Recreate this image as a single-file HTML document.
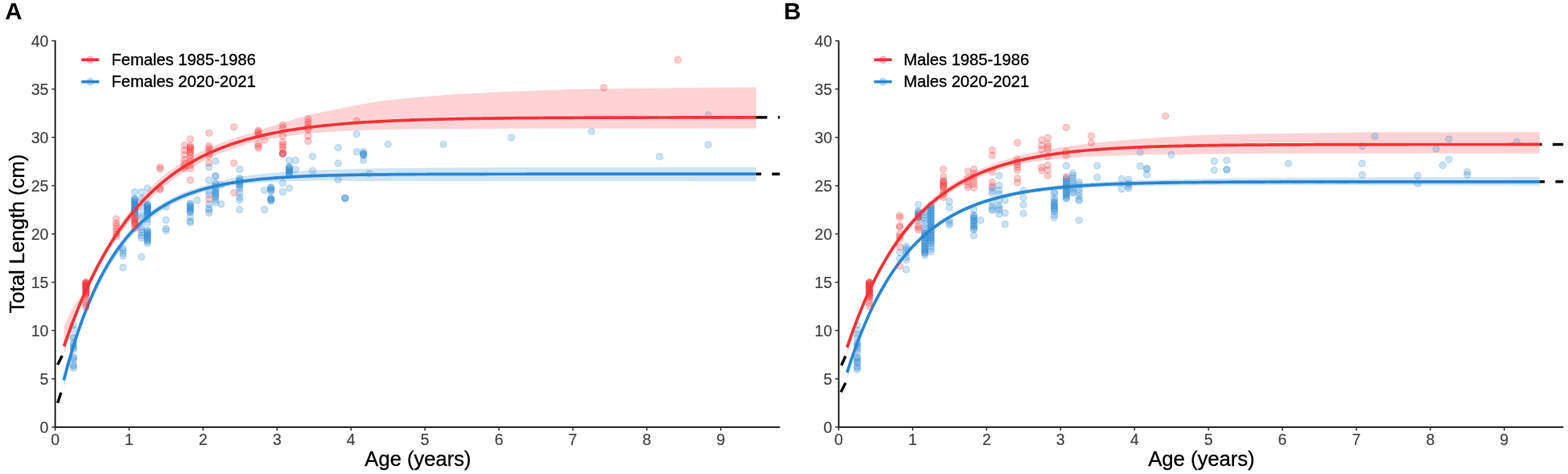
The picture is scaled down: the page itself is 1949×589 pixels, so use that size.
<!DOCTYPE html><html><head><meta charset="utf-8"><style>html,body{margin:0;padding:0;background:#fff;}svg{display:block;}</style></head><body>
<svg font-family='&quot;Liberation Sans&quot;, Arial, sans-serif' width="1949" height="589" viewBox="0 0 1949 589">
<rect width="1949" height="589" fill="#fff"/>
<defs><clipPath id="clipA"><rect x="68.6" y="40" width="900.8" height="490.7"/></clipPath></defs>
<g clip-path="url(#clipA)">
<path d="M79.63,404.98 L83.95,395.61 L88.28,386.77 L92.60,379.38 L96.92,373.11 L101.25,367.31 L105.57,358.46 L109.89,349.34 L114.22,340.64 L118.54,332.33 L122.87,324.40 L127.19,316.26 L131.51,308.32 L135.84,300.71 L140.16,293.42 L144.48,286.43 L148.81,279.73 L153.13,273.31 L157.45,267.15 L161.78,261.32 L166.10,255.94 L170.42,250.79 L174.75,245.85 L179.07,241.14 L183.39,236.62 L187.72,232.29 L192.04,228.16 L196.36,224.19 L200.69,220.49 L205.01,216.98 L209.33,213.62 L213.66,210.41 L217.98,207.35 L222.31,204.41 L226.63,201.61 L230.95,198.93 L235.28,196.37 L239.60,193.93 L243.92,191.59 L248.25,189.35 L252.57,187.22 L256.89,185.19 L261.22,183.25 L265.54,181.39 L269.86,179.63 L274.19,177.93 L278.51,176.32 L282.83,174.78 L287.16,173.31 L291.48,171.90 L295.80,170.56 L300.13,169.20 L304.45,167.79 L308.77,166.43 L313.10,165.13 L317.42,163.87 L321.74,162.31 L326.07,160.77 L330.39,159.28 L334.72,157.83 L339.04,156.42 L343.36,155.05 L347.69,153.71 L352.01,152.41 L356.33,151.15 L360.66,149.83 L364.98,148.40 L369.30,147.00 L373.63,145.63 L377.95,144.29 L382.27,143.20 L386.60,142.24 L390.92,141.30 L395.24,140.38 L399.57,139.49 L403.89,138.62 L408.21,137.77 L412.54,136.94 L416.86,136.03 L421.18,135.12 L425.51,134.22 L429.83,133.34 L434.16,132.48 L438.48,131.63 L442.80,130.80 L447.13,129.98 L451.45,129.17 L455.77,128.38 L460.10,127.59 L464.42,126.82 L468.74,126.13 L473.07,125.62 L477.39,125.13 L481.71,124.65 L486.04,124.17 L490.36,123.70 L494.68,123.25 L499.01,122.80 L503.33,122.35 L507.65,121.92 L511.98,121.49 L516.30,121.07 L520.62,120.65 L524.95,120.29 L529.27,119.95 L533.60,119.61 L537.92,119.28 L542.24,118.95 L546.57,118.63 L550.89,118.32 L555.21,118.01 L559.54,117.70 L563.86,117.39 L568.18,117.09 L572.51,116.80 L576.83,116.51 L581.15,116.24 L585.48,116.04 L589.80,115.83 L594.12,115.63 L598.45,115.43 L602.77,115.23 L607.09,115.04 L611.42,114.85 L615.74,114.66 L620.06,114.47 L624.39,114.29 L628.71,114.10 L633.03,113.92 L637.36,113.74 L641.68,113.57 L646.01,113.39 L650.33,113.22 L654.65,113.05 L658.98,112.88 L663.30,112.71 L667.62,112.54 L671.95,112.37 L676.27,112.21 L680.59,112.04 L684.92,111.88 L689.24,111.72 L693.56,111.56 L697.89,111.40 L702.21,111.24 L706.53,111.08 L710.86,110.93 L715.18,110.84 L719.50,110.78 L723.83,110.72 L728.15,110.67 L732.47,110.61 L736.80,110.55 L741.12,110.50 L745.45,110.44 L749.77,110.39 L754.09,110.34 L758.42,110.28 L762.74,110.23 L767.06,110.18 L771.39,110.13 L775.71,110.08 L780.03,110.03 L784.36,109.98 L788.68,109.93 L793.00,109.88 L797.33,109.83 L801.65,109.78 L805.97,109.73 L810.30,109.68 L814.62,109.64 L818.94,109.59 L823.27,109.54 L827.59,109.49 L831.91,109.45 L836.24,109.40 L840.56,109.36 L844.89,109.31 L849.21,109.26 L853.53,109.22 L857.86,109.17 L862.18,109.13 L866.50,109.08 L870.83,109.04 L875.15,108.99 L879.47,108.95 L883.80,108.90 L888.12,108.86 L892.44,108.82 L896.77,108.77 L901.09,108.73 L905.41,108.69 L909.74,108.64 L914.06,108.60 L918.38,108.56 L922.71,108.51 L927.03,108.47 L931.35,108.43 L935.68,108.38 L940.00,108.34 L940.00,159.58 L935.68,159.57 L931.35,159.57 L927.03,159.56 L922.71,159.55 L918.38,159.55 L914.06,159.54 L909.74,159.53 L905.41,159.53 L901.09,159.52 L896.77,159.51 L892.44,159.51 L888.12,159.50 L883.80,159.49 L879.47,159.49 L875.15,159.48 L870.83,159.48 L866.50,159.47 L862.18,159.47 L857.86,159.46 L853.53,159.46 L849.21,159.45 L844.89,159.45 L840.56,159.44 L836.24,159.44 L831.91,159.44 L827.59,159.43 L823.27,159.43 L818.94,159.43 L814.62,159.42 L810.30,159.42 L805.97,159.42 L801.65,159.42 L797.33,159.42 L793.00,159.41 L788.68,159.41 L784.36,159.41 L780.03,159.41 L775.71,159.41 L771.39,159.42 L767.06,159.42 L762.74,159.42 L758.42,159.42 L754.09,159.42 L749.77,159.43 L745.45,159.43 L741.12,159.44 L736.80,159.44 L732.47,159.45 L728.15,159.45 L723.83,159.46 L719.50,159.47 L715.18,159.48 L710.86,159.48 L706.53,159.49 L702.21,159.49 L697.89,159.50 L693.56,159.51 L689.24,159.51 L684.92,159.52 L680.59,159.53 L676.27,159.54 L671.95,159.55 L667.62,159.57 L663.30,159.58 L658.98,159.60 L654.65,159.62 L650.33,159.64 L646.01,159.66 L641.68,159.68 L637.36,159.70 L633.03,159.73 L628.71,159.76 L624.39,159.79 L620.06,159.82 L615.74,159.85 L611.42,159.89 L607.09,159.93 L602.77,159.97 L598.45,160.01 L594.12,160.06 L589.80,160.11 L585.48,160.16 L581.15,160.22 L576.83,160.22 L572.51,160.20 L568.18,160.18 L563.86,160.17 L559.54,160.16 L555.21,160.15 L550.89,160.15 L546.57,160.15 L542.24,160.16 L537.92,160.17 L533.60,160.19 L529.27,160.21 L524.95,160.24 L520.62,160.27 L516.30,160.32 L511.98,160.37 L507.65,160.42 L503.33,160.48 L499.01,160.55 L494.68,160.63 L490.36,160.71 L486.04,160.81 L481.71,160.91 L477.39,161.02 L473.07,161.14 L468.74,161.27 L464.42,161.39 L460.10,161.51 L455.77,161.65 L451.45,161.79 L447.13,161.95 L442.80,162.12 L438.48,162.30 L434.16,162.50 L429.83,162.71 L425.51,162.94 L421.18,163.18 L416.86,163.44 L412.54,163.72 L408.21,164.00 L403.89,164.31 L399.57,164.63 L395.24,164.97 L390.92,165.34 L386.60,165.72 L382.27,166.14 L377.95,166.59 L373.63,167.12 L369.30,167.67 L364.98,168.25 L360.66,168.86 L356.33,169.46 L352.01,170.09 L347.69,170.75 L343.36,171.44 L339.04,172.17 L334.72,172.95 L330.39,173.76 L326.07,174.61 L321.74,175.51 L317.42,176.46 L313.10,177.58 L308.77,178.75 L304.45,179.98 L300.13,181.26 L295.80,182.63 L291.48,184.08 L287.16,185.60 L282.83,187.19 L278.51,188.84 L274.19,190.57 L269.86,192.37 L265.54,194.25 L261.22,196.22 L256.89,198.27 L252.57,200.41 L248.25,202.64 L243.92,204.97 L239.60,207.40 L235.28,209.95 L230.95,212.60 L226.63,215.37 L222.31,218.27 L217.98,221.30 L213.66,224.46 L209.33,227.76 L205.01,231.21 L200.69,234.82 L196.36,238.56 L192.04,242.38 L187.72,246.38 L183.39,250.56 L179.07,254.94 L174.75,259.52 L170.42,264.31 L166.10,269.32 L161.78,274.56 L157.45,279.90 L153.13,285.42 L148.81,291.21 L144.48,297.28 L140.16,303.63 L135.84,310.29 L131.51,317.26 L127.19,324.56 L122.87,332.27 L118.54,340.56 L114.22,349.23 L109.89,358.29 L105.57,367.76 L101.25,377.78 L96.92,388.79 L92.60,400.26 L88.28,412.58 L83.95,425.91 L79.63,439.78 Z" fill="#FFD3D5"/>
<path d="M79.17,468.92 L83.50,452.96 L87.82,438.04 L92.15,424.07 L96.47,410.99 L100.80,398.75 L105.13,387.29 L109.45,376.37 L113.78,366.13 L118.10,356.54 L122.43,347.55 L126.75,338.98 L131.08,330.88 L135.41,323.27 L139.73,316.13 L144.06,309.42 L148.38,303.13 L152.71,297.21 L157.03,291.66 L161.36,286.48 L165.69,281.79 L170.01,277.39 L174.34,273.27 L178.66,269.41 L182.99,265.80 L187.32,262.41 L191.64,259.23 L195.97,256.26 L200.29,253.47 L204.62,250.86 L208.94,248.41 L213.27,246.12 L217.60,243.97 L221.92,241.95 L226.25,240.07 L230.57,238.30 L234.90,236.64 L239.22,235.09 L243.55,233.63 L247.88,232.27 L252.20,230.99 L256.53,229.64 L260.85,228.36 L265.18,227.14 L269.51,225.99 L273.83,224.91 L278.16,223.88 L282.48,222.91 L286.81,221.98 L291.13,221.11 L295.46,220.28 L299.79,219.49 L304.11,218.84 L308.44,218.24 L312.76,217.68 L317.09,217.14 L321.41,216.64 L325.74,216.17 L330.07,215.72 L334.39,215.30 L338.72,214.90 L343.04,214.52 L347.37,214.16 L351.70,213.82 L356.02,213.50 L360.35,213.20 L364.67,212.91 L369.00,212.64 L373.32,212.38 L377.65,212.13 L381.98,211.91 L386.30,211.71 L390.63,211.51 L394.95,211.33 L399.28,211.16 L403.60,211.00 L407.93,210.84 L412.26,210.69 L416.58,210.55 L420.91,210.42 L425.23,210.29 L429.56,210.17 L433.88,210.06 L438.21,209.94 L442.54,209.84 L446.86,209.74 L451.19,209.64 L455.51,209.55 L459.84,209.46 L464.17,209.39 L468.49,209.32 L472.82,209.26 L477.14,209.20 L481.47,209.15 L485.79,209.09 L490.12,209.04 L494.45,208.99 L498.77,208.94 L503.10,208.90 L507.42,208.85 L511.75,208.81 L516.07,208.77 L520.40,208.73 L524.73,208.69 L529.05,208.66 L533.38,208.62 L537.70,208.59 L542.03,208.56 L546.36,208.52 L550.68,208.49 L555.01,208.46 L559.33,208.44 L563.66,208.41 L567.98,208.38 L572.31,208.35 L576.64,208.33 L580.96,208.30 L585.29,208.28 L589.61,208.25 L593.94,208.23 L598.26,208.21 L602.59,208.18 L606.92,208.16 L611.24,208.14 L615.57,208.12 L619.89,208.10 L624.22,208.09 L628.55,208.08 L632.87,208.07 L637.20,208.07 L641.52,208.06 L645.85,208.05 L650.17,208.05 L654.50,208.04 L658.83,208.03 L663.15,208.03 L667.48,208.02 L671.80,208.02 L676.13,208.01 L680.45,208.01 L684.78,208.00 L689.11,207.99 L693.43,207.99 L697.76,207.99 L702.08,207.98 L706.41,207.98 L710.74,207.97 L715.06,207.97 L719.39,207.96 L723.71,207.96 L728.04,207.95 L732.36,207.95 L736.69,207.95 L741.02,207.94 L745.34,207.94 L749.67,207.93 L753.99,207.93 L758.32,207.93 L762.64,207.92 L766.97,207.92 L771.30,207.91 L775.62,207.91 L779.95,207.91 L784.27,207.90 L788.60,207.90 L792.92,207.90 L797.25,207.89 L801.58,207.89 L805.90,207.89 L810.23,207.88 L814.55,207.88 L818.88,207.87 L823.21,207.87 L827.53,207.87 L831.86,207.86 L836.18,207.86 L840.51,207.86 L844.83,207.85 L849.16,207.85 L853.49,207.85 L857.81,207.84 L862.14,207.84 L866.46,207.84 L870.79,207.83 L875.11,207.83 L879.44,207.83 L883.77,207.82 L888.09,207.82 L892.42,207.82 L896.74,207.81 L901.07,207.81 L905.40,207.81 L909.72,207.80 L914.05,207.80 L918.37,207.80 L922.70,207.79 L927.02,207.79 L931.35,207.79 L935.68,207.78 L940.00,207.78 L940.00,225.18 L935.68,225.18 L931.35,225.17 L927.02,225.17 L922.70,225.17 L918.37,225.16 L914.05,225.16 L909.72,225.16 L905.40,225.16 L901.07,225.15 L896.74,225.15 L892.42,225.15 L888.09,225.14 L883.77,225.14 L879.44,225.14 L875.11,225.13 L870.79,225.13 L866.46,225.13 L862.14,225.12 L857.81,225.12 L853.49,225.12 L849.16,225.11 L844.83,225.11 L840.51,225.11 L836.18,225.11 L831.86,225.10 L827.53,225.10 L823.21,225.10 L818.88,225.09 L814.55,225.09 L810.23,225.09 L805.90,225.08 L801.58,225.08 L797.25,225.08 L792.92,225.08 L788.60,225.07 L784.27,225.07 L779.95,225.07 L775.62,225.06 L771.30,225.06 L766.97,225.06 L762.64,225.06 L758.32,225.05 L753.99,225.05 L749.67,225.05 L745.34,225.05 L741.02,225.04 L736.69,225.04 L732.36,225.04 L728.04,225.04 L723.71,225.03 L719.39,225.03 L715.06,225.03 L710.74,225.03 L706.41,225.03 L702.08,225.02 L697.76,225.02 L693.43,225.02 L689.11,225.02 L684.78,225.02 L680.45,225.02 L676.13,225.01 L671.80,225.01 L667.48,225.01 L663.15,225.01 L658.83,225.01 L654.50,225.01 L650.17,225.01 L645.85,225.01 L641.52,225.01 L637.20,225.01 L632.87,225.01 L628.55,225.01 L624.22,225.01 L619.89,225.01 L615.57,225.00 L611.24,224.99 L606.92,224.98 L602.59,224.97 L598.26,224.96 L593.94,224.95 L589.61,224.94 L585.29,224.94 L580.96,224.93 L576.64,224.92 L572.31,224.92 L567.98,224.91 L563.66,224.90 L559.33,224.90 L555.01,224.90 L550.68,224.89 L546.36,224.89 L542.03,224.89 L537.70,224.89 L533.38,224.89 L529.05,224.89 L524.73,224.90 L520.40,224.90 L516.07,224.91 L511.75,224.92 L507.42,224.93 L503.10,224.94 L498.77,224.95 L494.45,224.97 L490.12,224.98 L485.79,225.00 L481.47,225.03 L477.14,225.05 L472.82,225.08 L468.49,225.11 L464.17,225.14 L459.84,225.17 L455.51,225.09 L451.19,225.02 L446.86,224.96 L442.54,224.90 L438.21,224.84 L433.88,224.79 L429.56,224.74 L425.23,224.70 L420.91,224.67 L416.58,224.64 L412.26,224.62 L407.93,224.60 L403.60,224.59 L399.28,224.60 L394.95,224.61 L390.63,224.62 L386.30,224.65 L381.98,224.69 L377.65,224.75 L373.32,224.83 L369.00,224.92 L364.67,225.02 L360.35,225.14 L356.02,225.28 L351.70,225.43 L347.37,225.60 L343.04,225.79 L338.72,226.00 L334.39,226.23 L330.07,226.48 L325.74,226.76 L321.41,227.07 L317.09,227.40 L312.76,227.77 L308.44,228.16 L304.11,228.60 L299.79,229.08 L295.46,229.70 L291.13,230.37 L286.81,231.08 L282.48,231.84 L278.16,232.65 L273.83,233.51 L269.51,234.44 L265.18,235.42 L260.85,236.47 L256.53,237.59 L252.20,238.80 L247.88,240.16 L243.55,241.61 L239.22,243.15 L234.90,244.78 L230.57,246.52 L226.25,248.38 L221.92,250.35 L217.60,252.45 L213.27,254.68 L208.94,257.06 L204.62,259.59 L200.29,262.29 L195.97,265.16 L191.64,268.22 L187.32,271.48 L182.99,274.96 L178.66,278.66 L174.34,282.60 L170.01,286.81 L165.69,291.29 L161.36,296.06 L157.03,301.20 L152.71,306.68 L148.38,312.53 L144.06,318.75 L139.73,325.39 L135.41,332.46 L131.08,340.00 L126.75,348.03 L122.43,356.51 L118.10,365.36 L113.78,374.81 L109.45,384.91 L105.13,395.73 L100.80,408.00 L96.47,421.05 L92.15,434.93 L87.82,449.71 L83.50,465.44 L79.17,482.12 Z" fill="#CFE4F7"/>
<path d="M969.42,145.89 L967.19,145.89 L964.96,145.89 L962.73,145.89 L960.50,145.89 L958.27,145.89 L956.04,145.89 L953.81,145.90 L951.58,145.90 L949.35,145.90 L947.12,145.90 L944.89,145.90 L942.66,145.90 L940.43,145.90 L938.20,145.90 L935.97,145.90 L933.74,145.90 L931.51,145.90 L929.28,145.91 L927.05,145.91 L924.82,145.91 L922.59,145.91 L920.36,145.91 L918.13,145.91 L915.90,145.91 L913.67,145.91 L911.43,145.91 L909.20,145.92 L906.97,145.92 L904.74,145.92 L902.51,145.92 L900.28,145.92 L898.05,145.92 L895.82,145.92 L893.59,145.93 L891.36,145.93 L889.13,145.93 L886.90,145.93 L884.67,145.93 L882.44,145.93 L880.21,145.94 L877.98,145.94 L875.75,145.94 L873.52,145.94 L871.29,145.94 L869.06,145.94 L866.83,145.95 L864.60,145.95 L862.37,145.95 L860.14,145.95 L857.91,145.95 L855.68,145.96 L853.45,145.96 L851.22,145.96 L848.99,145.96 L846.76,145.97 L844.53,145.97 L842.30,145.97 L840.07,145.97 L837.84,145.98 L835.61,145.98 L833.38,145.98 L831.15,145.98 L828.92,145.99 L826.69,145.99 L824.46,145.99 L822.23,146.00 L820.00,146.00 L817.77,146.00 L815.54,146.01 L813.31,146.01 L811.08,146.01 L808.85,146.02 L806.62,146.02 L804.39,146.02 L802.16,146.03 L799.93,146.03 L797.70,146.04 L795.47,146.04 L793.24,146.04 L791.01,146.05 L788.78,146.05 L786.55,146.06 L784.32,146.06 L782.09,146.07 L779.86,146.07 L777.63,146.08 L775.40,146.08 L773.17,146.09 L770.94,146.09 L768.71,146.10 L766.48,146.10 L764.25,146.11 L762.02,146.11 L759.79,146.12 L757.56,146.13 L755.33,146.13 L753.10,146.14 L750.87,146.14 L748.64,146.15 L746.41,146.16 L744.18,146.16 L741.95,146.17 L739.72,146.18 L737.49,146.19 L735.26,146.19 L733.03,146.20 L730.80,146.21 L728.57,146.22 L726.34,146.23 L724.11,146.23 L721.88,146.24 L719.65,146.25 L717.42,146.26 L715.19,146.27 L712.96,146.28 L710.73,146.29 L708.50,146.30 L706.27,146.31 L704.04,146.32 L701.81,146.33 L699.58,146.34 L697.35,146.35 L695.12,146.36 L692.89,146.38 L690.66,146.39 L688.43,146.40 L686.20,146.41 L683.97,146.43 L681.74,146.44 L679.51,146.45 L677.28,146.47 L675.05,146.48 L672.82,146.49 L670.59,146.51 L668.36,146.52 L666.13,146.54 L663.90,146.56 L661.67,146.57 L659.44,146.59 L657.21,146.61 L654.98,146.62 L652.75,146.64 L650.52,146.66 L648.29,146.68 L646.06,146.70 L643.83,146.72 L641.60,146.74 L639.37,146.76 L637.14,146.78 L634.91,146.80 L632.68,146.82 L630.45,146.84 L628.22,146.86 L625.99,146.89 L623.76,146.91 L621.53,146.94 L619.30,146.96 L617.07,146.99 L614.84,147.01 L612.61,147.04 L610.38,147.07 L608.15,147.09 L605.92,147.12 L603.69,147.15 L601.46,147.18 L599.23,147.21 L597.00,147.24 L594.77,147.28 L592.54,147.31 L590.31,147.34 L588.08,147.38 L585.85,147.41 L583.62,147.45 L581.39,147.49 L579.16,147.52 L576.93,147.56 L574.70,147.60 L572.47,147.64 L570.24,147.68 L568.01,147.73 L565.78,147.77 L563.55,147.81 L561.32,147.86 L559.09,147.91 L556.86,147.95 L554.63,148.00 L552.40,148.05 L550.17,148.10 L547.94,148.15 L545.71,148.21 L543.48,148.26 L541.25,148.32 L539.02,148.38 L536.79,148.43 L534.56,148.49 L532.33,148.55 L530.10,148.62 L527.87,148.68 L525.64,148.75 L523.41,148.81 L521.18,148.88 L518.95,148.95 L516.72,149.02 L514.49,149.10 L512.26,149.17 L510.03,149.25 L507.80,149.33 L505.57,149.41 L503.34,149.49 L501.11,149.58 L498.88,149.66 L496.65,149.75 L494.42,149.84 L492.19,149.93 L489.96,150.03 L487.73,150.12 L485.50,150.22 L483.27,150.32 L481.04,150.43 L478.81,150.53 L476.58,150.64 L474.35,150.75 L472.12,150.87 L469.89,150.98 L467.66,151.10 L465.43,151.22 L463.20,151.35 L460.97,151.48 L458.74,151.61 L456.51,151.74 L454.28,151.88 L452.05,152.02 L449.82,152.16 L447.59,152.30 L445.36,152.45 L443.13,152.61 L440.90,152.76 L438.67,152.92 L436.44,153.09 L434.21,153.26 L431.98,153.43 L429.75,153.60 L427.52,153.78 L425.29,153.97 L423.06,154.16 L420.83,154.35 L418.60,154.55 L416.37,154.75 L414.14,154.95 L411.91,155.16 L409.68,155.38 L407.45,155.60 L405.22,155.83 L402.99,156.06 L400.76,156.30 L398.53,156.54 L396.30,156.79 L394.07,157.04 L391.84,157.30 L389.61,157.56 L387.38,157.84 L385.15,158.11 L382.92,158.40 L380.69,158.69 L378.46,158.99 L376.23,159.29 L374.00,159.60 L371.77,159.92 L369.54,160.25 L367.31,160.58 L365.08,160.93 L362.85,161.28 L360.62,161.63 L358.39,162.00 L356.16,162.37 L353.93,162.76 L351.70,163.15 L349.47,163.55 L347.24,163.96 L345.01,164.38 L342.78,164.81 L340.54,165.25 L338.31,165.70 L336.08,166.16 L333.85,166.63 L331.62,167.12 L329.39,167.61 L327.16,168.12 L324.93,168.63 L322.70,169.16 L320.47,169.70 L318.24,170.26 L316.01,170.82 L313.78,171.40 L311.55,171.99 L309.32,172.60 L307.09,173.22 L304.86,173.86 L302.63,174.51 L300.40,175.17 L298.17,175.85 L295.94,176.55 L293.71,177.26 L291.48,177.99 L289.25,178.74 L287.02,179.50 L284.79,180.28 L282.56,181.08 L280.33,181.90 L278.10,182.73 L275.87,183.59 L273.64,184.47 L271.41,185.36 L269.18,186.28 L266.95,187.22 L264.72,188.18 L262.49,189.16 L260.26,190.17 L258.03,191.19 L255.80,192.25 L253.57,193.32 L251.34,194.43 L249.11,195.55 L246.88,196.71 L244.65,197.89 L242.42,199.09 L240.19,200.33 L237.96,201.60 L235.73,202.89 L233.50,204.21 L231.27,205.57 L229.04,206.95 L226.81,208.37 L224.58,209.82 L222.35,211.31 L220.12,212.83 L217.89,214.38 L215.66,215.97 L213.43,217.60 L211.20,219.27 L208.97,220.97 L206.74,222.72 L204.51,224.50 L202.28,226.33 L200.05,228.19 L197.82,230.10 L195.59,232.06 L193.36,234.06 L191.13,236.11 L188.90,238.20 L186.67,240.35 L184.44,242.54 L182.21,244.79 L179.98,247.08 L177.75,249.43 L175.52,251.84 L173.29,254.30 L171.06,256.82 L168.83,259.39 L166.60,262.03 L164.37,264.72 L162.14,267.48 L159.91,270.31 L157.68,273.20 L155.45,276.15 L153.22,279.18 L150.99,282.27 L148.76,285.44 L146.53,288.68 L144.30,292.00 L142.07,295.39 L139.84,298.86 L137.61,302.41 L135.38,306.05 L133.15,309.77 L130.92,313.57 L128.69,317.46 L126.46,321.45 L124.23,325.53 L122.00,329.70 L119.77,333.96 L117.54,338.33 L115.31,342.80 L113.08,347.37 L110.85,352.05 L108.62,356.84 L106.39,361.74 L104.16,366.75 L101.93,371.88 L99.70,377.12 L97.47,382.49 L95.24,387.98 L93.01,393.61 L90.78,399.36 L88.55,405.24 L86.32,411.26 L84.09,417.43 L81.86,423.73 L79.63,430.18" fill="none" stroke="#000" stroke-width="2.6" stroke-dasharray="13.6 13.6" stroke-dashoffset="11.2"/>
<path d="M969.42,145.89 L968.40,145.89 L967.39,145.89 L966.37,145.89 L965.36,145.89 L964.34,145.89 L963.33,145.89 L962.32,145.89 L961.30,145.89 L960.29,145.89 L959.27,145.89 L958.26,145.89 L957.24,145.89 L956.23,145.89 L955.22,145.89 L954.20,145.90 L953.19,145.90 L952.17,145.90 L951.16,145.90 L950.14,145.90 L949.13,145.90 L948.12,145.90 L947.10,145.90 L946.09,145.90 L945.07,145.90 L944.06,145.90 L943.04,145.90 L942.03,145.90 L941.02,145.90 L940.00,145.90" fill="none" stroke="#000" stroke-width="3.4" stroke-dasharray="13.6 13.6" stroke-dashoffset="11.2"/>
<path d="M77.2,442.0 L71.6,453.2" stroke="#000" stroke-width="3.4"/>
<path d="M969.42,216.18 L967.18,216.18 L964.95,216.18 L962.72,216.18 L960.49,216.18 L958.26,216.18 L956.03,216.18 L953.80,216.18 L951.57,216.18 L949.34,216.18 L947.10,216.18 L944.87,216.18 L942.64,216.18 L940.41,216.18 L938.18,216.18 L935.95,216.18 L933.72,216.18 L931.49,216.18 L929.25,216.18 L927.02,216.18 L924.79,216.18 L922.56,216.18 L920.33,216.18 L918.10,216.18 L915.87,216.18 L913.64,216.18 L911.41,216.18 L909.17,216.18 L906.94,216.18 L904.71,216.18 L902.48,216.18 L900.25,216.18 L898.02,216.18 L895.79,216.18 L893.56,216.18 L891.32,216.18 L889.09,216.18 L886.86,216.18 L884.63,216.18 L882.40,216.18 L880.17,216.18 L877.94,216.18 L875.71,216.18 L873.47,216.18 L871.24,216.18 L869.01,216.18 L866.78,216.18 L864.55,216.18 L862.32,216.18 L860.09,216.18 L857.86,216.18 L855.63,216.18 L853.39,216.18 L851.16,216.18 L848.93,216.18 L846.70,216.18 L844.47,216.18 L842.24,216.18 L840.01,216.18 L837.78,216.18 L835.54,216.18 L833.31,216.18 L831.08,216.18 L828.85,216.18 L826.62,216.18 L824.39,216.18 L822.16,216.18 L819.93,216.18 L817.70,216.18 L815.46,216.18 L813.23,216.18 L811.00,216.18 L808.77,216.18 L806.54,216.18 L804.31,216.18 L802.08,216.18 L799.85,216.19 L797.61,216.19 L795.38,216.19 L793.15,216.19 L790.92,216.19 L788.69,216.19 L786.46,216.19 L784.23,216.19 L782.00,216.19 L779.76,216.19 L777.53,216.19 L775.30,216.19 L773.07,216.19 L770.84,216.19 L768.61,216.19 L766.38,216.19 L764.15,216.19 L761.92,216.19 L759.68,216.19 L757.45,216.19 L755.22,216.19 L752.99,216.19 L750.76,216.19 L748.53,216.19 L746.30,216.19 L744.07,216.19 L741.83,216.19 L739.60,216.19 L737.37,216.19 L735.14,216.19 L732.91,216.19 L730.68,216.19 L728.45,216.19 L726.22,216.20 L723.98,216.20 L721.75,216.20 L719.52,216.20 L717.29,216.20 L715.06,216.20 L712.83,216.20 L710.60,216.20 L708.37,216.20 L706.14,216.20 L703.90,216.20 L701.67,216.20 L699.44,216.20 L697.21,216.20 L694.98,216.20 L692.75,216.21 L690.52,216.21 L688.29,216.21 L686.05,216.21 L683.82,216.21 L681.59,216.21 L679.36,216.21 L677.13,216.21 L674.90,216.21 L672.67,216.21 L670.44,216.22 L668.21,216.22 L665.97,216.22 L663.74,216.22 L661.51,216.22 L659.28,216.22 L657.05,216.22 L654.82,216.22 L652.59,216.23 L650.36,216.23 L648.12,216.23 L645.89,216.23 L643.66,216.23 L641.43,216.23 L639.20,216.24 L636.97,216.24 L634.74,216.24 L632.51,216.24 L630.27,216.24 L628.04,216.25 L625.81,216.25 L623.58,216.25 L621.35,216.25 L619.12,216.26 L616.89,216.26 L614.66,216.26 L612.43,216.26 L610.19,216.27 L607.96,216.27 L605.73,216.27 L603.50,216.28 L601.27,216.28 L599.04,216.28 L596.81,216.29 L594.58,216.29 L592.34,216.29 L590.11,216.30 L587.88,216.30 L585.65,216.31 L583.42,216.31 L581.19,216.32 L578.96,216.32 L576.73,216.32 L574.50,216.33 L572.26,216.33 L570.03,216.34 L567.80,216.35 L565.57,216.35 L563.34,216.36 L561.11,216.36 L558.88,216.37 L556.65,216.38 L554.41,216.38 L552.18,216.39 L549.95,216.40 L547.72,216.40 L545.49,216.41 L543.26,216.42 L541.03,216.43 L538.80,216.44 L536.56,216.44 L534.33,216.45 L532.10,216.46 L529.87,216.47 L527.64,216.48 L525.41,216.49 L523.18,216.50 L520.95,216.51 L518.72,216.53 L516.48,216.54 L514.25,216.55 L512.02,216.56 L509.79,216.58 L507.56,216.59 L505.33,216.60 L503.10,216.62 L500.87,216.63 L498.63,216.65 L496.40,216.66 L494.17,216.68 L491.94,216.70 L489.71,216.71 L487.48,216.73 L485.25,216.75 L483.02,216.77 L480.79,216.79 L478.55,216.81 L476.32,216.83 L474.09,216.86 L471.86,216.88 L469.63,216.90 L467.40,216.93 L465.17,216.95 L462.94,216.98 L460.70,217.01 L458.47,217.04 L456.24,217.06 L454.01,217.09 L451.78,217.13 L449.55,217.16 L447.32,217.19 L445.09,217.23 L442.85,217.26 L440.62,217.30 L438.39,217.34 L436.16,217.38 L433.93,217.42 L431.70,217.46 L429.47,217.50 L427.24,217.55 L425.01,217.59 L422.77,217.64 L420.54,217.69 L418.31,217.74 L416.08,217.80 L413.85,217.85 L411.62,217.91 L409.39,217.97 L407.16,218.03 L404.92,218.09 L402.69,218.16 L400.46,218.23 L398.23,218.30 L396.00,218.37 L393.77,218.44 L391.54,218.52 L389.31,218.60 L387.08,218.68 L384.84,218.77 L382.61,218.86 L380.38,218.95 L378.15,219.04 L375.92,219.14 L373.69,219.24 L371.46,219.34 L369.23,219.45 L366.99,219.56 L364.76,219.68 L362.53,219.80 L360.30,219.92 L358.07,220.05 L355.84,220.18 L353.61,220.32 L351.38,220.46 L349.14,220.61 L346.91,220.76 L344.68,220.91 L342.45,221.07 L340.22,221.24 L337.99,221.41 L335.76,221.59 L333.53,221.78 L331.30,221.97 L329.06,222.17 L326.83,222.37 L324.60,222.58 L322.37,222.80 L320.14,223.03 L317.91,223.26 L315.68,223.50 L313.45,223.75 L311.21,224.01 L308.98,224.28 L306.75,224.55 L304.52,224.84 L302.29,225.13 L300.06,225.44 L297.83,225.75 L295.60,226.08 L293.37,226.42 L291.13,226.77 L288.90,227.13 L286.67,227.50 L284.44,227.89 L282.21,228.29 L279.98,228.70 L277.75,229.13 L275.52,229.57 L273.28,230.03 L271.05,230.50 L268.82,230.99 L266.59,231.49 L264.36,232.02 L262.13,232.56 L259.90,233.11 L257.67,233.69 L255.43,234.29 L253.20,234.91 L250.97,235.55 L248.74,236.21 L246.51,236.89 L244.28,237.60 L242.05,238.33 L239.82,239.08 L237.59,239.86 L235.35,240.67 L233.12,241.51 L230.89,242.37 L228.66,243.26 L226.43,244.19 L224.20,245.14 L221.97,246.13 L219.74,247.15 L217.50,248.21 L215.27,249.30 L213.04,250.43 L210.81,251.60 L208.58,252.81 L206.35,254.06 L204.12,255.35 L201.89,256.69 L199.66,258.07 L197.42,259.50 L195.19,260.98 L192.96,262.51 L190.73,264.09 L188.50,265.72 L186.27,267.41 L184.04,269.16 L181.81,270.97 L179.57,272.83 L177.34,274.77 L175.11,276.77 L172.88,278.83 L170.65,280.97 L168.42,283.18 L166.19,285.47 L163.96,287.83 L161.72,290.27 L159.49,292.80 L157.26,295.41 L155.03,298.12 L152.80,300.91 L150.57,303.80 L148.34,306.79 L146.11,309.88 L143.88,313.08 L141.64,316.39 L139.41,319.81 L137.18,323.34 L134.95,327.00 L132.72,330.78 L130.49,334.69 L128.26,338.73 L126.03,342.91 L123.79,347.23 L121.56,351.70 L119.33,356.33 L117.10,361.11 L114.87,366.05 L112.64,371.17 L110.41,376.45 L108.18,381.92 L105.95,387.57 L103.71,393.42 L101.48,399.47 L99.25,405.72 L97.02,412.19 L94.79,418.87 L92.56,425.79 L90.33,432.94 L88.10,440.33 L85.86,447.98 L83.63,455.89 L81.40,464.07 L79.17,472.52" fill="none" stroke="#000" stroke-width="2.6" stroke-dasharray="13.6 13.6" stroke-dashoffset="3.9"/>
<path d="M969.42,216.18 L968.40,216.18 L967.39,216.18 L966.37,216.18 L965.36,216.18 L964.34,216.18 L963.33,216.18 L962.32,216.18 L961.30,216.18 L960.29,216.18 L959.27,216.18 L958.26,216.18 L957.24,216.18 L956.23,216.18 L955.22,216.18 L954.20,216.18 L953.19,216.18 L952.17,216.18 L951.16,216.18 L950.14,216.18 L949.13,216.18 L948.12,216.18 L947.10,216.18 L946.09,216.18 L945.07,216.18 L944.06,216.18 L943.04,216.18 L942.03,216.18 L941.02,216.18 L940.00,216.18" fill="none" stroke="#000" stroke-width="3.4" stroke-dasharray="13.6 13.6" stroke-dashoffset="3.9"/>
<path d="M75.9,487.7 L71.6,500.7" stroke="#000" stroke-width="3.4"/>
<circle cx="91.3" cy="403.9" r="4.05" fill="#2887D3" fill-opacity="0.24" stroke="#2887D3" stroke-opacity="0.25" stroke-width="1.2"/>
<circle cx="91.3" cy="409.3" r="4.05" fill="#2887D3" fill-opacity="0.24" stroke="#2887D3" stroke-opacity="0.25" stroke-width="1.2"/>
<circle cx="91.3" cy="418.8" r="4.05" fill="#2887D3" fill-opacity="0.24" stroke="#2887D3" stroke-opacity="0.25" stroke-width="1.2"/>
<circle cx="91.3" cy="425.9" r="4.05" fill="#2887D3" fill-opacity="0.24" stroke="#2887D3" stroke-opacity="0.25" stroke-width="1.2"/>
<circle cx="91.3" cy="430.7" r="4.05" fill="#2887D3" fill-opacity="0.24" stroke="#2887D3" stroke-opacity="0.25" stroke-width="1.2"/>
<circle cx="91.3" cy="434.2" r="4.05" fill="#2887D3" fill-opacity="0.24" stroke="#2887D3" stroke-opacity="0.25" stroke-width="1.2"/>
<circle cx="91.3" cy="443.7" r="4.05" fill="#2887D3" fill-opacity="0.24" stroke="#2887D3" stroke-opacity="0.25" stroke-width="1.2"/>
<circle cx="91.3" cy="447.3" r="4.05" fill="#2887D3" fill-opacity="0.24" stroke="#2887D3" stroke-opacity="0.25" stroke-width="1.2"/>
<circle cx="91.3" cy="453.3" r="4.05" fill="#2887D3" fill-opacity="0.24" stroke="#2887D3" stroke-opacity="0.25" stroke-width="1.2"/>
<circle cx="91.3" cy="457.4" r="4.05" fill="#2887D3" fill-opacity="0.24" stroke="#2887D3" stroke-opacity="0.25" stroke-width="1.2"/>
<circle cx="152.9" cy="308.7" r="4.05" fill="#2887D3" fill-opacity="0.24" stroke="#2887D3" stroke-opacity="0.25" stroke-width="1.2"/>
<circle cx="152.9" cy="311.2" r="4.05" fill="#2887D3" fill-opacity="0.24" stroke="#2887D3" stroke-opacity="0.25" stroke-width="1.2"/>
<circle cx="152.9" cy="314.6" r="4.05" fill="#2887D3" fill-opacity="0.24" stroke="#2887D3" stroke-opacity="0.25" stroke-width="1.2"/>
<circle cx="152.9" cy="318.0" r="4.05" fill="#2887D3" fill-opacity="0.24" stroke="#2887D3" stroke-opacity="0.25" stroke-width="1.2"/>
<circle cx="152.9" cy="332.4" r="4.05" fill="#2887D3" fill-opacity="0.24" stroke="#2887D3" stroke-opacity="0.25" stroke-width="1.2"/>
<circle cx="167.4" cy="238.6" r="4.05" fill="#2887D3" fill-opacity="0.24" stroke="#2887D3" stroke-opacity="0.25" stroke-width="1.2"/>
<circle cx="167.4" cy="247.4" r="4.05" fill="#2887D3" fill-opacity="0.24" stroke="#2887D3" stroke-opacity="0.25" stroke-width="1.2"/>
<circle cx="167.4" cy="250.8" r="4.05" fill="#2887D3" fill-opacity="0.24" stroke="#2887D3" stroke-opacity="0.25" stroke-width="1.2"/>
<circle cx="167.4" cy="254.2" r="4.05" fill="#2887D3" fill-opacity="0.24" stroke="#2887D3" stroke-opacity="0.25" stroke-width="1.2"/>
<circle cx="167.4" cy="257.6" r="4.05" fill="#2887D3" fill-opacity="0.24" stroke="#2887D3" stroke-opacity="0.25" stroke-width="1.2"/>
<circle cx="167.4" cy="261.0" r="4.05" fill="#2887D3" fill-opacity="0.24" stroke="#2887D3" stroke-opacity="0.25" stroke-width="1.2"/>
<circle cx="167.4" cy="264.4" r="4.05" fill="#2887D3" fill-opacity="0.24" stroke="#2887D3" stroke-opacity="0.25" stroke-width="1.2"/>
<circle cx="175.8" cy="238.6" r="4.05" fill="#2887D3" fill-opacity="0.24" stroke="#2887D3" stroke-opacity="0.25" stroke-width="1.2"/>
<circle cx="175.8" cy="246.7" r="4.05" fill="#2887D3" fill-opacity="0.24" stroke="#2887D3" stroke-opacity="0.25" stroke-width="1.2"/>
<circle cx="175.8" cy="257.6" r="4.05" fill="#2887D3" fill-opacity="0.24" stroke="#2887D3" stroke-opacity="0.25" stroke-width="1.2"/>
<circle cx="175.8" cy="267.1" r="4.05" fill="#2887D3" fill-opacity="0.24" stroke="#2887D3" stroke-opacity="0.25" stroke-width="1.2"/>
<circle cx="175.8" cy="270.5" r="4.05" fill="#2887D3" fill-opacity="0.24" stroke="#2887D3" stroke-opacity="0.25" stroke-width="1.2"/>
<circle cx="175.8" cy="282.1" r="4.05" fill="#2887D3" fill-opacity="0.24" stroke="#2887D3" stroke-opacity="0.25" stroke-width="1.2"/>
<circle cx="175.8" cy="285.5" r="4.05" fill="#2887D3" fill-opacity="0.24" stroke="#2887D3" stroke-opacity="0.25" stroke-width="1.2"/>
<circle cx="175.8" cy="288.9" r="4.05" fill="#2887D3" fill-opacity="0.24" stroke="#2887D3" stroke-opacity="0.25" stroke-width="1.2"/>
<circle cx="175.8" cy="292.9" r="4.05" fill="#2887D3" fill-opacity="0.24" stroke="#2887D3" stroke-opacity="0.25" stroke-width="1.2"/>
<circle cx="175.8" cy="295.7" r="4.05" fill="#2887D3" fill-opacity="0.24" stroke="#2887D3" stroke-opacity="0.25" stroke-width="1.2"/>
<circle cx="175.8" cy="319.2" r="4.05" fill="#2887D3" fill-opacity="0.24" stroke="#2887D3" stroke-opacity="0.25" stroke-width="1.2"/>
<circle cx="183.3" cy="233.8" r="4.05" fill="#2887D3" fill-opacity="0.24" stroke="#2887D3" stroke-opacity="0.25" stroke-width="1.2"/>
<circle cx="183.3" cy="253.5" r="4.05" fill="#2887D3" fill-opacity="0.24" stroke="#2887D3" stroke-opacity="0.25" stroke-width="1.2"/>
<circle cx="183.3" cy="255.6" r="4.05" fill="#2887D3" fill-opacity="0.24" stroke="#2887D3" stroke-opacity="0.25" stroke-width="1.2"/>
<circle cx="183.3" cy="257.6" r="4.05" fill="#2887D3" fill-opacity="0.24" stroke="#2887D3" stroke-opacity="0.25" stroke-width="1.2"/>
<circle cx="183.3" cy="259.6" r="4.05" fill="#2887D3" fill-opacity="0.24" stroke="#2887D3" stroke-opacity="0.25" stroke-width="1.2"/>
<circle cx="183.3" cy="261.7" r="4.05" fill="#2887D3" fill-opacity="0.24" stroke="#2887D3" stroke-opacity="0.25" stroke-width="1.2"/>
<circle cx="183.3" cy="263.7" r="4.05" fill="#2887D3" fill-opacity="0.24" stroke="#2887D3" stroke-opacity="0.25" stroke-width="1.2"/>
<circle cx="183.3" cy="265.8" r="4.05" fill="#2887D3" fill-opacity="0.24" stroke="#2887D3" stroke-opacity="0.25" stroke-width="1.2"/>
<circle cx="183.3" cy="268.5" r="4.05" fill="#2887D3" fill-opacity="0.24" stroke="#2887D3" stroke-opacity="0.25" stroke-width="1.2"/>
<circle cx="183.3" cy="272.6" r="4.05" fill="#2887D3" fill-opacity="0.24" stroke="#2887D3" stroke-opacity="0.25" stroke-width="1.2"/>
<circle cx="183.3" cy="276.6" r="4.05" fill="#2887D3" fill-opacity="0.24" stroke="#2887D3" stroke-opacity="0.25" stroke-width="1.2"/>
<circle cx="183.3" cy="286.1" r="4.05" fill="#2887D3" fill-opacity="0.24" stroke="#2887D3" stroke-opacity="0.25" stroke-width="1.2"/>
<circle cx="183.3" cy="288.9" r="4.05" fill="#2887D3" fill-opacity="0.24" stroke="#2887D3" stroke-opacity="0.25" stroke-width="1.2"/>
<circle cx="183.3" cy="291.6" r="4.05" fill="#2887D3" fill-opacity="0.24" stroke="#2887D3" stroke-opacity="0.25" stroke-width="1.2"/>
<circle cx="183.3" cy="294.3" r="4.05" fill="#2887D3" fill-opacity="0.24" stroke="#2887D3" stroke-opacity="0.25" stroke-width="1.2"/>
<circle cx="183.3" cy="297.0" r="4.05" fill="#2887D3" fill-opacity="0.24" stroke="#2887D3" stroke-opacity="0.25" stroke-width="1.2"/>
<circle cx="183.3" cy="299.7" r="4.05" fill="#2887D3" fill-opacity="0.24" stroke="#2887D3" stroke-opacity="0.25" stroke-width="1.2"/>
<circle cx="183.3" cy="302.4" r="4.05" fill="#2887D3" fill-opacity="0.24" stroke="#2887D3" stroke-opacity="0.25" stroke-width="1.2"/>
<circle cx="206.3" cy="257.0" r="4.05" fill="#2887D3" fill-opacity="0.24" stroke="#2887D3" stroke-opacity="0.25" stroke-width="1.2"/>
<circle cx="206.3" cy="273.4" r="4.05" fill="#2887D3" fill-opacity="0.24" stroke="#2887D3" stroke-opacity="0.25" stroke-width="1.2"/>
<circle cx="206.3" cy="284.1" r="4.05" fill="#2887D3" fill-opacity="0.24" stroke="#2887D3" stroke-opacity="0.25" stroke-width="1.2"/>
<circle cx="206.3" cy="286.7" r="4.05" fill="#2887D3" fill-opacity="0.24" stroke="#2887D3" stroke-opacity="0.25" stroke-width="1.2"/>
<circle cx="236.5" cy="252.7" r="4.05" fill="#2887D3" fill-opacity="0.24" stroke="#2887D3" stroke-opacity="0.25" stroke-width="1.2"/>
<circle cx="236.5" cy="256.1" r="4.05" fill="#2887D3" fill-opacity="0.24" stroke="#2887D3" stroke-opacity="0.25" stroke-width="1.2"/>
<circle cx="236.5" cy="258.7" r="4.05" fill="#2887D3" fill-opacity="0.24" stroke="#2887D3" stroke-opacity="0.25" stroke-width="1.2"/>
<circle cx="236.5" cy="261.2" r="4.05" fill="#2887D3" fill-opacity="0.24" stroke="#2887D3" stroke-opacity="0.25" stroke-width="1.2"/>
<circle cx="236.5" cy="263.8" r="4.05" fill="#2887D3" fill-opacity="0.24" stroke="#2887D3" stroke-opacity="0.25" stroke-width="1.2"/>
<circle cx="236.5" cy="269.7" r="4.05" fill="#2887D3" fill-opacity="0.24" stroke="#2887D3" stroke-opacity="0.25" stroke-width="1.2"/>
<circle cx="236.5" cy="274.8" r="4.05" fill="#2887D3" fill-opacity="0.24" stroke="#2887D3" stroke-opacity="0.25" stroke-width="1.2"/>
<circle cx="236.5" cy="276.5" r="4.05" fill="#2887D3" fill-opacity="0.24" stroke="#2887D3" stroke-opacity="0.25" stroke-width="1.2"/>
<circle cx="245.0" cy="248.9" r="4.05" fill="#2887D3" fill-opacity="0.24" stroke="#2887D3" stroke-opacity="0.25" stroke-width="1.2"/>
<circle cx="259.8" cy="207.7" r="4.05" fill="#2887D3" fill-opacity="0.24" stroke="#2887D3" stroke-opacity="0.25" stroke-width="1.2"/>
<circle cx="259.8" cy="223.9" r="4.05" fill="#2887D3" fill-opacity="0.24" stroke="#2887D3" stroke-opacity="0.25" stroke-width="1.2"/>
<circle cx="259.8" cy="238.3" r="4.05" fill="#2887D3" fill-opacity="0.24" stroke="#2887D3" stroke-opacity="0.25" stroke-width="1.2"/>
<circle cx="259.8" cy="242.0" r="4.05" fill="#2887D3" fill-opacity="0.24" stroke="#2887D3" stroke-opacity="0.25" stroke-width="1.2"/>
<circle cx="259.8" cy="253.6" r="4.05" fill="#2887D3" fill-opacity="0.24" stroke="#2887D3" stroke-opacity="0.25" stroke-width="1.2"/>
<circle cx="259.8" cy="258.7" r="4.05" fill="#2887D3" fill-opacity="0.24" stroke="#2887D3" stroke-opacity="0.25" stroke-width="1.2"/>
<circle cx="259.8" cy="261.2" r="4.05" fill="#2887D3" fill-opacity="0.24" stroke="#2887D3" stroke-opacity="0.25" stroke-width="1.2"/>
<circle cx="259.8" cy="264.6" r="4.05" fill="#2887D3" fill-opacity="0.24" stroke="#2887D3" stroke-opacity="0.25" stroke-width="1.2"/>
<circle cx="267.9" cy="200.1" r="4.05" fill="#2887D3" fill-opacity="0.24" stroke="#2887D3" stroke-opacity="0.25" stroke-width="1.2"/>
<circle cx="267.9" cy="218.8" r="4.05" fill="#2887D3" fill-opacity="0.24" stroke="#2887D3" stroke-opacity="0.25" stroke-width="1.2"/>
<circle cx="267.9" cy="227.2" r="4.05" fill="#2887D3" fill-opacity="0.24" stroke="#2887D3" stroke-opacity="0.25" stroke-width="1.2"/>
<circle cx="267.9" cy="234.9" r="4.05" fill="#2887D3" fill-opacity="0.24" stroke="#2887D3" stroke-opacity="0.25" stroke-width="1.2"/>
<circle cx="267.9" cy="238.3" r="4.05" fill="#2887D3" fill-opacity="0.24" stroke="#2887D3" stroke-opacity="0.25" stroke-width="1.2"/>
<circle cx="267.9" cy="241.7" r="4.05" fill="#2887D3" fill-opacity="0.24" stroke="#2887D3" stroke-opacity="0.25" stroke-width="1.2"/>
<circle cx="267.9" cy="245.1" r="4.05" fill="#2887D3" fill-opacity="0.24" stroke="#2887D3" stroke-opacity="0.25" stroke-width="1.2"/>
<circle cx="267.9" cy="248.5" r="4.05" fill="#2887D3" fill-opacity="0.24" stroke="#2887D3" stroke-opacity="0.25" stroke-width="1.2"/>
<circle cx="267.9" cy="251.9" r="4.05" fill="#2887D3" fill-opacity="0.24" stroke="#2887D3" stroke-opacity="0.25" stroke-width="1.2"/>
<circle cx="275.0" cy="229.8" r="4.05" fill="#2887D3" fill-opacity="0.24" stroke="#2887D3" stroke-opacity="0.25" stroke-width="1.2"/>
<circle cx="275.0" cy="253.6" r="4.05" fill="#2887D3" fill-opacity="0.24" stroke="#2887D3" stroke-opacity="0.25" stroke-width="1.2"/>
<circle cx="297.8" cy="210.4" r="4.05" fill="#2887D3" fill-opacity="0.24" stroke="#2887D3" stroke-opacity="0.25" stroke-width="1.2"/>
<circle cx="297.8" cy="221.3" r="4.05" fill="#2887D3" fill-opacity="0.24" stroke="#2887D3" stroke-opacity="0.25" stroke-width="1.2"/>
<circle cx="297.8" cy="225.5" r="4.05" fill="#2887D3" fill-opacity="0.24" stroke="#2887D3" stroke-opacity="0.25" stroke-width="1.2"/>
<circle cx="297.8" cy="229.8" r="4.05" fill="#2887D3" fill-opacity="0.24" stroke="#2887D3" stroke-opacity="0.25" stroke-width="1.2"/>
<circle cx="297.8" cy="234.9" r="4.05" fill="#2887D3" fill-opacity="0.24" stroke="#2887D3" stroke-opacity="0.25" stroke-width="1.2"/>
<circle cx="297.8" cy="240.0" r="4.05" fill="#2887D3" fill-opacity="0.24" stroke="#2887D3" stroke-opacity="0.25" stroke-width="1.2"/>
<circle cx="297.8" cy="245.1" r="4.05" fill="#2887D3" fill-opacity="0.24" stroke="#2887D3" stroke-opacity="0.25" stroke-width="1.2"/>
<circle cx="297.8" cy="248.5" r="4.05" fill="#2887D3" fill-opacity="0.24" stroke="#2887D3" stroke-opacity="0.25" stroke-width="1.2"/>
<circle cx="297.8" cy="260.5" r="4.05" fill="#2887D3" fill-opacity="0.24" stroke="#2887D3" stroke-opacity="0.25" stroke-width="1.2"/>
<circle cx="328.8" cy="236.3" r="4.05" fill="#2887D3" fill-opacity="0.24" stroke="#2887D3" stroke-opacity="0.25" stroke-width="1.2"/>
<circle cx="328.8" cy="260.6" r="4.05" fill="#2887D3" fill-opacity="0.24" stroke="#2887D3" stroke-opacity="0.25" stroke-width="1.2"/>
<circle cx="336.8" cy="232.5" r="4.05" fill="#2887D3" fill-opacity="0.24" stroke="#2887D3" stroke-opacity="0.25" stroke-width="1.2"/>
<circle cx="336.8" cy="235.1" r="4.05" fill="#2887D3" fill-opacity="0.24" stroke="#2887D3" stroke-opacity="0.25" stroke-width="1.2"/>
<circle cx="336.8" cy="237.6" r="4.05" fill="#2887D3" fill-opacity="0.24" stroke="#2887D3" stroke-opacity="0.25" stroke-width="1.2"/>
<circle cx="336.8" cy="246.1" r="4.05" fill="#2887D3" fill-opacity="0.24" stroke="#2887D3" stroke-opacity="0.25" stroke-width="1.2"/>
<circle cx="336.8" cy="247.8" r="4.05" fill="#2887D3" fill-opacity="0.24" stroke="#2887D3" stroke-opacity="0.25" stroke-width="1.2"/>
<circle cx="336.8" cy="249.5" r="4.05" fill="#2887D3" fill-opacity="0.24" stroke="#2887D3" stroke-opacity="0.25" stroke-width="1.2"/>
<circle cx="351.5" cy="227.4" r="4.05" fill="#2887D3" fill-opacity="0.24" stroke="#2887D3" stroke-opacity="0.25" stroke-width="1.2"/>
<circle cx="351.5" cy="238.5" r="4.05" fill="#2887D3" fill-opacity="0.24" stroke="#2887D3" stroke-opacity="0.25" stroke-width="1.2"/>
<circle cx="359.6" cy="199.4" r="4.05" fill="#2887D3" fill-opacity="0.24" stroke="#2887D3" stroke-opacity="0.25" stroke-width="1.2"/>
<circle cx="359.6" cy="207.1" r="4.05" fill="#2887D3" fill-opacity="0.24" stroke="#2887D3" stroke-opacity="0.25" stroke-width="1.2"/>
<circle cx="359.6" cy="209.6" r="4.05" fill="#2887D3" fill-opacity="0.24" stroke="#2887D3" stroke-opacity="0.25" stroke-width="1.2"/>
<circle cx="359.6" cy="212.2" r="4.05" fill="#2887D3" fill-opacity="0.24" stroke="#2887D3" stroke-opacity="0.25" stroke-width="1.2"/>
<circle cx="359.6" cy="214.7" r="4.05" fill="#2887D3" fill-opacity="0.24" stroke="#2887D3" stroke-opacity="0.25" stroke-width="1.2"/>
<circle cx="359.6" cy="216.4" r="4.05" fill="#2887D3" fill-opacity="0.24" stroke="#2887D3" stroke-opacity="0.25" stroke-width="1.2"/>
<circle cx="359.6" cy="233.8" r="4.05" fill="#2887D3" fill-opacity="0.24" stroke="#2887D3" stroke-opacity="0.25" stroke-width="1.2"/>
<circle cx="367.2" cy="199.4" r="4.05" fill="#2887D3" fill-opacity="0.24" stroke="#2887D3" stroke-opacity="0.25" stroke-width="1.2"/>
<circle cx="367.2" cy="210.5" r="4.05" fill="#2887D3" fill-opacity="0.24" stroke="#2887D3" stroke-opacity="0.25" stroke-width="1.2"/>
<circle cx="388.5" cy="194.3" r="4.05" fill="#2887D3" fill-opacity="0.24" stroke="#2887D3" stroke-opacity="0.25" stroke-width="1.2"/>
<circle cx="388.5" cy="212.2" r="4.05" fill="#2887D3" fill-opacity="0.24" stroke="#2887D3" stroke-opacity="0.25" stroke-width="1.2"/>
<circle cx="420.4" cy="183.5" r="4.05" fill="#2887D3" fill-opacity="0.24" stroke="#2887D3" stroke-opacity="0.25" stroke-width="1.2"/>
<circle cx="420.4" cy="203.0" r="4.05" fill="#2887D3" fill-opacity="0.24" stroke="#2887D3" stroke-opacity="0.25" stroke-width="1.2"/>
<circle cx="420.4" cy="223.2" r="4.05" fill="#2887D3" fill-opacity="0.24" stroke="#2887D3" stroke-opacity="0.25" stroke-width="1.2"/>
<circle cx="428.9" cy="246.3" r="4.05" fill="#2887D3" fill-opacity="0.24" stroke="#2887D3" stroke-opacity="0.25" stroke-width="1.2"/>
<circle cx="428.9" cy="246.3" r="4.05" fill="#2887D3" fill-opacity="0.24" stroke="#2887D3" stroke-opacity="0.25" stroke-width="1.2"/>
<circle cx="443.3" cy="166.5" r="4.05" fill="#2887D3" fill-opacity="0.24" stroke="#2887D3" stroke-opacity="0.25" stroke-width="1.2"/>
<circle cx="443.3" cy="188.6" r="4.05" fill="#2887D3" fill-opacity="0.24" stroke="#2887D3" stroke-opacity="0.25" stroke-width="1.2"/>
<circle cx="451.8" cy="188.6" r="4.05" fill="#2887D3" fill-opacity="0.24" stroke="#2887D3" stroke-opacity="0.25" stroke-width="1.2"/>
<circle cx="451.8" cy="191.1" r="4.05" fill="#2887D3" fill-opacity="0.24" stroke="#2887D3" stroke-opacity="0.25" stroke-width="1.2"/>
<circle cx="451.8" cy="193.2" r="4.05" fill="#2887D3" fill-opacity="0.24" stroke="#2887D3" stroke-opacity="0.25" stroke-width="1.2"/>
<circle cx="451.8" cy="199.3" r="4.05" fill="#2887D3" fill-opacity="0.24" stroke="#2887D3" stroke-opacity="0.25" stroke-width="1.2"/>
<circle cx="459.0" cy="215.7" r="4.05" fill="#2887D3" fill-opacity="0.24" stroke="#2887D3" stroke-opacity="0.25" stroke-width="1.2"/>
<circle cx="482.2" cy="179.3" r="4.05" fill="#2887D3" fill-opacity="0.24" stroke="#2887D3" stroke-opacity="0.25" stroke-width="1.2"/>
<circle cx="551.2" cy="179.3" r="4.05" fill="#2887D3" fill-opacity="0.24" stroke="#2887D3" stroke-opacity="0.25" stroke-width="1.2"/>
<circle cx="635.6" cy="170.8" r="4.05" fill="#2887D3" fill-opacity="0.24" stroke="#2887D3" stroke-opacity="0.25" stroke-width="1.2"/>
<circle cx="735.2" cy="163.2" r="4.05" fill="#2887D3" fill-opacity="0.24" stroke="#2887D3" stroke-opacity="0.25" stroke-width="1.2"/>
<circle cx="819.8" cy="194.5" r="4.05" fill="#2887D3" fill-opacity="0.24" stroke="#2887D3" stroke-opacity="0.25" stroke-width="1.2"/>
<circle cx="880.4" cy="179.8" r="4.05" fill="#2887D3" fill-opacity="0.24" stroke="#2887D3" stroke-opacity="0.25" stroke-width="1.2"/>
<circle cx="880.4" cy="142.8" r="4.05" fill="#2887D3" fill-opacity="0.24" stroke="#2887D3" stroke-opacity="0.25" stroke-width="1.2"/>
<circle cx="167.4" cy="247.0" r="4.05" fill="#2887D3" fill-opacity="0.24" stroke="#2887D3" stroke-opacity="0.25" stroke-width="1.2"/>
<circle cx="167.4" cy="249.0" r="4.05" fill="#2887D3" fill-opacity="0.24" stroke="#2887D3" stroke-opacity="0.25" stroke-width="1.2"/>
<circle cx="167.4" cy="251.0" r="4.05" fill="#2887D3" fill-opacity="0.24" stroke="#2887D3" stroke-opacity="0.25" stroke-width="1.2"/>
<circle cx="167.4" cy="253.0" r="4.05" fill="#2887D3" fill-opacity="0.24" stroke="#2887D3" stroke-opacity="0.25" stroke-width="1.2"/>
<circle cx="167.4" cy="255.0" r="4.05" fill="#2887D3" fill-opacity="0.24" stroke="#2887D3" stroke-opacity="0.25" stroke-width="1.2"/>
<circle cx="167.4" cy="257.0" r="4.05" fill="#2887D3" fill-opacity="0.24" stroke="#2887D3" stroke-opacity="0.25" stroke-width="1.2"/>
<circle cx="167.4" cy="259.0" r="4.05" fill="#2887D3" fill-opacity="0.24" stroke="#2887D3" stroke-opacity="0.25" stroke-width="1.2"/>
<circle cx="167.4" cy="261.0" r="4.05" fill="#2887D3" fill-opacity="0.24" stroke="#2887D3" stroke-opacity="0.25" stroke-width="1.2"/>
<circle cx="167.4" cy="263.0" r="4.05" fill="#2887D3" fill-opacity="0.24" stroke="#2887D3" stroke-opacity="0.25" stroke-width="1.2"/>
<circle cx="167.4" cy="265.0" r="4.05" fill="#2887D3" fill-opacity="0.24" stroke="#2887D3" stroke-opacity="0.25" stroke-width="1.2"/>
<circle cx="167.4" cy="267.0" r="4.05" fill="#2887D3" fill-opacity="0.24" stroke="#2887D3" stroke-opacity="0.25" stroke-width="1.2"/>
<circle cx="183.3" cy="254.5" r="4.05" fill="#2887D3" fill-opacity="0.24" stroke="#2887D3" stroke-opacity="0.25" stroke-width="1.2"/>
<circle cx="183.3" cy="256.5" r="4.05" fill="#2887D3" fill-opacity="0.24" stroke="#2887D3" stroke-opacity="0.25" stroke-width="1.2"/>
<circle cx="183.3" cy="258.5" r="4.05" fill="#2887D3" fill-opacity="0.24" stroke="#2887D3" stroke-opacity="0.25" stroke-width="1.2"/>
<circle cx="183.3" cy="260.5" r="4.05" fill="#2887D3" fill-opacity="0.24" stroke="#2887D3" stroke-opacity="0.25" stroke-width="1.2"/>
<circle cx="183.3" cy="262.5" r="4.05" fill="#2887D3" fill-opacity="0.24" stroke="#2887D3" stroke-opacity="0.25" stroke-width="1.2"/>
<circle cx="183.3" cy="264.5" r="4.05" fill="#2887D3" fill-opacity="0.24" stroke="#2887D3" stroke-opacity="0.25" stroke-width="1.2"/>
<circle cx="183.3" cy="266.5" r="4.05" fill="#2887D3" fill-opacity="0.24" stroke="#2887D3" stroke-opacity="0.25" stroke-width="1.2"/>
<circle cx="183.3" cy="287.5" r="4.05" fill="#2887D3" fill-opacity="0.24" stroke="#2887D3" stroke-opacity="0.25" stroke-width="1.2"/>
<circle cx="183.3" cy="290.0" r="4.05" fill="#2887D3" fill-opacity="0.24" stroke="#2887D3" stroke-opacity="0.25" stroke-width="1.2"/>
<circle cx="183.3" cy="293.0" r="4.05" fill="#2887D3" fill-opacity="0.24" stroke="#2887D3" stroke-opacity="0.25" stroke-width="1.2"/>
<circle cx="183.3" cy="296.0" r="4.05" fill="#2887D3" fill-opacity="0.24" stroke="#2887D3" stroke-opacity="0.25" stroke-width="1.2"/>
<circle cx="183.3" cy="299.0" r="4.05" fill="#2887D3" fill-opacity="0.24" stroke="#2887D3" stroke-opacity="0.25" stroke-width="1.2"/>
<circle cx="236.5" cy="254.0" r="4.05" fill="#2887D3" fill-opacity="0.24" stroke="#2887D3" stroke-opacity="0.25" stroke-width="1.2"/>
<circle cx="236.5" cy="257.0" r="4.05" fill="#2887D3" fill-opacity="0.24" stroke="#2887D3" stroke-opacity="0.25" stroke-width="1.2"/>
<circle cx="236.5" cy="260.0" r="4.05" fill="#2887D3" fill-opacity="0.24" stroke="#2887D3" stroke-opacity="0.25" stroke-width="1.2"/>
<circle cx="236.5" cy="263.0" r="4.05" fill="#2887D3" fill-opacity="0.24" stroke="#2887D3" stroke-opacity="0.25" stroke-width="1.2"/>
<circle cx="267.9" cy="218.8" r="4.05" fill="#2887D3" fill-opacity="0.24" stroke="#2887D3" stroke-opacity="0.25" stroke-width="1.2"/>
<circle cx="267.9" cy="229.0" r="4.05" fill="#2887D3" fill-opacity="0.24" stroke="#2887D3" stroke-opacity="0.25" stroke-width="1.2"/>
<circle cx="267.9" cy="232.0" r="4.05" fill="#2887D3" fill-opacity="0.24" stroke="#2887D3" stroke-opacity="0.25" stroke-width="1.2"/>
<circle cx="267.9" cy="236.0" r="4.05" fill="#2887D3" fill-opacity="0.24" stroke="#2887D3" stroke-opacity="0.25" stroke-width="1.2"/>
<circle cx="267.9" cy="240.0" r="4.05" fill="#2887D3" fill-opacity="0.24" stroke="#2887D3" stroke-opacity="0.25" stroke-width="1.2"/>
<circle cx="267.9" cy="244.0" r="4.05" fill="#2887D3" fill-opacity="0.24" stroke="#2887D3" stroke-opacity="0.25" stroke-width="1.2"/>
<circle cx="297.8" cy="223.0" r="4.05" fill="#2887D3" fill-opacity="0.24" stroke="#2887D3" stroke-opacity="0.25" stroke-width="1.2"/>
<circle cx="297.8" cy="226.0" r="4.05" fill="#2887D3" fill-opacity="0.24" stroke="#2887D3" stroke-opacity="0.25" stroke-width="1.2"/>
<circle cx="297.8" cy="229.0" r="4.05" fill="#2887D3" fill-opacity="0.24" stroke="#2887D3" stroke-opacity="0.25" stroke-width="1.2"/>
<circle cx="297.8" cy="232.0" r="4.05" fill="#2887D3" fill-opacity="0.24" stroke="#2887D3" stroke-opacity="0.25" stroke-width="1.2"/>
<circle cx="336.8" cy="233.5" r="4.05" fill="#2887D3" fill-opacity="0.24" stroke="#2887D3" stroke-opacity="0.25" stroke-width="1.2"/>
<circle cx="336.8" cy="236.5" r="4.05" fill="#2887D3" fill-opacity="0.24" stroke="#2887D3" stroke-opacity="0.25" stroke-width="1.2"/>
<circle cx="336.8" cy="247.0" r="4.05" fill="#2887D3" fill-opacity="0.24" stroke="#2887D3" stroke-opacity="0.25" stroke-width="1.2"/>
<circle cx="336.8" cy="249.0" r="4.05" fill="#2887D3" fill-opacity="0.24" stroke="#2887D3" stroke-opacity="0.25" stroke-width="1.2"/>
<circle cx="359.6" cy="208.0" r="4.05" fill="#2887D3" fill-opacity="0.24" stroke="#2887D3" stroke-opacity="0.25" stroke-width="1.2"/>
<circle cx="359.6" cy="210.5" r="4.05" fill="#2887D3" fill-opacity="0.24" stroke="#2887D3" stroke-opacity="0.25" stroke-width="1.2"/>
<circle cx="359.6" cy="213.0" r="4.05" fill="#2887D3" fill-opacity="0.24" stroke="#2887D3" stroke-opacity="0.25" stroke-width="1.2"/>
<circle cx="359.6" cy="215.5" r="4.05" fill="#2887D3" fill-opacity="0.24" stroke="#2887D3" stroke-opacity="0.25" stroke-width="1.2"/>
<circle cx="451.8" cy="191.1" r="4.05" fill="#2887D3" fill-opacity="0.24" stroke="#2887D3" stroke-opacity="0.25" stroke-width="1.2"/>
<circle cx="451.8" cy="192.5" r="4.05" fill="#2887D3" fill-opacity="0.24" stroke="#2887D3" stroke-opacity="0.25" stroke-width="1.2"/>
<circle cx="428.9" cy="246.3" r="4.05" fill="#2887D3" fill-opacity="0.24" stroke="#2887D3" stroke-opacity="0.25" stroke-width="1.2"/>
<circle cx="351.5" cy="191.0" r="4.05" fill="#2887D3" fill-opacity="0.24" stroke="#2887D3" stroke-opacity="0.25" stroke-width="1.2"/>
<circle cx="91.3" cy="420.0" r="4.05" fill="#2887D3" fill-opacity="0.24" stroke="#2887D3" stroke-opacity="0.25" stroke-width="1.2"/>
<circle cx="91.3" cy="428.0" r="4.05" fill="#2887D3" fill-opacity="0.24" stroke="#2887D3" stroke-opacity="0.25" stroke-width="1.2"/>
<circle cx="91.3" cy="432.0" r="4.05" fill="#2887D3" fill-opacity="0.24" stroke="#2887D3" stroke-opacity="0.25" stroke-width="1.2"/>
<circle cx="91.3" cy="445.0" r="4.05" fill="#2887D3" fill-opacity="0.24" stroke="#2887D3" stroke-opacity="0.25" stroke-width="1.2"/>
<circle cx="91.3" cy="455.0" r="4.05" fill="#2887D3" fill-opacity="0.24" stroke="#2887D3" stroke-opacity="0.25" stroke-width="1.2"/>
<path d="M79.17,472.52 L82.05,461.66 L84.93,451.26 L87.81,441.30 L90.69,431.77 L93.57,422.64 L96.44,413.89 L99.32,405.51 L102.20,397.49 L105.08,389.81 L107.96,382.46 L110.84,375.41 L113.72,368.67 L116.60,362.21 L119.48,356.02 L122.36,350.10 L125.24,344.42 L128.11,338.99 L130.99,333.79 L133.87,328.81 L136.75,324.04 L139.63,319.47 L142.51,315.09 L145.39,310.90 L148.27,306.89 L151.15,303.05 L154.03,299.37 L156.90,295.84 L159.78,292.47 L162.66,289.24 L165.54,286.14 L168.42,283.18 L171.30,280.34 L174.18,277.62 L177.06,275.02 L179.94,272.53 L182.82,270.14 L185.70,267.85 L188.57,265.66 L191.45,263.57 L194.33,261.56 L197.21,259.64 L200.09,257.80 L202.97,256.03 L205.85,254.35 L208.73,252.73 L211.61,251.18 L214.49,249.70 L217.36,248.28 L220.24,246.92 L223.12,245.62 L226.00,244.37 L228.88,243.18 L231.76,242.03 L234.64,240.94 L237.52,239.89 L240.40,238.88 L243.28,237.92 L246.15,237.00 L249.03,236.12 L251.91,235.27 L254.79,234.47 L257.67,233.69 L260.55,232.95 L263.43,232.24 L266.31,231.56 L269.19,230.91 L272.07,230.28 L274.95,229.69 L277.82,229.11 L280.70,228.57 L283.58,228.04 L286.46,227.54 L289.34,227.06 L292.22,226.60 L295.10,226.16 L297.98,225.73 L300.86,225.33 L303.74,224.94 L306.61,224.57 L309.49,224.21 L312.37,223.87 L315.25,223.55 L318.13,223.24 L321.01,222.94 L323.89,222.65 L326.77,222.38 L329.65,222.11 L332.53,221.86 L335.40,221.62 L338.28,221.39 L341.16,221.17 L344.04,220.96 L346.92,220.76 L349.80,220.56 L352.68,220.38 L355.56,220.20 L358.44,220.03 L361.32,219.87 L364.20,219.71 L367.07,219.56 L369.95,219.42 L372.83,219.28 L375.71,219.15 L378.59,219.02 L381.47,218.90 L384.35,218.79 L387.23,218.68 L390.11,218.57 L392.99,218.47 L395.86,218.37 L398.74,218.28 L401.62,218.19 L404.50,218.11 L407.38,218.02 L410.26,217.95 L413.14,217.87 L416.02,217.80 L418.90,217.73 L421.78,217.67 L424.65,217.60 L427.53,217.54 L430.41,217.48 L433.29,217.43 L436.17,217.38 L439.05,217.33 L441.93,217.28 L444.81,217.23 L447.69,217.19 L450.57,217.14 L453.45,217.10 L456.32,217.06 L459.20,217.03 L462.08,216.99 L464.96,216.96 L467.84,216.92 L470.72,216.89 L473.60,216.86 L476.48,216.83 L479.36,216.80 L482.24,216.78 L485.11,216.75 L487.99,216.73 L490.87,216.71 L493.75,216.68 L496.63,216.66 L499.51,216.64 L502.39,216.62 L505.27,216.60 L508.15,216.59 L511.03,216.57 L513.90,216.55 L516.78,216.54 L519.66,216.52 L522.54,216.51 L525.42,216.49 L528.30,216.48 L531.18,216.47 L534.06,216.45 L536.94,216.44 L539.82,216.43 L542.70,216.42 L545.57,216.41 L548.45,216.40 L551.33,216.39 L554.21,216.38 L557.09,216.37 L559.97,216.37 L562.85,216.36 L565.73,216.35 L568.61,216.34 L571.49,216.34 L574.36,216.33 L577.24,216.32 L580.12,216.32 L583.00,216.31 L585.88,216.31 L588.76,216.30 L591.64,216.30 L594.52,216.29 L597.40,216.29 L600.28,216.28 L603.15,216.28 L606.03,216.27 L608.91,216.27 L611.79,216.27 L614.67,216.26 L617.55,216.26 L620.43,216.25 L623.31,216.25 L626.19,216.25 L629.07,216.25 L631.95,216.24 L634.82,216.24 L637.70,216.24 L640.58,216.24 L643.46,216.23 L646.34,216.23 L649.22,216.23 L652.10,216.23 L654.98,216.22 L657.86,216.22 L660.74,216.22 L663.61,216.22 L666.49,216.22 L669.37,216.22 L672.25,216.21 L675.13,216.21 L678.01,216.21 L680.89,216.21 L683.77,216.21 L686.65,216.21 L689.53,216.21 L692.40,216.21 L695.28,216.20 L698.16,216.20 L701.04,216.20 L703.92,216.20 L706.80,216.20 L709.68,216.20 L712.56,216.20 L715.44,216.20 L718.32,216.20 L721.20,216.20 L724.07,216.20 L726.95,216.20 L729.83,216.19 L732.71,216.19 L735.59,216.19 L738.47,216.19 L741.35,216.19 L744.23,216.19 L747.11,216.19 L749.99,216.19 L752.86,216.19 L755.74,216.19 L758.62,216.19 L761.50,216.19 L764.38,216.19 L767.26,216.19 L770.14,216.19 L773.02,216.19 L775.90,216.19 L778.78,216.19 L781.65,216.19 L784.53,216.19 L787.41,216.19 L790.29,216.19 L793.17,216.19 L796.05,216.19 L798.93,216.19 L801.81,216.18 L804.69,216.18 L807.57,216.18 L810.45,216.18 L813.32,216.18 L816.20,216.18 L819.08,216.18 L821.96,216.18 L824.84,216.18 L827.72,216.18 L830.60,216.18 L833.48,216.18 L836.36,216.18 L839.24,216.18 L842.11,216.18 L844.99,216.18 L847.87,216.18 L850.75,216.18 L853.63,216.18 L856.51,216.18 L859.39,216.18 L862.27,216.18 L865.15,216.18 L868.03,216.18 L870.90,216.18 L873.78,216.18 L876.66,216.18 L879.54,216.18 L882.42,216.18 L885.30,216.18 L888.18,216.18 L891.06,216.18 L893.94,216.18 L896.82,216.18 L899.70,216.18 L902.57,216.18 L905.45,216.18 L908.33,216.18 L911.21,216.18 L914.09,216.18 L916.97,216.18 L919.85,216.18 L922.73,216.18 L925.61,216.18 L928.49,216.18 L931.36,216.18 L934.24,216.18 L937.12,216.18 L940.00,216.18" fill="none" stroke="#2887D3" stroke-width="3.7" stroke-linejoin="round"/>
<circle cx="106.8" cy="351.5" r="4.05" fill="#F43337" fill-opacity="0.24" stroke="#F43337" stroke-opacity="0.25" stroke-width="1.2"/>
<circle cx="106.8" cy="352.5" r="4.05" fill="#F43337" fill-opacity="0.24" stroke="#F43337" stroke-opacity="0.25" stroke-width="1.2"/>
<circle cx="106.8" cy="353.5" r="4.05" fill="#F43337" fill-opacity="0.24" stroke="#F43337" stroke-opacity="0.25" stroke-width="1.2"/>
<circle cx="106.8" cy="355.0" r="4.05" fill="#F43337" fill-opacity="0.24" stroke="#F43337" stroke-opacity="0.25" stroke-width="1.2"/>
<circle cx="106.8" cy="356.5" r="4.05" fill="#F43337" fill-opacity="0.24" stroke="#F43337" stroke-opacity="0.25" stroke-width="1.2"/>
<circle cx="106.8" cy="358.0" r="4.05" fill="#F43337" fill-opacity="0.24" stroke="#F43337" stroke-opacity="0.25" stroke-width="1.2"/>
<circle cx="106.8" cy="360.0" r="4.05" fill="#F43337" fill-opacity="0.24" stroke="#F43337" stroke-opacity="0.25" stroke-width="1.2"/>
<circle cx="106.8" cy="362.0" r="4.05" fill="#F43337" fill-opacity="0.24" stroke="#F43337" stroke-opacity="0.25" stroke-width="1.2"/>
<circle cx="106.8" cy="364.0" r="4.05" fill="#F43337" fill-opacity="0.24" stroke="#F43337" stroke-opacity="0.25" stroke-width="1.2"/>
<circle cx="106.8" cy="366.0" r="4.05" fill="#F43337" fill-opacity="0.24" stroke="#F43337" stroke-opacity="0.25" stroke-width="1.2"/>
<circle cx="106.8" cy="369.0" r="4.05" fill="#F43337" fill-opacity="0.24" stroke="#F43337" stroke-opacity="0.25" stroke-width="1.2"/>
<circle cx="106.8" cy="373.0" r="4.05" fill="#F43337" fill-opacity="0.24" stroke="#F43337" stroke-opacity="0.25" stroke-width="1.2"/>
<circle cx="106.8" cy="376.0" r="4.05" fill="#F43337" fill-opacity="0.24" stroke="#F43337" stroke-opacity="0.25" stroke-width="1.2"/>
<circle cx="106.8" cy="379.0" r="4.05" fill="#F43337" fill-opacity="0.24" stroke="#F43337" stroke-opacity="0.25" stroke-width="1.2"/>
<circle cx="106.8" cy="382.0" r="4.05" fill="#F43337" fill-opacity="0.24" stroke="#F43337" stroke-opacity="0.25" stroke-width="1.2"/>
<circle cx="144.6" cy="272.1" r="4.05" fill="#F43337" fill-opacity="0.24" stroke="#F43337" stroke-opacity="0.25" stroke-width="1.2"/>
<circle cx="144.6" cy="277.2" r="4.05" fill="#F43337" fill-opacity="0.24" stroke="#F43337" stroke-opacity="0.25" stroke-width="1.2"/>
<circle cx="144.6" cy="280.6" r="4.05" fill="#F43337" fill-opacity="0.24" stroke="#F43337" stroke-opacity="0.25" stroke-width="1.2"/>
<circle cx="144.6" cy="284.0" r="4.05" fill="#F43337" fill-opacity="0.24" stroke="#F43337" stroke-opacity="0.25" stroke-width="1.2"/>
<circle cx="144.6" cy="287.4" r="4.05" fill="#F43337" fill-opacity="0.24" stroke="#F43337" stroke-opacity="0.25" stroke-width="1.2"/>
<circle cx="144.6" cy="290.7" r="4.05" fill="#F43337" fill-opacity="0.24" stroke="#F43337" stroke-opacity="0.25" stroke-width="1.2"/>
<circle cx="144.6" cy="294.1" r="4.05" fill="#F43337" fill-opacity="0.24" stroke="#F43337" stroke-opacity="0.25" stroke-width="1.2"/>
<circle cx="167.6" cy="269.8" r="4.05" fill="#F43337" fill-opacity="0.24" stroke="#F43337" stroke-opacity="0.25" stroke-width="1.2"/>
<circle cx="167.6" cy="272.6" r="4.05" fill="#F43337" fill-opacity="0.24" stroke="#F43337" stroke-opacity="0.25" stroke-width="1.2"/>
<circle cx="167.6" cy="275.3" r="4.05" fill="#F43337" fill-opacity="0.24" stroke="#F43337" stroke-opacity="0.25" stroke-width="1.2"/>
<circle cx="167.6" cy="278.0" r="4.05" fill="#F43337" fill-opacity="0.24" stroke="#F43337" stroke-opacity="0.25" stroke-width="1.2"/>
<circle cx="167.6" cy="283.4" r="4.05" fill="#F43337" fill-opacity="0.24" stroke="#F43337" stroke-opacity="0.25" stroke-width="1.2"/>
<circle cx="199.0" cy="207.5" r="4.05" fill="#F43337" fill-opacity="0.24" stroke="#F43337" stroke-opacity="0.25" stroke-width="1.2"/>
<circle cx="199.0" cy="210.1" r="4.05" fill="#F43337" fill-opacity="0.24" stroke="#F43337" stroke-opacity="0.25" stroke-width="1.2"/>
<circle cx="199.0" cy="233.9" r="4.05" fill="#F43337" fill-opacity="0.24" stroke="#F43337" stroke-opacity="0.25" stroke-width="1.2"/>
<circle cx="199.0" cy="235.6" r="4.05" fill="#F43337" fill-opacity="0.24" stroke="#F43337" stroke-opacity="0.25" stroke-width="1.2"/>
<circle cx="229.2" cy="180.6" r="4.05" fill="#F43337" fill-opacity="0.24" stroke="#F43337" stroke-opacity="0.25" stroke-width="1.2"/>
<circle cx="229.2" cy="186.5" r="4.05" fill="#F43337" fill-opacity="0.24" stroke="#F43337" stroke-opacity="0.25" stroke-width="1.2"/>
<circle cx="229.2" cy="192.4" r="4.05" fill="#F43337" fill-opacity="0.24" stroke="#F43337" stroke-opacity="0.25" stroke-width="1.2"/>
<circle cx="229.2" cy="198.4" r="4.05" fill="#F43337" fill-opacity="0.24" stroke="#F43337" stroke-opacity="0.25" stroke-width="1.2"/>
<circle cx="229.2" cy="202.6" r="4.05" fill="#F43337" fill-opacity="0.24" stroke="#F43337" stroke-opacity="0.25" stroke-width="1.2"/>
<circle cx="229.2" cy="206.9" r="4.05" fill="#F43337" fill-opacity="0.24" stroke="#F43337" stroke-opacity="0.25" stroke-width="1.2"/>
<circle cx="229.2" cy="209.4" r="4.05" fill="#F43337" fill-opacity="0.24" stroke="#F43337" stroke-opacity="0.25" stroke-width="1.2"/>
<circle cx="236.5" cy="172.9" r="4.05" fill="#F43337" fill-opacity="0.24" stroke="#F43337" stroke-opacity="0.25" stroke-width="1.2"/>
<circle cx="236.5" cy="181.4" r="4.05" fill="#F43337" fill-opacity="0.24" stroke="#F43337" stroke-opacity="0.25" stroke-width="1.2"/>
<circle cx="236.5" cy="184.0" r="4.05" fill="#F43337" fill-opacity="0.24" stroke="#F43337" stroke-opacity="0.25" stroke-width="1.2"/>
<circle cx="236.5" cy="188.2" r="4.05" fill="#F43337" fill-opacity="0.24" stroke="#F43337" stroke-opacity="0.25" stroke-width="1.2"/>
<circle cx="236.5" cy="192.4" r="4.05" fill="#F43337" fill-opacity="0.24" stroke="#F43337" stroke-opacity="0.25" stroke-width="1.2"/>
<circle cx="236.5" cy="196.7" r="4.05" fill="#F43337" fill-opacity="0.24" stroke="#F43337" stroke-opacity="0.25" stroke-width="1.2"/>
<circle cx="236.5" cy="200.9" r="4.05" fill="#F43337" fill-opacity="0.24" stroke="#F43337" stroke-opacity="0.25" stroke-width="1.2"/>
<circle cx="236.5" cy="205.2" r="4.05" fill="#F43337" fill-opacity="0.24" stroke="#F43337" stroke-opacity="0.25" stroke-width="1.2"/>
<circle cx="236.5" cy="209.4" r="4.05" fill="#F43337" fill-opacity="0.24" stroke="#F43337" stroke-opacity="0.25" stroke-width="1.2"/>
<circle cx="236.5" cy="223.9" r="4.05" fill="#F43337" fill-opacity="0.24" stroke="#F43337" stroke-opacity="0.25" stroke-width="1.2"/>
<circle cx="259.8" cy="165.3" r="4.05" fill="#F43337" fill-opacity="0.24" stroke="#F43337" stroke-opacity="0.25" stroke-width="1.2"/>
<circle cx="259.8" cy="181.4" r="4.05" fill="#F43337" fill-opacity="0.24" stroke="#F43337" stroke-opacity="0.25" stroke-width="1.2"/>
<circle cx="259.8" cy="184.0" r="4.05" fill="#F43337" fill-opacity="0.24" stroke="#F43337" stroke-opacity="0.25" stroke-width="1.2"/>
<circle cx="259.8" cy="186.5" r="4.05" fill="#F43337" fill-opacity="0.24" stroke="#F43337" stroke-opacity="0.25" stroke-width="1.2"/>
<circle cx="259.8" cy="190.7" r="4.05" fill="#F43337" fill-opacity="0.24" stroke="#F43337" stroke-opacity="0.25" stroke-width="1.2"/>
<circle cx="259.8" cy="194.1" r="4.05" fill="#F43337" fill-opacity="0.24" stroke="#F43337" stroke-opacity="0.25" stroke-width="1.2"/>
<circle cx="259.8" cy="202.6" r="4.05" fill="#F43337" fill-opacity="0.24" stroke="#F43337" stroke-opacity="0.25" stroke-width="1.2"/>
<circle cx="259.8" cy="247.6" r="4.05" fill="#F43337" fill-opacity="0.24" stroke="#F43337" stroke-opacity="0.25" stroke-width="1.2"/>
<circle cx="290.8" cy="157.8" r="4.05" fill="#F43337" fill-opacity="0.24" stroke="#F43337" stroke-opacity="0.25" stroke-width="1.2"/>
<circle cx="290.8" cy="202.8" r="4.05" fill="#F43337" fill-opacity="0.24" stroke="#F43337" stroke-opacity="0.25" stroke-width="1.2"/>
<circle cx="290.8" cy="239.5" r="4.05" fill="#F43337" fill-opacity="0.24" stroke="#F43337" stroke-opacity="0.25" stroke-width="1.2"/>
<circle cx="321.1" cy="162.1" r="4.05" fill="#F43337" fill-opacity="0.24" stroke="#F43337" stroke-opacity="0.25" stroke-width="1.2"/>
<circle cx="321.1" cy="163.8" r="4.05" fill="#F43337" fill-opacity="0.24" stroke="#F43337" stroke-opacity="0.25" stroke-width="1.2"/>
<circle cx="321.1" cy="165.5" r="4.05" fill="#F43337" fill-opacity="0.24" stroke="#F43337" stroke-opacity="0.25" stroke-width="1.2"/>
<circle cx="321.1" cy="168.0" r="4.05" fill="#F43337" fill-opacity="0.24" stroke="#F43337" stroke-opacity="0.25" stroke-width="1.2"/>
<circle cx="321.1" cy="179.0" r="4.05" fill="#F43337" fill-opacity="0.24" stroke="#F43337" stroke-opacity="0.25" stroke-width="1.2"/>
<circle cx="321.1" cy="181.6" r="4.05" fill="#F43337" fill-opacity="0.24" stroke="#F43337" stroke-opacity="0.25" stroke-width="1.2"/>
<circle cx="321.1" cy="184.1" r="4.05" fill="#F43337" fill-opacity="0.24" stroke="#F43337" stroke-opacity="0.25" stroke-width="1.2"/>
<circle cx="328.7" cy="174.0" r="4.05" fill="#F43337" fill-opacity="0.24" stroke="#F43337" stroke-opacity="0.25" stroke-width="1.2"/>
<circle cx="351.5" cy="155.3" r="4.05" fill="#F43337" fill-opacity="0.24" stroke="#F43337" stroke-opacity="0.25" stroke-width="1.2"/>
<circle cx="351.5" cy="158.7" r="4.05" fill="#F43337" fill-opacity="0.24" stroke="#F43337" stroke-opacity="0.25" stroke-width="1.2"/>
<circle cx="351.5" cy="168.9" r="4.05" fill="#F43337" fill-opacity="0.24" stroke="#F43337" stroke-opacity="0.25" stroke-width="1.2"/>
<circle cx="351.5" cy="176.5" r="4.05" fill="#F43337" fill-opacity="0.24" stroke="#F43337" stroke-opacity="0.25" stroke-width="1.2"/>
<circle cx="351.5" cy="179.9" r="4.05" fill="#F43337" fill-opacity="0.24" stroke="#F43337" stroke-opacity="0.25" stroke-width="1.2"/>
<circle cx="351.5" cy="182.4" r="4.05" fill="#F43337" fill-opacity="0.24" stroke="#F43337" stroke-opacity="0.25" stroke-width="1.2"/>
<circle cx="351.5" cy="185.8" r="4.05" fill="#F43337" fill-opacity="0.24" stroke="#F43337" stroke-opacity="0.25" stroke-width="1.2"/>
<circle cx="351.5" cy="190.5" r="4.05" fill="#F43337" fill-opacity="0.24" stroke="#F43337" stroke-opacity="0.25" stroke-width="1.2"/>
<circle cx="351.5" cy="191.5" r="4.05" fill="#F43337" fill-opacity="0.24" stroke="#F43337" stroke-opacity="0.25" stroke-width="1.2"/>
<circle cx="383.0" cy="147.7" r="4.05" fill="#F43337" fill-opacity="0.24" stroke="#F43337" stroke-opacity="0.25" stroke-width="1.2"/>
<circle cx="383.0" cy="151.5" r="4.05" fill="#F43337" fill-opacity="0.24" stroke="#F43337" stroke-opacity="0.25" stroke-width="1.2"/>
<circle cx="383.0" cy="155.0" r="4.05" fill="#F43337" fill-opacity="0.24" stroke="#F43337" stroke-opacity="0.25" stroke-width="1.2"/>
<circle cx="383.0" cy="158.3" r="4.05" fill="#F43337" fill-opacity="0.24" stroke="#F43337" stroke-opacity="0.25" stroke-width="1.2"/>
<circle cx="383.0" cy="160.9" r="4.05" fill="#F43337" fill-opacity="0.24" stroke="#F43337" stroke-opacity="0.25" stroke-width="1.2"/>
<circle cx="383.0" cy="169.0" r="4.05" fill="#F43337" fill-opacity="0.24" stroke="#F43337" stroke-opacity="0.25" stroke-width="1.2"/>
<circle cx="383.0" cy="175.4" r="4.05" fill="#F43337" fill-opacity="0.24" stroke="#F43337" stroke-opacity="0.25" stroke-width="1.2"/>
<circle cx="443.3" cy="150.4" r="4.05" fill="#F43337" fill-opacity="0.24" stroke="#F43337" stroke-opacity="0.25" stroke-width="1.2"/>
<circle cx="750.5" cy="109.1" r="4.05" fill="#F43337" fill-opacity="0.24" stroke="#F43337" stroke-opacity="0.25" stroke-width="1.2"/>
<circle cx="842.6" cy="74.4" r="4.05" fill="#F43337" fill-opacity="0.24" stroke="#F43337" stroke-opacity="0.25" stroke-width="1.2"/>
<circle cx="106.8" cy="350.5" r="4.05" fill="#F43337" fill-opacity="0.24" stroke="#F43337" stroke-opacity="0.25" stroke-width="1.2"/>
<circle cx="106.8" cy="352.0" r="4.05" fill="#F43337" fill-opacity="0.24" stroke="#F43337" stroke-opacity="0.25" stroke-width="1.2"/>
<circle cx="106.8" cy="353.5" r="4.05" fill="#F43337" fill-opacity="0.24" stroke="#F43337" stroke-opacity="0.25" stroke-width="1.2"/>
<circle cx="106.8" cy="355.0" r="4.05" fill="#F43337" fill-opacity="0.24" stroke="#F43337" stroke-opacity="0.25" stroke-width="1.2"/>
<circle cx="106.8" cy="357.0" r="4.05" fill="#F43337" fill-opacity="0.24" stroke="#F43337" stroke-opacity="0.25" stroke-width="1.2"/>
<circle cx="106.8" cy="359.0" r="4.05" fill="#F43337" fill-opacity="0.24" stroke="#F43337" stroke-opacity="0.25" stroke-width="1.2"/>
<circle cx="106.8" cy="361.0" r="4.05" fill="#F43337" fill-opacity="0.24" stroke="#F43337" stroke-opacity="0.25" stroke-width="1.2"/>
<circle cx="106.8" cy="363.0" r="4.05" fill="#F43337" fill-opacity="0.24" stroke="#F43337" stroke-opacity="0.25" stroke-width="1.2"/>
<circle cx="106.8" cy="365.0" r="4.05" fill="#F43337" fill-opacity="0.24" stroke="#F43337" stroke-opacity="0.25" stroke-width="1.2"/>
<circle cx="167.6" cy="271.0" r="4.05" fill="#F43337" fill-opacity="0.24" stroke="#F43337" stroke-opacity="0.25" stroke-width="1.2"/>
<circle cx="167.6" cy="274.0" r="4.05" fill="#F43337" fill-opacity="0.24" stroke="#F43337" stroke-opacity="0.25" stroke-width="1.2"/>
<circle cx="167.6" cy="277.0" r="4.05" fill="#F43337" fill-opacity="0.24" stroke="#F43337" stroke-opacity="0.25" stroke-width="1.2"/>
<circle cx="167.6" cy="280.0" r="4.05" fill="#F43337" fill-opacity="0.24" stroke="#F43337" stroke-opacity="0.25" stroke-width="1.2"/>
<circle cx="236.5" cy="183.0" r="4.05" fill="#F43337" fill-opacity="0.24" stroke="#F43337" stroke-opacity="0.25" stroke-width="1.2"/>
<circle cx="236.5" cy="186.0" r="4.05" fill="#F43337" fill-opacity="0.24" stroke="#F43337" stroke-opacity="0.25" stroke-width="1.2"/>
<circle cx="236.5" cy="190.0" r="4.05" fill="#F43337" fill-opacity="0.24" stroke="#F43337" stroke-opacity="0.25" stroke-width="1.2"/>
<circle cx="351.5" cy="190.5" r="4.05" fill="#F43337" fill-opacity="0.24" stroke="#F43337" stroke-opacity="0.25" stroke-width="1.2"/>
<path d="M79.63,430.18 L82.51,421.89 L85.39,413.83 L88.26,406.01 L91.14,398.42 L94.02,391.05 L96.90,383.90 L99.77,376.95 L102.65,370.21 L105.53,363.66 L108.41,357.31 L111.28,351.14 L114.16,345.15 L117.04,339.33 L119.92,333.69 L122.79,328.20 L125.67,322.88 L128.55,317.72 L131.43,312.70 L134.30,307.84 L137.18,303.11 L140.06,298.52 L142.94,294.07 L145.81,289.74 L148.69,285.54 L151.57,281.47 L154.45,277.51 L157.32,273.67 L160.20,269.94 L163.08,266.32 L165.96,262.80 L168.83,259.39 L171.71,256.08 L174.59,252.86 L177.47,249.74 L180.34,246.71 L183.22,243.77 L186.10,240.91 L188.98,238.14 L191.85,235.44 L194.73,232.83 L197.61,230.29 L200.49,227.83 L203.36,225.44 L206.24,223.11 L209.12,220.86 L212.00,218.67 L214.87,216.55 L217.75,214.48 L220.63,212.48 L223.51,210.54 L226.38,208.65 L229.26,206.82 L232.14,205.04 L235.02,203.31 L237.89,201.64 L240.77,200.01 L243.65,198.43 L246.53,196.89 L249.40,195.41 L252.28,193.96 L255.16,192.56 L258.04,191.19 L260.91,189.87 L263.79,188.59 L266.67,187.34 L269.55,186.13 L272.42,184.95 L275.30,183.81 L278.18,182.71 L281.06,181.63 L283.93,180.59 L286.81,179.57 L289.69,178.59 L292.57,177.63 L295.44,176.71 L298.32,175.81 L301.20,174.93 L304.08,174.09 L306.95,173.26 L309.83,172.46 L312.71,171.69 L315.59,170.93 L318.46,170.20 L321.34,169.49 L324.22,168.80 L327.10,168.13 L329.97,167.48 L332.85,166.85 L335.73,166.24 L338.61,165.64 L341.48,165.07 L344.36,164.51 L347.24,163.96 L350.11,163.43 L352.99,162.92 L355.87,162.42 L358.75,161.94 L361.62,161.47 L364.50,161.01 L367.38,160.57 L370.26,160.14 L373.13,159.73 L376.01,159.32 L378.89,158.93 L381.77,158.55 L384.64,158.18 L387.52,157.82 L390.40,157.47 L393.28,157.13 L396.15,156.80 L399.03,156.48 L401.91,156.17 L404.79,155.87 L407.66,155.58 L410.54,155.30 L413.42,155.02 L416.30,154.75 L419.17,154.49 L422.05,154.24 L424.93,154.00 L427.81,153.76 L430.68,153.53 L433.56,153.31 L436.44,153.09 L439.32,152.88 L442.19,152.67 L445.07,152.47 L447.95,152.28 L450.83,152.09 L453.70,151.91 L456.58,151.73 L459.46,151.56 L462.34,151.40 L465.21,151.24 L468.09,151.08 L470.97,150.93 L473.85,150.78 L476.72,150.63 L479.60,150.50 L482.48,150.36 L485.36,150.23 L488.23,150.10 L491.11,149.98 L493.99,149.86 L496.87,149.74 L499.74,149.63 L502.62,149.52 L505.50,149.41 L508.38,149.31 L511.25,149.21 L514.13,149.11 L517.01,149.01 L519.89,148.92 L522.76,148.83 L525.64,148.75 L528.52,148.66 L531.40,148.58 L534.27,148.50 L537.15,148.42 L540.03,148.35 L542.91,148.28 L545.78,148.21 L548.66,148.14 L551.54,148.07 L554.42,148.01 L557.29,147.94 L560.17,147.88 L563.05,147.82 L565.93,147.77 L568.80,147.71 L571.68,147.66 L574.56,147.60 L577.44,147.55 L580.31,147.50 L583.19,147.46 L586.07,147.41 L588.95,147.36 L591.82,147.32 L594.70,147.28 L597.58,147.24 L600.46,147.20 L603.33,147.16 L606.21,147.12 L609.09,147.08 L611.97,147.05 L614.84,147.01 L617.72,146.98 L620.60,146.95 L623.48,146.91 L626.35,146.88 L629.23,146.85 L632.11,146.82 L634.99,146.80 L637.86,146.77 L640.74,146.74 L643.62,146.72 L646.50,146.69 L649.37,146.67 L652.25,146.64 L655.13,146.62 L658.01,146.60 L660.88,146.58 L663.76,146.56 L666.64,146.54 L669.52,146.52 L672.39,146.50 L675.27,146.48 L678.15,146.46 L681.03,146.44 L683.90,146.43 L686.78,146.41 L689.66,146.39 L692.54,146.38 L695.41,146.36 L698.29,146.35 L701.17,146.33 L704.05,146.32 L706.92,146.31 L709.80,146.29 L712.68,146.28 L715.56,146.27 L718.43,146.26 L721.31,146.25 L724.19,146.23 L727.07,146.22 L729.94,146.21 L732.82,146.20 L735.70,146.19 L738.58,146.18 L741.45,146.17 L744.33,146.16 L747.21,146.16 L750.09,146.15 L752.96,146.14 L755.84,146.13 L758.72,146.12 L761.60,146.11 L764.47,146.11 L767.35,146.10 L770.23,146.09 L773.11,146.09 L775.98,146.08 L778.86,146.07 L781.74,146.07 L784.62,146.06 L787.49,146.05 L790.37,146.05 L793.25,146.04 L796.13,146.04 L799.00,146.03 L801.88,146.03 L804.76,146.02 L807.64,146.02 L810.51,146.01 L813.39,146.01 L816.27,146.00 L819.15,146.00 L822.02,146.00 L824.90,145.99 L827.78,145.99 L830.66,145.99 L833.53,145.98 L836.41,145.98 L839.29,145.97 L842.17,145.97 L845.04,145.97 L847.92,145.96 L850.80,145.96 L853.68,145.96 L856.55,145.96 L859.43,145.95 L862.31,145.95 L865.19,145.95 L868.06,145.95 L870.94,145.94 L873.82,145.94 L876.70,145.94 L879.57,145.94 L882.45,145.93 L885.33,145.93 L888.21,145.93 L891.08,145.93 L893.96,145.93 L896.84,145.92 L899.72,145.92 L902.59,145.92 L905.47,145.92 L908.35,145.92 L911.23,145.91 L914.10,145.91 L916.98,145.91 L919.86,145.91 L922.74,145.91 L925.61,145.91 L928.49,145.91 L931.37,145.90 L934.25,145.90 L937.12,145.90 L940.00,145.90" fill="none" stroke="#F43337" stroke-width="3.7" stroke-linejoin="round"/>
</g>
<path d="M68.60,50.30 L68.60,531.65" stroke="#1a1a1a" stroke-width="1.9"/>
<path d="M67.65,530.70 L969.42,530.70" stroke="#1a1a1a" stroke-width="1.9"/>
<path d="M64.30,530.70 L68.60,530.70" stroke="#333" stroke-width="1.5"/>
<text x="60.40" y="537.50" font-size="19.5" fill="#444444" stroke="#444444" stroke-width="0.2" text-anchor="end">0</text>
<path d="M64.30,470.70 L68.60,470.70" stroke="#333" stroke-width="1.5"/>
<text x="60.40" y="477.50" font-size="19.5" fill="#444444" stroke="#444444" stroke-width="0.2" text-anchor="end">5</text>
<path d="M64.30,410.70 L68.60,410.70" stroke="#333" stroke-width="1.5"/>
<text x="60.40" y="417.50" font-size="19.5" fill="#444444" stroke="#444444" stroke-width="0.2" text-anchor="end">10</text>
<path d="M64.30,350.70 L68.60,350.70" stroke="#333" stroke-width="1.5"/>
<text x="60.40" y="357.50" font-size="19.5" fill="#444444" stroke="#444444" stroke-width="0.2" text-anchor="end">15</text>
<path d="M64.30,290.70 L68.60,290.70" stroke="#333" stroke-width="1.5"/>
<text x="60.40" y="297.50" font-size="19.5" fill="#444444" stroke="#444444" stroke-width="0.2" text-anchor="end">20</text>
<path d="M64.30,230.70 L68.60,230.70" stroke="#333" stroke-width="1.5"/>
<text x="60.40" y="237.50" font-size="19.5" fill="#444444" stroke="#444444" stroke-width="0.2" text-anchor="end">25</text>
<path d="M64.30,170.70 L68.60,170.70" stroke="#333" stroke-width="1.5"/>
<text x="60.40" y="177.50" font-size="19.5" fill="#444444" stroke="#444444" stroke-width="0.2" text-anchor="end">30</text>
<path d="M64.30,110.70 L68.60,110.70" stroke="#333" stroke-width="1.5"/>
<text x="60.40" y="117.50" font-size="19.5" fill="#444444" stroke="#444444" stroke-width="0.2" text-anchor="end">35</text>
<path d="M64.30,50.70 L68.60,50.70" stroke="#333" stroke-width="1.5"/>
<text x="60.40" y="57.50" font-size="19.5" fill="#444444" stroke="#444444" stroke-width="0.2" text-anchor="end">40</text>
<path d="M68.60,530.70 L68.60,535.00" stroke="#333" stroke-width="1.5"/>
<text x="68.60" y="553.00" font-size="19.5" fill="#444444" stroke="#444444" stroke-width="0.2" text-anchor="middle">0</text>
<path d="M160.52,530.70 L160.52,535.00" stroke="#333" stroke-width="1.5"/>
<text x="160.52" y="553.00" font-size="19.5" fill="#444444" stroke="#444444" stroke-width="0.2" text-anchor="middle">1</text>
<path d="M252.44,530.70 L252.44,535.00" stroke="#333" stroke-width="1.5"/>
<text x="252.44" y="553.00" font-size="19.5" fill="#444444" stroke="#444444" stroke-width="0.2" text-anchor="middle">2</text>
<path d="M344.36,530.70 L344.36,535.00" stroke="#333" stroke-width="1.5"/>
<text x="344.36" y="553.00" font-size="19.5" fill="#444444" stroke="#444444" stroke-width="0.2" text-anchor="middle">3</text>
<path d="M436.28,530.70 L436.28,535.00" stroke="#333" stroke-width="1.5"/>
<text x="436.28" y="553.00" font-size="19.5" fill="#444444" stroke="#444444" stroke-width="0.2" text-anchor="middle">4</text>
<path d="M528.20,530.70 L528.20,535.00" stroke="#333" stroke-width="1.5"/>
<text x="528.20" y="553.00" font-size="19.5" fill="#444444" stroke="#444444" stroke-width="0.2" text-anchor="middle">5</text>
<path d="M620.12,530.70 L620.12,535.00" stroke="#333" stroke-width="1.5"/>
<text x="620.12" y="553.00" font-size="19.5" fill="#444444" stroke="#444444" stroke-width="0.2" text-anchor="middle">6</text>
<path d="M712.04,530.70 L712.04,535.00" stroke="#333" stroke-width="1.5"/>
<text x="712.04" y="553.00" font-size="19.5" fill="#444444" stroke="#444444" stroke-width="0.2" text-anchor="middle">7</text>
<path d="M803.96,530.70 L803.96,535.00" stroke="#333" stroke-width="1.5"/>
<text x="803.96" y="553.00" font-size="19.5" fill="#444444" stroke="#444444" stroke-width="0.2" text-anchor="middle">8</text>
<path d="M895.88,530.70 L895.88,535.00" stroke="#333" stroke-width="1.5"/>
<text x="895.88" y="553.00" font-size="19.5" fill="#444444" stroke="#444444" stroke-width="0.2" text-anchor="middle">9</text>
<text x="519.51" y="579.0" font-size="25.6" fill="#000" stroke="#000" stroke-width="0.35" text-anchor="middle">Age (years)</text>
<circle cx="112.2" cy="74.2" r="4.3" fill="#F43337" fill-opacity="0.3" stroke="#F43337" stroke-opacity="0.3" stroke-width="1"/>
<path d="M101.2,74.2 L123.3,74.2" stroke="#F43337" stroke-width="3.6"/>
<text x="138.4" y="80.8" font-size="20.2" fill="#000" stroke="#000" stroke-width="0.35">Females 1985-1986</text>
<circle cx="112.2" cy="101.6" r="4.3" fill="#2887D3" fill-opacity="0.3" stroke="#2887D3" stroke-opacity="0.3" stroke-width="1"/>
<path d="M101.2,101.6 L123.3,101.6" stroke="#2887D3" stroke-width="3.6"/>
<text x="138.4" y="108.2" font-size="20.2" fill="#000" stroke="#000" stroke-width="0.35">Females 2020-2021</text>
<defs><clipPath id="clipB"><rect x="1042.5" y="40" width="900.8" height="490.7"/></clipPath></defs>
<g clip-path="url(#clipB)">
<path d="M1052.98,425.51 L1057.31,413.54 L1061.63,402.19 L1065.96,391.44 L1070.28,381.23 L1074.61,370.98 L1078.94,361.24 L1083.26,351.98 L1087.59,343.19 L1091.92,334.84 L1096.24,326.90 L1100.57,319.27 L1104.89,311.96 L1109.22,305.02 L1113.55,298.41 L1117.87,292.12 L1122.20,286.15 L1126.53,280.46 L1130.85,275.05 L1135.18,269.93 L1139.50,265.17 L1143.83,260.65 L1148.16,256.36 L1152.48,252.28 L1156.81,248.41 L1161.14,244.73 L1165.46,241.23 L1169.79,237.91 L1174.11,234.75 L1178.44,231.75 L1182.77,228.90 L1187.09,226.19 L1191.42,223.62 L1195.74,221.18 L1200.07,218.85 L1204.40,216.65 L1208.72,214.55 L1213.05,212.56 L1217.38,210.67 L1221.70,208.87 L1226.03,207.16 L1230.35,205.47 L1234.68,203.85 L1239.01,202.31 L1243.33,200.84 L1247.66,199.44 L1251.99,198.10 L1256.31,196.83 L1260.64,195.62 L1264.96,194.47 L1269.29,193.36 L1273.62,192.31 L1277.94,191.31 L1282.27,190.32 L1286.60,189.35 L1290.92,188.42 L1295.25,187.53 L1299.57,186.67 L1303.90,185.85 L1308.23,185.07 L1312.55,184.32 L1316.88,183.60 L1321.21,182.90 L1325.53,182.24 L1329.86,181.60 L1334.18,180.99 L1338.51,180.40 L1342.84,179.83 L1347.16,179.28 L1351.49,178.76 L1355.82,178.25 L1360.14,177.76 L1364.47,177.29 L1368.79,176.84 L1373.12,176.40 L1377.45,175.98 L1381.77,175.57 L1386.10,175.17 L1390.43,174.78 L1394.75,174.39 L1399.08,174.02 L1403.40,173.66 L1407.73,173.30 L1412.06,172.96 L1416.38,172.63 L1420.71,172.30 L1425.04,171.98 L1429.36,171.68 L1433.69,171.38 L1438.01,171.08 L1442.34,170.80 L1446.67,170.52 L1450.99,170.24 L1455.32,169.97 L1459.65,169.71 L1463.97,169.46 L1468.30,169.20 L1472.62,168.96 L1476.95,168.72 L1481.28,168.48 L1485.60,168.24 L1489.93,168.01 L1494.26,167.79 L1498.58,167.64 L1502.91,167.53 L1507.23,167.42 L1511.56,167.32 L1515.89,167.22 L1520.21,167.12 L1524.54,167.02 L1528.87,166.93 L1533.19,166.84 L1537.52,166.75 L1541.84,166.66 L1546.17,166.58 L1550.50,166.50 L1554.82,166.42 L1559.15,166.34 L1563.48,166.26 L1567.80,166.19 L1572.13,166.11 L1576.45,166.04 L1580.78,165.97 L1585.11,165.90 L1589.43,165.83 L1593.76,165.76 L1598.09,165.69 L1602.41,165.63 L1606.74,165.56 L1611.06,165.50 L1615.39,165.44 L1619.72,165.37 L1624.04,165.31 L1628.37,165.25 L1632.70,165.19 L1637.02,165.13 L1641.35,165.08 L1645.67,165.02 L1650.00,164.96 L1654.33,164.90 L1658.65,164.85 L1662.98,164.79 L1667.31,164.74 L1671.63,164.68 L1675.96,164.63 L1680.28,164.58 L1684.61,164.52 L1688.94,164.47 L1693.26,164.42 L1697.59,164.37 L1701.92,164.34 L1706.24,164.33 L1710.57,164.32 L1714.89,164.31 L1719.22,164.30 L1723.55,164.30 L1727.87,164.29 L1732.20,164.28 L1736.53,164.28 L1740.85,164.27 L1745.18,164.26 L1749.50,164.26 L1753.83,164.25 L1758.16,164.25 L1762.48,164.24 L1766.81,164.24 L1771.14,164.23 L1775.46,164.23 L1779.79,164.22 L1784.11,164.22 L1788.44,164.21 L1792.77,164.21 L1797.09,164.20 L1801.42,164.20 L1805.75,164.19 L1810.07,164.19 L1814.40,164.19 L1818.72,164.18 L1823.05,164.18 L1827.38,164.17 L1831.70,164.17 L1836.03,164.17 L1840.36,164.16 L1844.68,164.16 L1849.01,164.16 L1853.33,164.15 L1857.66,164.15 L1861.99,164.15 L1866.31,164.14 L1870.64,164.14 L1874.97,164.14 L1879.29,164.13 L1883.62,164.13 L1887.94,164.13 L1892.27,164.12 L1896.60,164.12 L1900.92,164.12 L1905.25,164.12 L1909.58,164.11 L1913.90,164.11 L1913.90,190.39 L1909.58,190.39 L1905.25,190.39 L1900.92,190.39 L1896.60,190.39 L1892.27,190.39 L1887.94,190.39 L1883.62,190.39 L1879.29,190.39 L1874.97,190.39 L1870.64,190.40 L1866.31,190.40 L1861.99,190.40 L1857.66,190.40 L1853.33,190.40 L1849.01,190.40 L1844.68,190.40 L1840.36,190.40 L1836.03,190.40 L1831.70,190.41 L1827.38,190.41 L1823.05,190.41 L1818.72,190.41 L1814.40,190.41 L1810.07,190.41 L1805.75,190.41 L1801.42,190.42 L1797.09,190.42 L1792.77,190.42 L1788.44,190.42 L1784.11,190.42 L1779.79,190.43 L1775.46,190.43 L1771.14,190.43 L1766.81,190.43 L1762.48,190.44 L1758.16,190.44 L1753.83,190.44 L1749.50,190.45 L1745.18,190.45 L1740.85,190.45 L1736.53,190.46 L1732.20,190.46 L1727.87,190.47 L1723.55,190.47 L1719.22,190.47 L1714.89,190.48 L1710.57,190.48 L1706.24,190.49 L1701.92,190.50 L1697.59,190.50 L1693.26,190.51 L1688.94,190.51 L1684.61,190.51 L1680.28,190.52 L1675.96,190.52 L1671.63,190.53 L1667.31,190.54 L1662.98,190.54 L1658.65,190.55 L1654.33,190.56 L1650.00,190.57 L1645.67,190.57 L1641.35,190.58 L1637.02,190.59 L1632.70,190.60 L1628.37,190.62 L1624.04,190.63 L1619.72,190.64 L1615.39,190.65 L1611.06,190.67 L1606.74,190.68 L1602.41,190.70 L1598.09,190.72 L1593.76,190.74 L1589.43,190.76 L1585.11,190.78 L1580.78,190.80 L1576.45,190.82 L1572.13,190.85 L1567.80,190.87 L1563.48,190.90 L1559.15,190.93 L1554.82,190.96 L1550.50,190.99 L1546.17,191.02 L1541.84,191.06 L1537.52,191.10 L1533.19,191.14 L1528.87,191.18 L1524.54,191.23 L1520.21,191.27 L1515.89,191.32 L1511.56,191.38 L1507.23,191.43 L1502.91,191.49 L1498.58,191.55 L1494.26,191.60 L1489.93,191.61 L1485.60,191.62 L1481.28,191.64 L1476.95,191.66 L1472.62,191.68 L1468.30,191.71 L1463.97,191.74 L1459.65,191.78 L1455.32,191.83 L1450.99,191.88 L1446.67,191.94 L1442.34,192.00 L1438.01,192.07 L1433.69,192.14 L1429.36,192.23 L1425.04,192.32 L1420.71,192.42 L1416.38,192.53 L1412.06,192.64 L1407.73,192.77 L1403.40,192.90 L1399.08,193.05 L1394.75,193.21 L1390.43,193.38 L1386.10,193.51 L1381.77,193.60 L1377.45,193.70 L1373.12,193.82 L1368.79,193.95 L1364.47,194.10 L1360.14,194.26 L1355.82,194.44 L1351.49,194.64 L1347.16,194.86 L1342.84,195.10 L1338.51,195.36 L1334.18,195.65 L1329.86,195.95 L1325.53,196.29 L1321.21,196.64 L1316.88,197.03 L1312.55,197.45 L1308.23,197.89 L1303.90,198.37 L1299.57,198.88 L1295.25,199.43 L1290.92,200.01 L1286.60,200.64 L1282.27,201.31 L1277.94,202.07 L1273.62,202.98 L1269.29,203.93 L1264.96,204.94 L1260.64,205.99 L1256.31,207.11 L1251.99,208.28 L1247.66,209.52 L1243.33,210.82 L1239.01,212.19 L1234.68,213.64 L1230.35,215.16 L1226.03,216.76 L1221.70,218.47 L1217.38,220.27 L1213.05,222.16 L1208.72,224.15 L1204.40,226.25 L1200.07,228.45 L1195.74,230.78 L1191.42,233.22 L1187.09,235.79 L1182.77,238.50 L1178.44,241.35 L1174.11,244.35 L1169.79,247.51 L1165.46,250.83 L1161.14,254.33 L1156.81,258.01 L1152.48,261.88 L1148.16,265.96 L1143.83,270.25 L1139.50,274.77 L1135.18,279.53 L1130.85,284.42 L1126.53,289.54 L1122.20,294.95 L1117.87,300.64 L1113.55,306.65 L1109.22,312.97 L1104.89,319.64 L1100.57,326.66 L1096.24,334.10 L1091.92,342.04 L1087.59,350.39 L1083.26,359.18 L1078.94,368.44 L1074.61,378.18 L1070.28,388.43 L1065.96,400.37 L1061.63,412.95 L1057.31,426.11 L1052.98,439.91 Z" fill="#FFD3D5"/>
<path d="M1052.98,460.16 L1057.31,446.99 L1061.63,434.55 L1065.96,422.80 L1070.28,411.71 L1074.61,401.23 L1078.94,391.34 L1083.26,382.00 L1087.59,373.18 L1091.92,364.84 L1096.24,356.97 L1100.57,349.54 L1104.89,342.53 L1109.22,335.90 L1113.55,329.64 L1117.87,323.73 L1122.20,318.15 L1126.53,312.88 L1130.85,307.90 L1135.18,303.20 L1139.50,298.76 L1143.83,294.56 L1148.16,290.60 L1152.48,286.86 L1156.81,283.33 L1161.14,280.00 L1165.46,276.85 L1169.79,273.87 L1174.11,271.07 L1178.44,268.41 L1182.77,265.91 L1187.09,263.54 L1191.42,261.31 L1195.74,259.20 L1200.07,257.21 L1204.40,255.33 L1208.72,253.55 L1213.05,251.87 L1217.38,250.29 L1221.70,248.79 L1226.03,247.38 L1230.35,246.04 L1234.68,244.78 L1239.01,243.59 L1243.33,242.47 L1247.66,241.40 L1251.99,240.40 L1256.31,239.45 L1260.64,238.56 L1264.96,237.72 L1269.29,236.92 L1273.62,236.17 L1277.94,235.45 L1282.27,234.75 L1286.60,234.07 L1290.92,233.42 L1295.25,232.81 L1299.57,232.23 L1303.90,231.68 L1308.23,231.15 L1312.55,230.65 L1316.88,230.18 L1321.21,229.73 L1325.53,229.31 L1329.86,228.90 L1334.18,228.51 L1338.51,228.15 L1342.84,227.80 L1347.16,227.47 L1351.49,227.15 L1355.82,226.85 L1360.14,226.56 L1364.47,226.29 L1368.79,226.02 L1373.12,225.77 L1377.45,225.54 L1381.77,225.31 L1386.10,225.09 L1390.43,224.89 L1394.75,224.72 L1399.08,224.55 L1403.40,224.39 L1407.73,224.24 L1412.06,224.09 L1416.38,223.95 L1420.71,223.82 L1425.04,223.69 L1429.36,223.57 L1433.69,223.46 L1438.01,223.34 L1442.34,223.24 L1446.67,223.14 L1450.99,223.04 L1455.32,222.95 L1459.65,222.86 L1463.97,222.77 L1468.30,222.69 L1472.62,222.61 L1476.95,222.53 L1481.28,222.46 L1485.60,222.39 L1489.93,222.32 L1494.26,222.26 L1498.58,222.19 L1502.91,222.13 L1507.23,222.07 L1511.56,222.02 L1515.89,221.96 L1520.21,221.91 L1524.54,221.85 L1528.87,221.80 L1533.19,221.75 L1537.52,221.71 L1541.84,221.66 L1546.17,221.61 L1550.50,221.57 L1554.82,221.53 L1559.15,221.48 L1563.48,221.44 L1567.80,221.40 L1572.13,221.36 L1576.45,221.32 L1580.78,221.29 L1585.11,221.25 L1589.43,221.21 L1593.76,221.18 L1598.09,221.14 L1602.41,221.11 L1606.74,221.07 L1611.06,221.04 L1615.39,221.01 L1619.72,220.97 L1624.04,220.94 L1628.37,220.91 L1632.70,220.88 L1637.02,220.85 L1641.35,220.82 L1645.67,220.79 L1650.00,220.76 L1654.33,220.73 L1658.65,220.70 L1662.98,220.67 L1667.31,220.64 L1671.63,220.61 L1675.96,220.58 L1680.28,220.55 L1684.61,220.52 L1688.94,220.49 L1693.26,220.47 L1697.59,220.44 L1701.92,220.42 L1706.24,220.40 L1710.57,220.39 L1714.89,220.37 L1719.22,220.36 L1723.55,220.35 L1727.87,220.33 L1732.20,220.32 L1736.53,220.30 L1740.85,220.29 L1745.18,220.28 L1749.50,220.26 L1753.83,220.25 L1758.16,220.24 L1762.48,220.22 L1766.81,220.21 L1771.14,220.20 L1775.46,220.18 L1779.79,220.17 L1784.11,220.16 L1788.44,220.15 L1792.77,220.13 L1797.09,220.12 L1801.42,220.11 L1805.75,220.09 L1810.07,220.08 L1814.40,220.07 L1818.72,220.06 L1823.05,220.04 L1827.38,220.03 L1831.70,220.02 L1836.03,220.01 L1840.36,219.99 L1844.68,219.98 L1849.01,219.97 L1853.33,219.96 L1857.66,219.94 L1861.99,219.93 L1866.31,219.92 L1870.64,219.91 L1874.97,219.89 L1879.29,219.88 L1883.62,219.87 L1887.94,219.86 L1892.27,219.84 L1896.60,219.83 L1900.92,219.82 L1905.25,219.81 L1909.58,219.79 L1913.90,219.78 L1913.90,230.70 L1909.58,230.69 L1905.25,230.68 L1900.92,230.67 L1896.60,230.65 L1892.27,230.64 L1887.94,230.63 L1883.62,230.62 L1879.29,230.61 L1874.97,230.60 L1870.64,230.58 L1866.31,230.57 L1861.99,230.56 L1857.66,230.55 L1853.33,230.54 L1849.01,230.52 L1844.68,230.51 L1840.36,230.50 L1836.03,230.49 L1831.70,230.48 L1827.38,230.47 L1823.05,230.45 L1818.72,230.44 L1814.40,230.43 L1810.07,230.42 L1805.75,230.41 L1801.42,230.40 L1797.09,230.39 L1792.77,230.37 L1788.44,230.36 L1784.11,230.35 L1779.79,230.34 L1775.46,230.33 L1771.14,230.32 L1766.81,230.31 L1762.48,230.30 L1758.16,230.28 L1753.83,230.27 L1749.50,230.26 L1745.18,230.25 L1740.85,230.24 L1736.53,230.23 L1732.20,230.22 L1727.87,230.21 L1723.55,230.20 L1719.22,230.19 L1714.89,230.18 L1710.57,230.17 L1706.24,230.16 L1701.92,230.15 L1697.59,230.14 L1693.26,230.13 L1688.94,230.13 L1684.61,230.12 L1680.28,230.11 L1675.96,230.11 L1671.63,230.10 L1667.31,230.10 L1662.98,230.09 L1658.65,230.08 L1654.33,230.08 L1650.00,230.07 L1645.67,230.07 L1641.35,230.06 L1637.02,230.06 L1632.70,230.06 L1628.37,230.05 L1624.04,230.05 L1619.72,230.05 L1615.39,230.04 L1611.06,230.04 L1606.74,230.04 L1602.41,230.04 L1598.09,230.04 L1593.76,230.04 L1589.43,230.04 L1585.11,230.04 L1580.78,230.04 L1576.45,230.05 L1572.13,230.05 L1567.80,230.06 L1563.48,230.06 L1559.15,230.07 L1554.82,230.08 L1550.50,230.08 L1546.17,230.09 L1541.84,230.10 L1537.52,230.11 L1533.19,230.13 L1528.87,230.14 L1524.54,230.16 L1520.21,230.17 L1515.89,230.19 L1511.56,230.21 L1507.23,230.24 L1502.91,230.26 L1498.58,230.29 L1494.26,230.32 L1489.93,230.35 L1485.60,230.38 L1481.28,230.41 L1476.95,230.45 L1472.62,230.49 L1468.30,230.54 L1463.97,230.59 L1459.65,230.64 L1455.32,230.69 L1450.99,230.75 L1446.67,230.81 L1442.34,230.88 L1438.01,230.95 L1433.69,231.02 L1429.36,231.10 L1425.04,231.19 L1420.71,231.28 L1416.38,231.38 L1412.06,231.48 L1407.73,231.59 L1403.40,231.71 L1399.08,231.84 L1394.75,231.97 L1390.43,232.11 L1386.10,232.24 L1381.77,232.37 L1377.45,232.50 L1373.12,232.64 L1368.79,232.80 L1364.47,232.96 L1360.14,233.14 L1355.82,233.33 L1351.49,233.54 L1347.16,233.76 L1342.84,234.00 L1338.51,234.25 L1334.18,234.52 L1329.86,234.81 L1325.53,235.12 L1321.21,235.45 L1316.88,235.81 L1312.55,236.18 L1308.23,236.58 L1303.90,237.01 L1299.57,237.47 L1295.25,237.96 L1290.92,238.47 L1286.60,239.03 L1282.27,239.61 L1277.94,240.25 L1273.62,240.97 L1269.29,241.72 L1264.96,242.52 L1260.64,243.36 L1256.31,244.25 L1251.99,245.20 L1247.66,246.20 L1243.33,247.27 L1239.01,248.39 L1234.68,249.58 L1230.35,250.84 L1226.03,252.18 L1221.70,253.59 L1217.38,255.09 L1213.05,256.67 L1208.72,258.35 L1204.40,260.13 L1200.07,262.01 L1195.74,264.00 L1191.42,266.11 L1187.09,268.34 L1182.77,270.71 L1178.44,273.21 L1174.11,275.87 L1169.79,278.67 L1165.46,281.65 L1161.14,284.80 L1156.81,288.13 L1152.48,291.66 L1148.16,295.40 L1143.83,299.36 L1139.50,303.56 L1135.18,308.00 L1130.85,312.70 L1126.53,317.68 L1122.20,322.95 L1117.87,328.53 L1113.55,334.44 L1109.22,340.70 L1104.89,347.33 L1100.57,354.34 L1096.24,361.84 L1091.92,369.89 L1087.59,378.41 L1083.26,387.42 L1078.94,396.96 L1074.61,407.04 L1070.28,417.70 L1065.96,429.81 L1061.63,442.62 L1057.31,456.12 L1052.98,470.36 Z" fill="#CFE4F7"/>
<path d="M1943.32,179.47 L1941.08,179.47 L1938.85,179.47 L1936.62,179.47 L1934.39,179.47 L1932.16,179.47 L1929.93,179.47 L1927.70,179.47 L1925.46,179.47 L1923.23,179.47 L1921.00,179.47 L1918.77,179.47 L1916.54,179.47 L1914.31,179.47 L1912.08,179.47 L1909.84,179.47 L1907.61,179.47 L1905.38,179.47 L1903.15,179.47 L1900.92,179.47 L1898.69,179.47 L1896.46,179.47 L1894.22,179.47 L1891.99,179.47 L1889.76,179.47 L1887.53,179.47 L1885.30,179.47 L1883.07,179.47 L1880.84,179.47 L1878.60,179.47 L1876.37,179.47 L1874.14,179.48 L1871.91,179.48 L1869.68,179.48 L1867.45,179.48 L1865.22,179.48 L1862.98,179.48 L1860.75,179.48 L1858.52,179.48 L1856.29,179.48 L1854.06,179.48 L1851.83,179.48 L1849.60,179.48 L1847.36,179.48 L1845.13,179.48 L1842.90,179.48 L1840.67,179.48 L1838.44,179.48 L1836.21,179.48 L1833.98,179.48 L1831.74,179.49 L1829.51,179.49 L1827.28,179.49 L1825.05,179.49 L1822.82,179.49 L1820.59,179.49 L1818.36,179.49 L1816.12,179.49 L1813.89,179.49 L1811.66,179.49 L1809.43,179.49 L1807.20,179.49 L1804.97,179.49 L1802.74,179.50 L1800.51,179.50 L1798.27,179.50 L1796.04,179.50 L1793.81,179.50 L1791.58,179.50 L1789.35,179.50 L1787.12,179.50 L1784.89,179.50 L1782.65,179.50 L1780.42,179.51 L1778.19,179.51 L1775.96,179.51 L1773.73,179.51 L1771.50,179.51 L1769.27,179.51 L1767.03,179.51 L1764.80,179.52 L1762.57,179.52 L1760.34,179.52 L1758.11,179.52 L1755.88,179.52 L1753.65,179.52 L1751.41,179.52 L1749.18,179.53 L1746.95,179.53 L1744.72,179.53 L1742.49,179.53 L1740.26,179.53 L1738.03,179.54 L1735.79,179.54 L1733.56,179.54 L1731.33,179.54 L1729.10,179.54 L1726.87,179.55 L1724.64,179.55 L1722.41,179.55 L1720.17,179.55 L1717.94,179.56 L1715.71,179.56 L1713.48,179.56 L1711.25,179.56 L1709.02,179.57 L1706.79,179.57 L1704.55,179.57 L1702.32,179.58 L1700.09,179.58 L1697.86,179.58 L1695.63,179.59 L1693.40,179.59 L1691.17,179.59 L1688.93,179.60 L1686.70,179.60 L1684.47,179.60 L1682.24,179.61 L1680.01,179.61 L1677.78,179.61 L1675.55,179.62 L1673.31,179.62 L1671.08,179.63 L1668.85,179.63 L1666.62,179.64 L1664.39,179.64 L1662.16,179.65 L1659.93,179.65 L1657.69,179.66 L1655.46,179.66 L1653.23,179.67 L1651.00,179.67 L1648.77,179.68 L1646.54,179.68 L1644.31,179.69 L1642.07,179.70 L1639.84,179.70 L1637.61,179.71 L1635.38,179.72 L1633.15,179.72 L1630.92,179.73 L1628.69,179.74 L1626.45,179.74 L1624.22,179.75 L1621.99,179.76 L1619.76,179.77 L1617.53,179.78 L1615.30,179.78 L1613.07,179.79 L1610.83,179.80 L1608.60,179.81 L1606.37,179.82 L1604.14,179.83 L1601.91,179.84 L1599.68,179.85 L1597.45,179.86 L1595.21,179.87 L1592.98,179.88 L1590.75,179.89 L1588.52,179.91 L1586.29,179.92 L1584.06,179.93 L1581.83,179.94 L1579.59,179.95 L1577.36,179.97 L1575.13,179.98 L1572.90,180.00 L1570.67,180.01 L1568.44,180.02 L1566.21,180.04 L1563.97,180.06 L1561.74,180.07 L1559.51,180.09 L1557.28,180.10 L1555.05,180.12 L1552.82,180.14 L1550.59,180.16 L1548.35,180.18 L1546.12,180.20 L1543.89,180.22 L1541.66,180.24 L1539.43,180.26 L1537.20,180.28 L1534.97,180.30 L1532.73,180.32 L1530.50,180.34 L1528.27,180.37 L1526.04,180.39 L1523.81,180.42 L1521.58,180.44 L1519.35,180.47 L1517.11,180.50 L1514.88,180.52 L1512.65,180.55 L1510.42,180.58 L1508.19,180.61 L1505.96,180.64 L1503.73,180.67 L1501.49,180.71 L1499.26,180.74 L1497.03,180.77 L1494.80,180.81 L1492.57,180.85 L1490.34,180.88 L1488.11,180.92 L1485.87,180.96 L1483.64,181.00 L1481.41,181.04 L1479.18,181.08 L1476.95,181.13 L1474.72,181.17 L1472.49,181.22 L1470.25,181.27 L1468.02,181.31 L1465.79,181.36 L1463.56,181.41 L1461.33,181.47 L1459.10,181.52 L1456.87,181.58 L1454.63,181.63 L1452.40,181.69 L1450.17,181.75 L1447.94,181.81 L1445.71,181.87 L1443.48,181.94 L1441.25,182.00 L1439.01,182.07 L1436.78,182.14 L1434.55,182.21 L1432.32,182.29 L1430.09,182.36 L1427.86,182.44 L1425.63,182.52 L1423.39,182.60 L1421.16,182.69 L1418.93,182.77 L1416.70,182.86 L1414.47,182.95 L1412.24,183.05 L1410.01,183.14 L1407.77,183.24 L1405.54,183.34 L1403.31,183.45 L1401.08,183.55 L1398.85,183.66 L1396.62,183.78 L1394.39,183.89 L1392.15,184.01 L1389.92,184.13 L1387.69,184.26 L1385.46,184.38 L1383.23,184.52 L1381.00,184.65 L1378.77,184.79 L1376.53,184.93 L1374.30,185.08 L1372.07,185.23 L1369.84,185.38 L1367.61,185.54 L1365.38,185.71 L1363.15,185.87 L1360.92,186.04 L1358.68,186.22 L1356.45,186.40 L1354.22,186.59 L1351.99,186.78 L1349.76,186.97 L1347.53,187.18 L1345.30,187.38 L1343.06,187.59 L1340.83,187.81 L1338.60,188.04 L1336.37,188.26 L1334.14,188.50 L1331.91,188.74 L1329.68,188.99 L1327.44,189.25 L1325.21,189.51 L1322.98,189.78 L1320.75,190.05 L1318.52,190.34 L1316.29,190.63 L1314.06,190.93 L1311.82,191.23 L1309.59,191.55 L1307.36,191.87 L1305.13,192.20 L1302.90,192.55 L1300.67,192.90 L1298.44,193.26 L1296.20,193.62 L1293.97,194.00 L1291.74,194.39 L1289.51,194.79 L1287.28,195.20 L1285.05,195.62 L1282.82,196.06 L1280.58,196.50 L1278.35,196.96 L1276.12,197.43 L1273.89,197.91 L1271.66,198.40 L1269.43,198.91 L1267.20,199.43 L1264.96,199.96 L1262.73,200.51 L1260.50,201.07 L1258.27,201.65 L1256.04,202.25 L1253.81,202.86 L1251.58,203.48 L1249.34,204.12 L1247.11,204.78 L1244.88,205.46 L1242.65,206.16 L1240.42,206.87 L1238.19,207.61 L1235.96,208.36 L1233.72,209.13 L1231.49,209.93 L1229.26,210.74 L1227.03,211.58 L1224.80,212.44 L1222.57,213.32 L1220.34,214.23 L1218.10,215.16 L1215.87,216.12 L1213.64,217.10 L1211.41,218.10 L1209.18,219.14 L1206.95,220.20 L1204.72,221.29 L1202.48,222.41 L1200.25,223.56 L1198.02,224.74 L1195.79,225.95 L1193.56,227.20 L1191.33,228.47 L1189.10,229.78 L1186.86,231.13 L1184.63,232.51 L1182.40,233.93 L1180.17,235.39 L1177.94,236.89 L1175.71,238.43 L1173.48,240.00 L1171.24,241.63 L1169.01,243.29 L1166.78,245.00 L1164.55,246.75 L1162.32,248.55 L1160.09,250.40 L1157.86,252.30 L1155.62,254.25 L1153.39,256.25 L1151.16,258.31 L1148.93,260.42 L1146.70,262.58 L1144.47,264.81 L1142.24,267.09 L1140.00,269.44 L1137.77,271.85 L1135.54,274.32 L1133.31,276.86 L1131.08,279.46 L1128.85,282.14 L1126.62,284.89 L1124.38,287.71 L1122.15,290.61 L1119.92,293.58 L1117.69,296.64 L1115.46,299.77 L1113.23,302.99 L1111.00,306.30 L1108.76,309.69 L1106.53,313.18 L1104.30,316.76 L1102.07,320.43 L1099.84,324.21 L1097.61,328.08 L1095.38,332.06 L1093.14,336.14 L1090.91,340.33 L1088.68,344.64 L1086.45,349.06 L1084.22,353.60 L1081.99,358.26 L1079.76,363.05 L1077.52,367.96 L1075.29,373.01 L1073.06,378.19 L1070.83,383.50 L1068.60,388.96 L1066.37,394.57 L1064.14,400.33 L1061.90,406.24 L1059.67,412.31 L1057.44,418.54 L1055.21,424.94 L1052.98,431.51" fill="none" stroke="#000" stroke-width="2.6" stroke-dasharray="13.6 13.6" stroke-dashoffset="0.2"/>
<path d="M1943.32,179.47 L1942.30,179.47 L1941.29,179.47 L1940.27,179.47 L1939.26,179.47 L1938.24,179.47 L1937.23,179.47 L1936.22,179.47 L1935.20,179.47 L1934.19,179.47 L1933.17,179.47 L1932.16,179.47 L1931.14,179.47 L1930.13,179.47 L1929.12,179.47 L1928.10,179.47 L1927.09,179.47 L1926.07,179.47 L1925.06,179.47 L1924.04,179.47 L1923.03,179.47 L1922.02,179.47 L1921.00,179.47 L1919.99,179.47 L1918.97,179.47 L1917.96,179.47 L1916.94,179.47 L1915.93,179.47 L1914.92,179.47 L1913.90,179.47" fill="none" stroke="#000" stroke-width="3.4" stroke-dasharray="13.6 13.6" stroke-dashoffset="0.2"/>
<path d="M1051.0,442.5 L1045.8,454.0" stroke="#000" stroke-width="3.4"/>
<path d="M1943.32,225.78 L1941.08,225.78 L1938.85,225.78 L1936.62,225.78 L1934.39,225.78 L1932.16,225.78 L1929.93,225.78 L1927.70,225.78 L1925.46,225.78 L1923.23,225.78 L1921.00,225.78 L1918.77,225.78 L1916.54,225.78 L1914.31,225.78 L1912.08,225.78 L1909.84,225.78 L1907.61,225.78 L1905.38,225.78 L1903.15,225.78 L1900.92,225.78 L1898.69,225.78 L1896.46,225.78 L1894.22,225.78 L1891.99,225.78 L1889.76,225.78 L1887.53,225.78 L1885.30,225.78 L1883.07,225.78 L1880.84,225.78 L1878.60,225.78 L1876.37,225.78 L1874.14,225.78 L1871.91,225.78 L1869.68,225.78 L1867.45,225.78 L1865.22,225.79 L1862.98,225.79 L1860.75,225.79 L1858.52,225.79 L1856.29,225.79 L1854.06,225.79 L1851.83,225.79 L1849.60,225.79 L1847.36,225.79 L1845.13,225.79 L1842.90,225.79 L1840.67,225.79 L1838.44,225.79 L1836.21,225.79 L1833.98,225.79 L1831.74,225.79 L1829.51,225.79 L1827.28,225.79 L1825.05,225.79 L1822.82,225.79 L1820.59,225.79 L1818.36,225.79 L1816.12,225.79 L1813.89,225.79 L1811.66,225.79 L1809.43,225.79 L1807.20,225.79 L1804.97,225.79 L1802.74,225.79 L1800.51,225.79 L1798.27,225.79 L1796.04,225.79 L1793.81,225.79 L1791.58,225.79 L1789.35,225.79 L1787.12,225.79 L1784.89,225.79 L1782.65,225.80 L1780.42,225.80 L1778.19,225.80 L1775.96,225.80 L1773.73,225.80 L1771.50,225.80 L1769.27,225.80 L1767.03,225.80 L1764.80,225.80 L1762.57,225.80 L1760.34,225.80 L1758.11,225.80 L1755.88,225.80 L1753.65,225.80 L1751.41,225.80 L1749.18,225.80 L1746.95,225.80 L1744.72,225.81 L1742.49,225.81 L1740.26,225.81 L1738.03,225.81 L1735.79,225.81 L1733.56,225.81 L1731.33,225.81 L1729.10,225.81 L1726.87,225.81 L1724.64,225.81 L1722.41,225.81 L1720.17,225.81 L1717.94,225.82 L1715.71,225.82 L1713.48,225.82 L1711.25,225.82 L1709.02,225.82 L1706.79,225.82 L1704.55,225.82 L1702.32,225.82 L1700.09,225.83 L1697.86,225.83 L1695.63,225.83 L1693.40,225.83 L1691.17,225.83 L1688.93,225.83 L1686.70,225.83 L1684.47,225.84 L1682.24,225.84 L1680.01,225.84 L1677.78,225.84 L1675.55,225.84 L1673.31,225.84 L1671.08,225.85 L1668.85,225.85 L1666.62,225.85 L1664.39,225.85 L1662.16,225.85 L1659.93,225.86 L1657.69,225.86 L1655.46,225.86 L1653.23,225.86 L1651.00,225.87 L1648.77,225.87 L1646.54,225.87 L1644.31,225.87 L1642.07,225.88 L1639.84,225.88 L1637.61,225.88 L1635.38,225.89 L1633.15,225.89 L1630.92,225.89 L1628.69,225.90 L1626.45,225.90 L1624.22,225.90 L1621.99,225.91 L1619.76,225.91 L1617.53,225.92 L1615.30,225.92 L1613.07,225.92 L1610.83,225.93 L1608.60,225.93 L1606.37,225.94 L1604.14,225.94 L1601.91,225.95 L1599.68,225.95 L1597.45,225.96 L1595.21,225.96 L1592.98,225.97 L1590.75,225.97 L1588.52,225.98 L1586.29,225.98 L1584.06,225.99 L1581.83,226.00 L1579.59,226.00 L1577.36,226.01 L1575.13,226.02 L1572.90,226.02 L1570.67,226.03 L1568.44,226.04 L1566.21,226.05 L1563.97,226.05 L1561.74,226.06 L1559.51,226.07 L1557.28,226.08 L1555.05,226.09 L1552.82,226.10 L1550.59,226.11 L1548.35,226.12 L1546.12,226.13 L1543.89,226.14 L1541.66,226.15 L1539.43,226.16 L1537.20,226.17 L1534.97,226.18 L1532.73,226.19 L1530.50,226.21 L1528.27,226.22 L1526.04,226.23 L1523.81,226.25 L1521.58,226.26 L1519.35,226.28 L1517.11,226.29 L1514.88,226.31 L1512.65,226.32 L1510.42,226.34 L1508.19,226.35 L1505.96,226.37 L1503.73,226.39 L1501.49,226.41 L1499.26,226.43 L1497.03,226.45 L1494.80,226.47 L1492.57,226.49 L1490.34,226.51 L1488.11,226.53 L1485.87,226.55 L1483.64,226.57 L1481.41,226.60 L1479.18,226.62 L1476.95,226.65 L1474.72,226.67 L1472.49,226.70 L1470.25,226.73 L1468.02,226.76 L1465.79,226.79 L1463.56,226.82 L1461.33,226.85 L1459.10,226.88 L1456.87,226.91 L1454.63,226.95 L1452.40,226.98 L1450.17,227.02 L1447.94,227.05 L1445.71,227.09 L1443.48,227.13 L1441.25,227.17 L1439.01,227.21 L1436.78,227.26 L1434.55,227.30 L1432.32,227.35 L1430.09,227.39 L1427.86,227.44 L1425.63,227.49 L1423.39,227.54 L1421.16,227.60 L1418.93,227.65 L1416.70,227.71 L1414.47,227.76 L1412.24,227.82 L1410.01,227.88 L1407.77,227.95 L1405.54,228.01 L1403.31,228.08 L1401.08,228.15 L1398.85,228.22 L1396.62,228.29 L1394.39,228.37 L1392.15,228.44 L1389.92,228.52 L1387.69,228.61 L1385.46,228.69 L1383.23,228.78 L1381.00,228.87 L1378.77,228.96 L1376.53,229.06 L1374.30,229.15 L1372.07,229.26 L1369.84,229.36 L1367.61,229.47 L1365.38,229.58 L1363.15,229.69 L1360.92,229.81 L1358.68,229.93 L1356.45,230.05 L1354.22,230.18 L1351.99,230.31 L1349.76,230.45 L1347.53,230.59 L1345.30,230.73 L1343.06,230.88 L1340.83,231.03 L1338.60,231.19 L1336.37,231.35 L1334.14,231.52 L1331.91,231.69 L1329.68,231.87 L1327.44,232.05 L1325.21,232.24 L1322.98,232.43 L1320.75,232.63 L1318.52,232.84 L1316.29,233.05 L1314.06,233.27 L1311.82,233.49 L1309.59,233.72 L1307.36,233.96 L1305.13,234.21 L1302.90,234.46 L1300.67,234.72 L1298.44,234.99 L1296.20,235.26 L1293.97,235.55 L1291.74,235.84 L1289.51,236.14 L1287.28,236.45 L1285.05,236.77 L1282.82,237.10 L1280.58,237.44 L1278.35,237.79 L1276.12,238.15 L1273.89,238.52 L1271.66,238.90 L1269.43,239.29 L1267.20,239.70 L1264.96,240.12 L1262.73,240.55 L1260.50,240.99 L1258.27,241.44 L1256.04,241.91 L1253.81,242.40 L1251.58,242.89 L1249.34,243.41 L1247.11,243.94 L1244.88,244.48 L1242.65,245.04 L1240.42,245.62 L1238.19,246.21 L1235.96,246.82 L1233.72,247.45 L1231.49,248.10 L1229.26,248.77 L1227.03,249.46 L1224.80,250.17 L1222.57,250.90 L1220.34,251.65 L1218.10,252.43 L1215.87,253.23 L1213.64,254.05 L1211.41,254.90 L1209.18,255.77 L1206.95,256.67 L1204.72,257.59 L1202.48,258.54 L1200.25,259.53 L1198.02,260.54 L1195.79,261.58 L1193.56,262.65 L1191.33,263.76 L1189.10,264.89 L1186.86,266.06 L1184.63,267.27 L1182.40,268.51 L1180.17,269.79 L1177.94,271.11 L1175.71,272.47 L1173.48,273.87 L1171.24,275.31 L1169.01,276.80 L1166.78,278.32 L1164.55,279.90 L1162.32,281.52 L1160.09,283.19 L1157.86,284.91 L1155.62,286.68 L1153.39,288.50 L1151.16,290.38 L1148.93,292.32 L1146.70,294.31 L1144.47,296.37 L1142.24,298.48 L1140.00,300.66 L1137.77,302.90 L1135.54,305.21 L1133.31,307.59 L1131.08,310.04 L1128.85,312.57 L1126.62,315.17 L1124.38,317.85 L1122.15,320.60 L1119.92,323.45 L1117.69,326.37 L1115.46,329.38 L1113.23,332.49 L1111.00,335.69 L1108.76,338.98 L1106.53,342.37 L1104.30,345.86 L1102.07,349.46 L1099.84,353.17 L1097.61,356.98 L1095.38,360.91 L1093.14,364.96 L1090.91,369.13 L1088.68,373.43 L1086.45,377.85 L1084.22,382.40 L1081.99,387.10 L1079.76,391.93 L1077.52,396.91 L1075.29,402.03 L1073.06,407.31 L1070.83,412.75 L1068.60,418.36 L1066.37,424.12 L1064.14,430.07 L1061.90,436.19 L1059.67,442.49 L1057.44,448.98 L1055.21,455.67 L1052.98,462.56" fill="none" stroke="#000" stroke-width="2.6" stroke-dasharray="13.6 13.6" stroke-dashoffset="3.9"/>
<path d="M1943.32,225.78 L1942.30,225.78 L1941.29,225.78 L1940.27,225.78 L1939.26,225.78 L1938.24,225.78 L1937.23,225.78 L1936.22,225.78 L1935.20,225.78 L1934.19,225.78 L1933.17,225.78 L1932.16,225.78 L1931.14,225.78 L1930.13,225.78 L1929.12,225.78 L1928.10,225.78 L1927.09,225.78 L1926.07,225.78 L1925.06,225.78 L1924.04,225.78 L1923.03,225.78 L1922.02,225.78 L1921.00,225.78 L1919.99,225.78 L1918.97,225.78 L1917.96,225.78 L1916.94,225.78 L1915.93,225.78 L1914.92,225.78 L1913.90,225.78" fill="none" stroke="#000" stroke-width="3.4" stroke-dasharray="13.6 13.6" stroke-dashoffset="3.9"/>
<path d="M1051.0,475.7 L1045.2,487.2" stroke="#000" stroke-width="3.4"/>
<circle cx="1065.5" cy="403.9" r="4.05" fill="#2887D3" fill-opacity="0.24" stroke="#2887D3" stroke-opacity="0.25" stroke-width="1.2"/>
<circle cx="1065.5" cy="410.5" r="4.05" fill="#2887D3" fill-opacity="0.24" stroke="#2887D3" stroke-opacity="0.25" stroke-width="1.2"/>
<circle cx="1065.5" cy="415.2" r="4.05" fill="#2887D3" fill-opacity="0.24" stroke="#2887D3" stroke-opacity="0.25" stroke-width="1.2"/>
<circle cx="1065.5" cy="420.0" r="4.05" fill="#2887D3" fill-opacity="0.24" stroke="#2887D3" stroke-opacity="0.25" stroke-width="1.2"/>
<circle cx="1065.5" cy="425.9" r="4.05" fill="#2887D3" fill-opacity="0.24" stroke="#2887D3" stroke-opacity="0.25" stroke-width="1.2"/>
<circle cx="1065.5" cy="429.5" r="4.05" fill="#2887D3" fill-opacity="0.24" stroke="#2887D3" stroke-opacity="0.25" stroke-width="1.2"/>
<circle cx="1065.5" cy="434.2" r="4.05" fill="#2887D3" fill-opacity="0.24" stroke="#2887D3" stroke-opacity="0.25" stroke-width="1.2"/>
<circle cx="1065.5" cy="437.8" r="4.05" fill="#2887D3" fill-opacity="0.24" stroke="#2887D3" stroke-opacity="0.25" stroke-width="1.2"/>
<circle cx="1065.5" cy="443.8" r="4.05" fill="#2887D3" fill-opacity="0.24" stroke="#2887D3" stroke-opacity="0.25" stroke-width="1.2"/>
<circle cx="1065.5" cy="447.3" r="4.05" fill="#2887D3" fill-opacity="0.24" stroke="#2887D3" stroke-opacity="0.25" stroke-width="1.2"/>
<circle cx="1065.5" cy="450.9" r="4.05" fill="#2887D3" fill-opacity="0.24" stroke="#2887D3" stroke-opacity="0.25" stroke-width="1.2"/>
<circle cx="1065.5" cy="456.8" r="4.05" fill="#2887D3" fill-opacity="0.24" stroke="#2887D3" stroke-opacity="0.25" stroke-width="1.2"/>
<circle cx="1065.5" cy="459.2" r="4.05" fill="#2887D3" fill-opacity="0.24" stroke="#2887D3" stroke-opacity="0.25" stroke-width="1.2"/>
<circle cx="1118.4" cy="313.7" r="4.05" fill="#2887D3" fill-opacity="0.24" stroke="#2887D3" stroke-opacity="0.25" stroke-width="1.2"/>
<circle cx="1118.4" cy="321.3" r="4.05" fill="#2887D3" fill-opacity="0.24" stroke="#2887D3" stroke-opacity="0.25" stroke-width="1.2"/>
<circle cx="1126.4" cy="306.0" r="4.05" fill="#2887D3" fill-opacity="0.24" stroke="#2887D3" stroke-opacity="0.25" stroke-width="1.2"/>
<circle cx="1126.4" cy="308.6" r="4.05" fill="#2887D3" fill-opacity="0.24" stroke="#2887D3" stroke-opacity="0.25" stroke-width="1.2"/>
<circle cx="1126.4" cy="311.1" r="4.05" fill="#2887D3" fill-opacity="0.24" stroke="#2887D3" stroke-opacity="0.25" stroke-width="1.2"/>
<circle cx="1126.4" cy="314.5" r="4.05" fill="#2887D3" fill-opacity="0.24" stroke="#2887D3" stroke-opacity="0.25" stroke-width="1.2"/>
<circle cx="1126.4" cy="319.6" r="4.05" fill="#2887D3" fill-opacity="0.24" stroke="#2887D3" stroke-opacity="0.25" stroke-width="1.2"/>
<circle cx="1126.4" cy="323.0" r="4.05" fill="#2887D3" fill-opacity="0.24" stroke="#2887D3" stroke-opacity="0.25" stroke-width="1.2"/>
<circle cx="1126.4" cy="334.9" r="4.05" fill="#2887D3" fill-opacity="0.24" stroke="#2887D3" stroke-opacity="0.25" stroke-width="1.2"/>
<circle cx="1141.4" cy="254.3" r="4.05" fill="#2887D3" fill-opacity="0.24" stroke="#2887D3" stroke-opacity="0.25" stroke-width="1.2"/>
<circle cx="1141.4" cy="262.7" r="4.05" fill="#2887D3" fill-opacity="0.24" stroke="#2887D3" stroke-opacity="0.25" stroke-width="1.2"/>
<circle cx="1141.4" cy="266.0" r="4.05" fill="#2887D3" fill-opacity="0.24" stroke="#2887D3" stroke-opacity="0.25" stroke-width="1.2"/>
<circle cx="1141.4" cy="269.5" r="4.05" fill="#2887D3" fill-opacity="0.24" stroke="#2887D3" stroke-opacity="0.25" stroke-width="1.2"/>
<circle cx="1141.4" cy="273.8" r="4.05" fill="#2887D3" fill-opacity="0.24" stroke="#2887D3" stroke-opacity="0.25" stroke-width="1.2"/>
<circle cx="1149.5" cy="263.6" r="4.05" fill="#2887D3" fill-opacity="0.24" stroke="#2887D3" stroke-opacity="0.25" stroke-width="1.2"/>
<circle cx="1149.5" cy="267.0" r="4.05" fill="#2887D3" fill-opacity="0.24" stroke="#2887D3" stroke-opacity="0.25" stroke-width="1.2"/>
<circle cx="1149.5" cy="270.4" r="4.05" fill="#2887D3" fill-opacity="0.24" stroke="#2887D3" stroke-opacity="0.25" stroke-width="1.2"/>
<circle cx="1149.5" cy="273.8" r="4.05" fill="#2887D3" fill-opacity="0.24" stroke="#2887D3" stroke-opacity="0.25" stroke-width="1.2"/>
<circle cx="1149.5" cy="278.0" r="4.05" fill="#2887D3" fill-opacity="0.24" stroke="#2887D3" stroke-opacity="0.25" stroke-width="1.2"/>
<circle cx="1149.5" cy="283.1" r="4.05" fill="#2887D3" fill-opacity="0.24" stroke="#2887D3" stroke-opacity="0.25" stroke-width="1.2"/>
<circle cx="1149.5" cy="286.5" r="4.05" fill="#2887D3" fill-opacity="0.24" stroke="#2887D3" stroke-opacity="0.25" stroke-width="1.2"/>
<circle cx="1149.5" cy="289.9" r="4.05" fill="#2887D3" fill-opacity="0.24" stroke="#2887D3" stroke-opacity="0.25" stroke-width="1.2"/>
<circle cx="1149.5" cy="292.4" r="4.05" fill="#2887D3" fill-opacity="0.24" stroke="#2887D3" stroke-opacity="0.25" stroke-width="1.2"/>
<circle cx="1149.5" cy="295.8" r="4.05" fill="#2887D3" fill-opacity="0.24" stroke="#2887D3" stroke-opacity="0.25" stroke-width="1.2"/>
<circle cx="1149.5" cy="299.2" r="4.05" fill="#2887D3" fill-opacity="0.24" stroke="#2887D3" stroke-opacity="0.25" stroke-width="1.2"/>
<circle cx="1149.5" cy="302.6" r="4.05" fill="#2887D3" fill-opacity="0.24" stroke="#2887D3" stroke-opacity="0.25" stroke-width="1.2"/>
<circle cx="1149.5" cy="306.0" r="4.05" fill="#2887D3" fill-opacity="0.24" stroke="#2887D3" stroke-opacity="0.25" stroke-width="1.2"/>
<circle cx="1149.5" cy="309.4" r="4.05" fill="#2887D3" fill-opacity="0.24" stroke="#2887D3" stroke-opacity="0.25" stroke-width="1.2"/>
<circle cx="1149.5" cy="312.0" r="4.05" fill="#2887D3" fill-opacity="0.24" stroke="#2887D3" stroke-opacity="0.25" stroke-width="1.2"/>
<circle cx="1149.5" cy="314.5" r="4.05" fill="#2887D3" fill-opacity="0.24" stroke="#2887D3" stroke-opacity="0.25" stroke-width="1.2"/>
<circle cx="1149.5" cy="317.1" r="4.05" fill="#2887D3" fill-opacity="0.24" stroke="#2887D3" stroke-opacity="0.25" stroke-width="1.2"/>
<circle cx="1157.2" cy="255.1" r="4.05" fill="#2887D3" fill-opacity="0.24" stroke="#2887D3" stroke-opacity="0.25" stroke-width="1.2"/>
<circle cx="1157.2" cy="258.5" r="4.05" fill="#2887D3" fill-opacity="0.24" stroke="#2887D3" stroke-opacity="0.25" stroke-width="1.2"/>
<circle cx="1157.2" cy="261.9" r="4.05" fill="#2887D3" fill-opacity="0.24" stroke="#2887D3" stroke-opacity="0.25" stroke-width="1.2"/>
<circle cx="1157.2" cy="265.3" r="4.05" fill="#2887D3" fill-opacity="0.24" stroke="#2887D3" stroke-opacity="0.25" stroke-width="1.2"/>
<circle cx="1157.2" cy="268.7" r="4.05" fill="#2887D3" fill-opacity="0.24" stroke="#2887D3" stroke-opacity="0.25" stroke-width="1.2"/>
<circle cx="1157.2" cy="272.1" r="4.05" fill="#2887D3" fill-opacity="0.24" stroke="#2887D3" stroke-opacity="0.25" stroke-width="1.2"/>
<circle cx="1157.2" cy="275.5" r="4.05" fill="#2887D3" fill-opacity="0.24" stroke="#2887D3" stroke-opacity="0.25" stroke-width="1.2"/>
<circle cx="1157.2" cy="278.9" r="4.05" fill="#2887D3" fill-opacity="0.24" stroke="#2887D3" stroke-opacity="0.25" stroke-width="1.2"/>
<circle cx="1157.2" cy="282.3" r="4.05" fill="#2887D3" fill-opacity="0.24" stroke="#2887D3" stroke-opacity="0.25" stroke-width="1.2"/>
<circle cx="1157.2" cy="285.7" r="4.05" fill="#2887D3" fill-opacity="0.24" stroke="#2887D3" stroke-opacity="0.25" stroke-width="1.2"/>
<circle cx="1157.2" cy="289.0" r="4.05" fill="#2887D3" fill-opacity="0.24" stroke="#2887D3" stroke-opacity="0.25" stroke-width="1.2"/>
<circle cx="1157.2" cy="292.4" r="4.05" fill="#2887D3" fill-opacity="0.24" stroke="#2887D3" stroke-opacity="0.25" stroke-width="1.2"/>
<circle cx="1157.2" cy="295.8" r="4.05" fill="#2887D3" fill-opacity="0.24" stroke="#2887D3" stroke-opacity="0.25" stroke-width="1.2"/>
<circle cx="1157.2" cy="299.2" r="4.05" fill="#2887D3" fill-opacity="0.24" stroke="#2887D3" stroke-opacity="0.25" stroke-width="1.2"/>
<circle cx="1157.2" cy="302.6" r="4.05" fill="#2887D3" fill-opacity="0.24" stroke="#2887D3" stroke-opacity="0.25" stroke-width="1.2"/>
<circle cx="1157.2" cy="306.0" r="4.05" fill="#2887D3" fill-opacity="0.24" stroke="#2887D3" stroke-opacity="0.25" stroke-width="1.2"/>
<circle cx="1157.2" cy="309.4" r="4.05" fill="#2887D3" fill-opacity="0.24" stroke="#2887D3" stroke-opacity="0.25" stroke-width="1.2"/>
<circle cx="1157.2" cy="312.8" r="4.05" fill="#2887D3" fill-opacity="0.24" stroke="#2887D3" stroke-opacity="0.25" stroke-width="1.2"/>
<circle cx="1180.1" cy="250.4" r="4.05" fill="#2887D3" fill-opacity="0.24" stroke="#2887D3" stroke-opacity="0.25" stroke-width="1.2"/>
<circle cx="1180.1" cy="258.0" r="4.05" fill="#2887D3" fill-opacity="0.24" stroke="#2887D3" stroke-opacity="0.25" stroke-width="1.2"/>
<circle cx="1180.1" cy="273.5" r="4.05" fill="#2887D3" fill-opacity="0.24" stroke="#2887D3" stroke-opacity="0.25" stroke-width="1.2"/>
<circle cx="1180.1" cy="276.9" r="4.05" fill="#2887D3" fill-opacity="0.24" stroke="#2887D3" stroke-opacity="0.25" stroke-width="1.2"/>
<circle cx="1180.1" cy="279.4" r="4.05" fill="#2887D3" fill-opacity="0.24" stroke="#2887D3" stroke-opacity="0.25" stroke-width="1.2"/>
<circle cx="1210.5" cy="260.8" r="4.05" fill="#2887D3" fill-opacity="0.24" stroke="#2887D3" stroke-opacity="0.25" stroke-width="1.2"/>
<circle cx="1210.5" cy="267.5" r="4.05" fill="#2887D3" fill-opacity="0.24" stroke="#2887D3" stroke-opacity="0.25" stroke-width="1.2"/>
<circle cx="1210.5" cy="270.7" r="4.05" fill="#2887D3" fill-opacity="0.24" stroke="#2887D3" stroke-opacity="0.25" stroke-width="1.2"/>
<circle cx="1210.5" cy="274.1" r="4.05" fill="#2887D3" fill-opacity="0.24" stroke="#2887D3" stroke-opacity="0.25" stroke-width="1.2"/>
<circle cx="1210.5" cy="277.5" r="4.05" fill="#2887D3" fill-opacity="0.24" stroke="#2887D3" stroke-opacity="0.25" stroke-width="1.2"/>
<circle cx="1210.5" cy="280.9" r="4.05" fill="#2887D3" fill-opacity="0.24" stroke="#2887D3" stroke-opacity="0.25" stroke-width="1.2"/>
<circle cx="1210.5" cy="284.3" r="4.05" fill="#2887D3" fill-opacity="0.24" stroke="#2887D3" stroke-opacity="0.25" stroke-width="1.2"/>
<circle cx="1210.5" cy="292.6" r="4.05" fill="#2887D3" fill-opacity="0.24" stroke="#2887D3" stroke-opacity="0.25" stroke-width="1.2"/>
<circle cx="1218.8" cy="273.7" r="4.05" fill="#2887D3" fill-opacity="0.24" stroke="#2887D3" stroke-opacity="0.25" stroke-width="1.2"/>
<circle cx="1233.4" cy="233.4" r="4.05" fill="#2887D3" fill-opacity="0.24" stroke="#2887D3" stroke-opacity="0.25" stroke-width="1.2"/>
<circle cx="1233.4" cy="236.8" r="4.05" fill="#2887D3" fill-opacity="0.24" stroke="#2887D3" stroke-opacity="0.25" stroke-width="1.2"/>
<circle cx="1233.4" cy="240.2" r="4.05" fill="#2887D3" fill-opacity="0.24" stroke="#2887D3" stroke-opacity="0.25" stroke-width="1.2"/>
<circle cx="1233.4" cy="251.2" r="4.05" fill="#2887D3" fill-opacity="0.24" stroke="#2887D3" stroke-opacity="0.25" stroke-width="1.2"/>
<circle cx="1233.4" cy="256.3" r="4.05" fill="#2887D3" fill-opacity="0.24" stroke="#2887D3" stroke-opacity="0.25" stroke-width="1.2"/>
<circle cx="1233.4" cy="259.7" r="4.05" fill="#2887D3" fill-opacity="0.24" stroke="#2887D3" stroke-opacity="0.25" stroke-width="1.2"/>
<circle cx="1233.4" cy="261.4" r="4.05" fill="#2887D3" fill-opacity="0.24" stroke="#2887D3" stroke-opacity="0.25" stroke-width="1.2"/>
<circle cx="1241.8" cy="218.2" r="4.05" fill="#2887D3" fill-opacity="0.24" stroke="#2887D3" stroke-opacity="0.25" stroke-width="1.2"/>
<circle cx="1241.8" cy="230.4" r="4.05" fill="#2887D3" fill-opacity="0.24" stroke="#2887D3" stroke-opacity="0.25" stroke-width="1.2"/>
<circle cx="1241.8" cy="236.6" r="4.05" fill="#2887D3" fill-opacity="0.24" stroke="#2887D3" stroke-opacity="0.25" stroke-width="1.2"/>
<circle cx="1241.8" cy="240.8" r="4.05" fill="#2887D3" fill-opacity="0.24" stroke="#2887D3" stroke-opacity="0.25" stroke-width="1.2"/>
<circle cx="1241.8" cy="248.8" r="4.05" fill="#2887D3" fill-opacity="0.24" stroke="#2887D3" stroke-opacity="0.25" stroke-width="1.2"/>
<circle cx="1241.8" cy="255.3" r="4.05" fill="#2887D3" fill-opacity="0.24" stroke="#2887D3" stroke-opacity="0.25" stroke-width="1.2"/>
<circle cx="1241.8" cy="258.2" r="4.05" fill="#2887D3" fill-opacity="0.24" stroke="#2887D3" stroke-opacity="0.25" stroke-width="1.2"/>
<circle cx="1241.8" cy="261.2" r="4.05" fill="#2887D3" fill-opacity="0.24" stroke="#2887D3" stroke-opacity="0.25" stroke-width="1.2"/>
<circle cx="1241.8" cy="265.9" r="4.05" fill="#2887D3" fill-opacity="0.24" stroke="#2887D3" stroke-opacity="0.25" stroke-width="1.2"/>
<circle cx="1249.2" cy="248.9" r="4.05" fill="#2887D3" fill-opacity="0.24" stroke="#2887D3" stroke-opacity="0.25" stroke-width="1.2"/>
<circle cx="1249.2" cy="264.6" r="4.05" fill="#2887D3" fill-opacity="0.24" stroke="#2887D3" stroke-opacity="0.25" stroke-width="1.2"/>
<circle cx="1249.2" cy="278.6" r="4.05" fill="#2887D3" fill-opacity="0.24" stroke="#2887D3" stroke-opacity="0.25" stroke-width="1.2"/>
<circle cx="1272.1" cy="236.8" r="4.05" fill="#2887D3" fill-opacity="0.24" stroke="#2887D3" stroke-opacity="0.25" stroke-width="1.2"/>
<circle cx="1272.1" cy="245.7" r="4.05" fill="#2887D3" fill-opacity="0.24" stroke="#2887D3" stroke-opacity="0.25" stroke-width="1.2"/>
<circle cx="1272.1" cy="254.5" r="4.05" fill="#2887D3" fill-opacity="0.24" stroke="#2887D3" stroke-opacity="0.25" stroke-width="1.2"/>
<circle cx="1272.1" cy="265.2" r="4.05" fill="#2887D3" fill-opacity="0.24" stroke="#2887D3" stroke-opacity="0.25" stroke-width="1.2"/>
<circle cx="1310.5" cy="238.5" r="4.05" fill="#2887D3" fill-opacity="0.24" stroke="#2887D3" stroke-opacity="0.25" stroke-width="1.2"/>
<circle cx="1310.5" cy="240.6" r="4.05" fill="#2887D3" fill-opacity="0.24" stroke="#2887D3" stroke-opacity="0.25" stroke-width="1.2"/>
<circle cx="1310.5" cy="246.5" r="4.05" fill="#2887D3" fill-opacity="0.24" stroke="#2887D3" stroke-opacity="0.25" stroke-width="1.2"/>
<circle cx="1310.5" cy="251.6" r="4.05" fill="#2887D3" fill-opacity="0.24" stroke="#2887D3" stroke-opacity="0.25" stroke-width="1.2"/>
<circle cx="1310.5" cy="255.8" r="4.05" fill="#2887D3" fill-opacity="0.24" stroke="#2887D3" stroke-opacity="0.25" stroke-width="1.2"/>
<circle cx="1310.5" cy="259.2" r="4.05" fill="#2887D3" fill-opacity="0.24" stroke="#2887D3" stroke-opacity="0.25" stroke-width="1.2"/>
<circle cx="1310.5" cy="262.6" r="4.05" fill="#2887D3" fill-opacity="0.24" stroke="#2887D3" stroke-opacity="0.25" stroke-width="1.2"/>
<circle cx="1310.5" cy="266.9" r="4.05" fill="#2887D3" fill-opacity="0.24" stroke="#2887D3" stroke-opacity="0.25" stroke-width="1.2"/>
<circle cx="1310.5" cy="270.3" r="4.05" fill="#2887D3" fill-opacity="0.24" stroke="#2887D3" stroke-opacity="0.25" stroke-width="1.2"/>
<circle cx="1325.4" cy="206.1" r="4.05" fill="#2887D3" fill-opacity="0.24" stroke="#2887D3" stroke-opacity="0.25" stroke-width="1.2"/>
<circle cx="1325.4" cy="221.5" r="4.05" fill="#2887D3" fill-opacity="0.24" stroke="#2887D3" stroke-opacity="0.25" stroke-width="1.2"/>
<circle cx="1325.4" cy="225.3" r="4.05" fill="#2887D3" fill-opacity="0.24" stroke="#2887D3" stroke-opacity="0.25" stroke-width="1.2"/>
<circle cx="1325.4" cy="228.7" r="4.05" fill="#2887D3" fill-opacity="0.24" stroke="#2887D3" stroke-opacity="0.25" stroke-width="1.2"/>
<circle cx="1325.4" cy="232.1" r="4.05" fill="#2887D3" fill-opacity="0.24" stroke="#2887D3" stroke-opacity="0.25" stroke-width="1.2"/>
<circle cx="1325.4" cy="235.5" r="4.05" fill="#2887D3" fill-opacity="0.24" stroke="#2887D3" stroke-opacity="0.25" stroke-width="1.2"/>
<circle cx="1325.4" cy="238.9" r="4.05" fill="#2887D3" fill-opacity="0.24" stroke="#2887D3" stroke-opacity="0.25" stroke-width="1.2"/>
<circle cx="1325.4" cy="242.3" r="4.05" fill="#2887D3" fill-opacity="0.24" stroke="#2887D3" stroke-opacity="0.25" stroke-width="1.2"/>
<circle cx="1325.4" cy="246.5" r="4.05" fill="#2887D3" fill-opacity="0.24" stroke="#2887D3" stroke-opacity="0.25" stroke-width="1.2"/>
<circle cx="1333.5" cy="215.2" r="4.05" fill="#2887D3" fill-opacity="0.24" stroke="#2887D3" stroke-opacity="0.25" stroke-width="1.2"/>
<circle cx="1333.5" cy="218.2" r="4.05" fill="#2887D3" fill-opacity="0.24" stroke="#2887D3" stroke-opacity="0.25" stroke-width="1.2"/>
<circle cx="1333.5" cy="221.6" r="4.05" fill="#2887D3" fill-opacity="0.24" stroke="#2887D3" stroke-opacity="0.25" stroke-width="1.2"/>
<circle cx="1333.5" cy="225.0" r="4.05" fill="#2887D3" fill-opacity="0.24" stroke="#2887D3" stroke-opacity="0.25" stroke-width="1.2"/>
<circle cx="1333.5" cy="227.8" r="4.05" fill="#2887D3" fill-opacity="0.24" stroke="#2887D3" stroke-opacity="0.25" stroke-width="1.2"/>
<circle cx="1333.5" cy="231.7" r="4.05" fill="#2887D3" fill-opacity="0.24" stroke="#2887D3" stroke-opacity="0.25" stroke-width="1.2"/>
<circle cx="1333.5" cy="235.0" r="4.05" fill="#2887D3" fill-opacity="0.24" stroke="#2887D3" stroke-opacity="0.25" stroke-width="1.2"/>
<circle cx="1333.5" cy="238.5" r="4.05" fill="#2887D3" fill-opacity="0.24" stroke="#2887D3" stroke-opacity="0.25" stroke-width="1.2"/>
<circle cx="1333.5" cy="239.9" r="4.05" fill="#2887D3" fill-opacity="0.24" stroke="#2887D3" stroke-opacity="0.25" stroke-width="1.2"/>
<circle cx="1341.2" cy="226.4" r="4.05" fill="#2887D3" fill-opacity="0.24" stroke="#2887D3" stroke-opacity="0.25" stroke-width="1.2"/>
<circle cx="1341.2" cy="229.8" r="4.05" fill="#2887D3" fill-opacity="0.24" stroke="#2887D3" stroke-opacity="0.25" stroke-width="1.2"/>
<circle cx="1341.2" cy="234.9" r="4.05" fill="#2887D3" fill-opacity="0.24" stroke="#2887D3" stroke-opacity="0.25" stroke-width="1.2"/>
<circle cx="1341.2" cy="239.1" r="4.05" fill="#2887D3" fill-opacity="0.24" stroke="#2887D3" stroke-opacity="0.25" stroke-width="1.2"/>
<circle cx="1341.2" cy="243.5" r="4.05" fill="#2887D3" fill-opacity="0.24" stroke="#2887D3" stroke-opacity="0.25" stroke-width="1.2"/>
<circle cx="1341.2" cy="247.6" r="4.05" fill="#2887D3" fill-opacity="0.24" stroke="#2887D3" stroke-opacity="0.25" stroke-width="1.2"/>
<circle cx="1341.2" cy="249.5" r="4.05" fill="#2887D3" fill-opacity="0.24" stroke="#2887D3" stroke-opacity="0.25" stroke-width="1.2"/>
<circle cx="1341.2" cy="273.8" r="4.05" fill="#2887D3" fill-opacity="0.24" stroke="#2887D3" stroke-opacity="0.25" stroke-width="1.2"/>
<circle cx="1363.8" cy="206.0" r="4.05" fill="#2887D3" fill-opacity="0.24" stroke="#2887D3" stroke-opacity="0.25" stroke-width="1.2"/>
<circle cx="1363.8" cy="220.5" r="4.05" fill="#2887D3" fill-opacity="0.24" stroke="#2887D3" stroke-opacity="0.25" stroke-width="1.2"/>
<circle cx="1394.2" cy="222.2" r="4.05" fill="#2887D3" fill-opacity="0.24" stroke="#2887D3" stroke-opacity="0.25" stroke-width="1.2"/>
<circle cx="1394.2" cy="234.9" r="4.05" fill="#2887D3" fill-opacity="0.24" stroke="#2887D3" stroke-opacity="0.25" stroke-width="1.2"/>
<circle cx="1402.7" cy="223.0" r="4.05" fill="#2887D3" fill-opacity="0.24" stroke="#2887D3" stroke-opacity="0.25" stroke-width="1.2"/>
<circle cx="1402.7" cy="228.1" r="4.05" fill="#2887D3" fill-opacity="0.24" stroke="#2887D3" stroke-opacity="0.25" stroke-width="1.2"/>
<circle cx="1402.7" cy="231.6" r="4.05" fill="#2887D3" fill-opacity="0.24" stroke="#2887D3" stroke-opacity="0.25" stroke-width="1.2"/>
<circle cx="1402.7" cy="234.1" r="4.05" fill="#2887D3" fill-opacity="0.24" stroke="#2887D3" stroke-opacity="0.25" stroke-width="1.2"/>
<circle cx="1417.2" cy="189.3" r="4.05" fill="#2887D3" fill-opacity="0.24" stroke="#2887D3" stroke-opacity="0.25" stroke-width="1.2"/>
<circle cx="1417.2" cy="206.3" r="4.05" fill="#2887D3" fill-opacity="0.24" stroke="#2887D3" stroke-opacity="0.25" stroke-width="1.2"/>
<circle cx="1425.5" cy="209.3" r="4.05" fill="#2887D3" fill-opacity="0.24" stroke="#2887D3" stroke-opacity="0.25" stroke-width="1.2"/>
<circle cx="1425.5" cy="210.0" r="4.05" fill="#2887D3" fill-opacity="0.24" stroke="#2887D3" stroke-opacity="0.25" stroke-width="1.2"/>
<circle cx="1425.5" cy="217.1" r="4.05" fill="#2887D3" fill-opacity="0.24" stroke="#2887D3" stroke-opacity="0.25" stroke-width="1.2"/>
<circle cx="1456.0" cy="192.2" r="4.05" fill="#2887D3" fill-opacity="0.24" stroke="#2887D3" stroke-opacity="0.25" stroke-width="1.2"/>
<circle cx="1509.2" cy="200.3" r="4.05" fill="#2887D3" fill-opacity="0.24" stroke="#2887D3" stroke-opacity="0.25" stroke-width="1.2"/>
<circle cx="1509.2" cy="211.3" r="4.05" fill="#2887D3" fill-opacity="0.24" stroke="#2887D3" stroke-opacity="0.25" stroke-width="1.2"/>
<circle cx="1524.8" cy="199.3" r="4.05" fill="#2887D3" fill-opacity="0.24" stroke="#2887D3" stroke-opacity="0.25" stroke-width="1.2"/>
<circle cx="1524.8" cy="210.6" r="4.05" fill="#2887D3" fill-opacity="0.24" stroke="#2887D3" stroke-opacity="0.25" stroke-width="1.2"/>
<circle cx="1524.8" cy="211.0" r="4.05" fill="#2887D3" fill-opacity="0.24" stroke="#2887D3" stroke-opacity="0.25" stroke-width="1.2"/>
<circle cx="1601.5" cy="203.2" r="4.05" fill="#2887D3" fill-opacity="0.24" stroke="#2887D3" stroke-opacity="0.25" stroke-width="1.2"/>
<circle cx="1693.1" cy="181.6" r="4.05" fill="#2887D3" fill-opacity="0.24" stroke="#2887D3" stroke-opacity="0.25" stroke-width="1.2"/>
<circle cx="1693.1" cy="203.2" r="4.05" fill="#2887D3" fill-opacity="0.24" stroke="#2887D3" stroke-opacity="0.25" stroke-width="1.2"/>
<circle cx="1693.1" cy="217.2" r="4.05" fill="#2887D3" fill-opacity="0.24" stroke="#2887D3" stroke-opacity="0.25" stroke-width="1.2"/>
<circle cx="1708.9" cy="169.4" r="4.05" fill="#2887D3" fill-opacity="0.24" stroke="#2887D3" stroke-opacity="0.25" stroke-width="1.2"/>
<circle cx="1762.2" cy="218.5" r="4.05" fill="#2887D3" fill-opacity="0.24" stroke="#2887D3" stroke-opacity="0.25" stroke-width="1.2"/>
<circle cx="1762.2" cy="228.1" r="4.05" fill="#2887D3" fill-opacity="0.24" stroke="#2887D3" stroke-opacity="0.25" stroke-width="1.2"/>
<circle cx="1785.1" cy="184.9" r="4.05" fill="#2887D3" fill-opacity="0.24" stroke="#2887D3" stroke-opacity="0.25" stroke-width="1.2"/>
<circle cx="1793.2" cy="205.4" r="4.05" fill="#2887D3" fill-opacity="0.24" stroke="#2887D3" stroke-opacity="0.25" stroke-width="1.2"/>
<circle cx="1800.9" cy="172.9" r="4.05" fill="#2887D3" fill-opacity="0.24" stroke="#2887D3" stroke-opacity="0.25" stroke-width="1.2"/>
<circle cx="1800.9" cy="198.2" r="4.05" fill="#2887D3" fill-opacity="0.24" stroke="#2887D3" stroke-opacity="0.25" stroke-width="1.2"/>
<circle cx="1823.8" cy="213.5" r="4.05" fill="#2887D3" fill-opacity="0.24" stroke="#2887D3" stroke-opacity="0.25" stroke-width="1.2"/>
<circle cx="1823.8" cy="217.3" r="4.05" fill="#2887D3" fill-opacity="0.24" stroke="#2887D3" stroke-opacity="0.25" stroke-width="1.2"/>
<circle cx="1885.3" cy="176.2" r="4.05" fill="#2887D3" fill-opacity="0.24" stroke="#2887D3" stroke-opacity="0.25" stroke-width="1.2"/>
<circle cx="1157.2" cy="256.0" r="4.05" fill="#2887D3" fill-opacity="0.24" stroke="#2887D3" stroke-opacity="0.25" stroke-width="1.2"/>
<circle cx="1157.2" cy="259.0" r="4.05" fill="#2887D3" fill-opacity="0.24" stroke="#2887D3" stroke-opacity="0.25" stroke-width="1.2"/>
<circle cx="1157.2" cy="262.0" r="4.05" fill="#2887D3" fill-opacity="0.24" stroke="#2887D3" stroke-opacity="0.25" stroke-width="1.2"/>
<circle cx="1157.2" cy="265.0" r="4.05" fill="#2887D3" fill-opacity="0.24" stroke="#2887D3" stroke-opacity="0.25" stroke-width="1.2"/>
<circle cx="1157.2" cy="268.0" r="4.05" fill="#2887D3" fill-opacity="0.24" stroke="#2887D3" stroke-opacity="0.25" stroke-width="1.2"/>
<circle cx="1157.2" cy="271.0" r="4.05" fill="#2887D3" fill-opacity="0.24" stroke="#2887D3" stroke-opacity="0.25" stroke-width="1.2"/>
<circle cx="1157.2" cy="274.0" r="4.05" fill="#2887D3" fill-opacity="0.24" stroke="#2887D3" stroke-opacity="0.25" stroke-width="1.2"/>
<circle cx="1157.2" cy="277.0" r="4.05" fill="#2887D3" fill-opacity="0.24" stroke="#2887D3" stroke-opacity="0.25" stroke-width="1.2"/>
<circle cx="1157.2" cy="280.0" r="4.05" fill="#2887D3" fill-opacity="0.24" stroke="#2887D3" stroke-opacity="0.25" stroke-width="1.2"/>
<circle cx="1157.2" cy="283.0" r="4.05" fill="#2887D3" fill-opacity="0.24" stroke="#2887D3" stroke-opacity="0.25" stroke-width="1.2"/>
<circle cx="1157.2" cy="286.0" r="4.05" fill="#2887D3" fill-opacity="0.24" stroke="#2887D3" stroke-opacity="0.25" stroke-width="1.2"/>
<circle cx="1157.2" cy="289.0" r="4.05" fill="#2887D3" fill-opacity="0.24" stroke="#2887D3" stroke-opacity="0.25" stroke-width="1.2"/>
<circle cx="1157.2" cy="292.0" r="4.05" fill="#2887D3" fill-opacity="0.24" stroke="#2887D3" stroke-opacity="0.25" stroke-width="1.2"/>
<circle cx="1157.2" cy="295.0" r="4.05" fill="#2887D3" fill-opacity="0.24" stroke="#2887D3" stroke-opacity="0.25" stroke-width="1.2"/>
<circle cx="1157.2" cy="298.0" r="4.05" fill="#2887D3" fill-opacity="0.24" stroke="#2887D3" stroke-opacity="0.25" stroke-width="1.2"/>
<circle cx="1157.2" cy="301.0" r="4.05" fill="#2887D3" fill-opacity="0.24" stroke="#2887D3" stroke-opacity="0.25" stroke-width="1.2"/>
<circle cx="1149.5" cy="290.0" r="4.05" fill="#2887D3" fill-opacity="0.24" stroke="#2887D3" stroke-opacity="0.25" stroke-width="1.2"/>
<circle cx="1149.5" cy="293.0" r="4.05" fill="#2887D3" fill-opacity="0.24" stroke="#2887D3" stroke-opacity="0.25" stroke-width="1.2"/>
<circle cx="1149.5" cy="296.0" r="4.05" fill="#2887D3" fill-opacity="0.24" stroke="#2887D3" stroke-opacity="0.25" stroke-width="1.2"/>
<circle cx="1149.5" cy="299.0" r="4.05" fill="#2887D3" fill-opacity="0.24" stroke="#2887D3" stroke-opacity="0.25" stroke-width="1.2"/>
<circle cx="1149.5" cy="302.0" r="4.05" fill="#2887D3" fill-opacity="0.24" stroke="#2887D3" stroke-opacity="0.25" stroke-width="1.2"/>
<circle cx="1149.5" cy="305.0" r="4.05" fill="#2887D3" fill-opacity="0.24" stroke="#2887D3" stroke-opacity="0.25" stroke-width="1.2"/>
<circle cx="1149.5" cy="308.0" r="4.05" fill="#2887D3" fill-opacity="0.24" stroke="#2887D3" stroke-opacity="0.25" stroke-width="1.2"/>
<circle cx="1149.5" cy="311.0" r="4.05" fill="#2887D3" fill-opacity="0.24" stroke="#2887D3" stroke-opacity="0.25" stroke-width="1.2"/>
<circle cx="1149.5" cy="314.0" r="4.05" fill="#2887D3" fill-opacity="0.24" stroke="#2887D3" stroke-opacity="0.25" stroke-width="1.2"/>
<circle cx="1210.5" cy="269.0" r="4.05" fill="#2887D3" fill-opacity="0.24" stroke="#2887D3" stroke-opacity="0.25" stroke-width="1.2"/>
<circle cx="1210.5" cy="272.0" r="4.05" fill="#2887D3" fill-opacity="0.24" stroke="#2887D3" stroke-opacity="0.25" stroke-width="1.2"/>
<circle cx="1210.5" cy="275.0" r="4.05" fill="#2887D3" fill-opacity="0.24" stroke="#2887D3" stroke-opacity="0.25" stroke-width="1.2"/>
<circle cx="1210.5" cy="279.0" r="4.05" fill="#2887D3" fill-opacity="0.24" stroke="#2887D3" stroke-opacity="0.25" stroke-width="1.2"/>
<circle cx="1210.5" cy="282.0" r="4.05" fill="#2887D3" fill-opacity="0.24" stroke="#2887D3" stroke-opacity="0.25" stroke-width="1.2"/>
<circle cx="1210.5" cy="285.0" r="4.05" fill="#2887D3" fill-opacity="0.24" stroke="#2887D3" stroke-opacity="0.25" stroke-width="1.2"/>
<circle cx="1310.5" cy="249.0" r="4.05" fill="#2887D3" fill-opacity="0.24" stroke="#2887D3" stroke-opacity="0.25" stroke-width="1.2"/>
<circle cx="1310.5" cy="252.0" r="4.05" fill="#2887D3" fill-opacity="0.24" stroke="#2887D3" stroke-opacity="0.25" stroke-width="1.2"/>
<circle cx="1310.5" cy="255.0" r="4.05" fill="#2887D3" fill-opacity="0.24" stroke="#2887D3" stroke-opacity="0.25" stroke-width="1.2"/>
<circle cx="1310.5" cy="258.0" r="4.05" fill="#2887D3" fill-opacity="0.24" stroke="#2887D3" stroke-opacity="0.25" stroke-width="1.2"/>
<circle cx="1310.5" cy="261.0" r="4.05" fill="#2887D3" fill-opacity="0.24" stroke="#2887D3" stroke-opacity="0.25" stroke-width="1.2"/>
<circle cx="1325.4" cy="223.0" r="4.05" fill="#2887D3" fill-opacity="0.24" stroke="#2887D3" stroke-opacity="0.25" stroke-width="1.2"/>
<circle cx="1325.4" cy="226.0" r="4.05" fill="#2887D3" fill-opacity="0.24" stroke="#2887D3" stroke-opacity="0.25" stroke-width="1.2"/>
<circle cx="1325.4" cy="229.0" r="4.05" fill="#2887D3" fill-opacity="0.24" stroke="#2887D3" stroke-opacity="0.25" stroke-width="1.2"/>
<circle cx="1325.4" cy="232.0" r="4.05" fill="#2887D3" fill-opacity="0.24" stroke="#2887D3" stroke-opacity="0.25" stroke-width="1.2"/>
<circle cx="1325.4" cy="235.0" r="4.05" fill="#2887D3" fill-opacity="0.24" stroke="#2887D3" stroke-opacity="0.25" stroke-width="1.2"/>
<circle cx="1325.4" cy="238.0" r="4.05" fill="#2887D3" fill-opacity="0.24" stroke="#2887D3" stroke-opacity="0.25" stroke-width="1.2"/>
<circle cx="1325.4" cy="241.0" r="4.05" fill="#2887D3" fill-opacity="0.24" stroke="#2887D3" stroke-opacity="0.25" stroke-width="1.2"/>
<circle cx="1325.4" cy="244.0" r="4.05" fill="#2887D3" fill-opacity="0.24" stroke="#2887D3" stroke-opacity="0.25" stroke-width="1.2"/>
<circle cx="1325.4" cy="246.5" r="4.05" fill="#2887D3" fill-opacity="0.24" stroke="#2887D3" stroke-opacity="0.25" stroke-width="1.2"/>
<circle cx="1065.5" cy="428.0" r="4.05" fill="#2887D3" fill-opacity="0.24" stroke="#2887D3" stroke-opacity="0.25" stroke-width="1.2"/>
<circle cx="1065.5" cy="432.0" r="4.05" fill="#2887D3" fill-opacity="0.24" stroke="#2887D3" stroke-opacity="0.25" stroke-width="1.2"/>
<circle cx="1065.5" cy="445.0" r="4.05" fill="#2887D3" fill-opacity="0.24" stroke="#2887D3" stroke-opacity="0.25" stroke-width="1.2"/>
<circle cx="1065.5" cy="450.0" r="4.05" fill="#2887D3" fill-opacity="0.24" stroke="#2887D3" stroke-opacity="0.25" stroke-width="1.2"/>
<circle cx="1065.5" cy="455.0" r="4.05" fill="#2887D3" fill-opacity="0.24" stroke="#2887D3" stroke-opacity="0.25" stroke-width="1.2"/>
<circle cx="1141.4" cy="263.0" r="4.05" fill="#2887D3" fill-opacity="0.24" stroke="#2887D3" stroke-opacity="0.25" stroke-width="1.2"/>
<circle cx="1141.4" cy="266.0" r="4.05" fill="#2887D3" fill-opacity="0.24" stroke="#2887D3" stroke-opacity="0.25" stroke-width="1.2"/>
<circle cx="1141.4" cy="270.0" r="4.05" fill="#2887D3" fill-opacity="0.24" stroke="#2887D3" stroke-opacity="0.25" stroke-width="1.2"/>
<path d="M1052.98,462.56 L1055.86,453.71 L1058.74,445.19 L1061.62,436.99 L1064.50,429.10 L1067.38,421.50 L1070.25,414.18 L1073.13,407.14 L1076.01,400.36 L1078.89,393.84 L1081.77,387.56 L1084.65,381.51 L1087.53,375.69 L1090.41,370.09 L1093.29,364.69 L1096.17,359.50 L1099.05,354.50 L1101.93,349.69 L1104.81,345.06 L1107.69,340.60 L1110.57,336.31 L1113.45,332.18 L1116.32,328.20 L1119.20,324.38 L1122.08,320.69 L1124.96,317.14 L1127.84,313.73 L1130.72,310.44 L1133.60,307.28 L1136.48,304.23 L1139.36,301.30 L1142.24,298.48 L1145.12,295.76 L1148.00,293.15 L1150.88,290.63 L1153.76,288.20 L1156.64,285.87 L1159.51,283.63 L1162.39,281.46 L1165.27,279.38 L1168.15,277.38 L1171.03,275.45 L1173.91,273.59 L1176.79,271.81 L1179.67,270.09 L1182.55,268.43 L1185.43,266.84 L1188.31,265.30 L1191.19,263.83 L1194.07,262.40 L1196.95,261.03 L1199.83,259.72 L1202.70,258.45 L1205.58,257.23 L1208.46,256.05 L1211.34,254.92 L1214.22,253.83 L1217.10,252.78 L1219.98,251.77 L1222.86,250.80 L1225.74,249.87 L1228.62,248.97 L1231.50,248.10 L1234.38,247.27 L1237.26,246.46 L1240.14,245.69 L1243.02,244.95 L1245.89,244.23 L1248.77,243.54 L1251.65,242.88 L1254.53,242.24 L1257.41,241.62 L1260.29,241.03 L1263.17,240.46 L1266.05,239.91 L1268.93,239.38 L1271.81,238.88 L1274.69,238.39 L1277.57,237.91 L1280.45,237.46 L1283.33,237.02 L1286.21,236.60 L1289.08,236.20 L1291.96,235.81 L1294.84,235.44 L1297.72,235.07 L1300.60,234.73 L1303.48,234.39 L1306.36,234.07 L1309.24,233.76 L1312.12,233.46 L1315.00,233.18 L1317.88,232.90 L1320.76,232.63 L1323.64,232.38 L1326.52,232.13 L1329.40,231.89 L1332.27,231.66 L1335.15,231.44 L1338.03,231.23 L1340.91,231.03 L1343.79,230.83 L1346.67,230.64 L1349.55,230.46 L1352.43,230.29 L1355.31,230.12 L1358.19,229.96 L1361.07,229.80 L1363.95,229.65 L1366.83,229.51 L1369.71,229.37 L1372.59,229.23 L1375.46,229.10 L1378.34,228.98 L1381.22,228.86 L1384.10,228.74 L1386.98,228.63 L1389.86,228.53 L1392.74,228.42 L1395.62,228.33 L1398.50,228.23 L1401.38,228.14 L1404.26,228.05 L1407.14,227.97 L1410.02,227.88 L1412.90,227.81 L1415.78,227.73 L1418.66,227.66 L1421.53,227.59 L1424.41,227.52 L1427.29,227.45 L1430.17,227.39 L1433.05,227.33 L1435.93,227.27 L1438.81,227.22 L1441.69,227.16 L1444.57,227.11 L1447.45,227.06 L1450.33,227.01 L1453.21,226.97 L1456.09,226.92 L1458.97,226.88 L1461.85,226.84 L1464.72,226.80 L1467.60,226.76 L1470.48,226.73 L1473.36,226.69 L1476.24,226.66 L1479.12,226.62 L1482.00,226.59 L1484.88,226.56 L1487.76,226.53 L1490.64,226.50 L1493.52,226.48 L1496.40,226.45 L1499.28,226.43 L1502.16,226.40 L1505.04,226.38 L1507.91,226.36 L1510.79,226.33 L1513.67,226.31 L1516.55,226.29 L1519.43,226.27 L1522.31,226.26 L1525.19,226.24 L1528.07,226.22 L1530.95,226.20 L1533.83,226.19 L1536.71,226.17 L1539.59,226.16 L1542.47,226.14 L1545.35,226.13 L1548.23,226.12 L1551.10,226.11 L1553.98,226.09 L1556.86,226.08 L1559.74,226.07 L1562.62,226.06 L1565.50,226.05 L1568.38,226.04 L1571.26,226.03 L1574.14,226.02 L1577.02,226.01 L1579.90,226.00 L1582.78,225.99 L1585.66,225.99 L1588.54,225.98 L1591.42,225.97 L1594.29,225.96 L1597.17,225.96 L1600.05,225.95 L1602.93,225.94 L1605.81,225.94 L1608.69,225.93 L1611.57,225.93 L1614.45,225.92 L1617.33,225.92 L1620.21,225.91 L1623.09,225.91 L1625.97,225.90 L1628.85,225.90 L1631.73,225.89 L1634.61,225.89 L1637.48,225.88 L1640.36,225.88 L1643.24,225.88 L1646.12,225.87 L1649.00,225.87 L1651.88,225.87 L1654.76,225.86 L1657.64,225.86 L1660.52,225.86 L1663.40,225.85 L1666.28,225.85 L1669.16,225.85 L1672.04,225.85 L1674.92,225.84 L1677.80,225.84 L1680.68,225.84 L1683.55,225.84 L1686.43,225.83 L1689.31,225.83 L1692.19,225.83 L1695.07,225.83 L1697.95,225.83 L1700.83,225.82 L1703.71,225.82 L1706.59,225.82 L1709.47,225.82 L1712.35,225.82 L1715.23,225.82 L1718.11,225.82 L1720.99,225.81 L1723.87,225.81 L1726.74,225.81 L1729.62,225.81 L1732.50,225.81 L1735.38,225.81 L1738.26,225.81 L1741.14,225.81 L1744.02,225.81 L1746.90,225.80 L1749.78,225.80 L1752.66,225.80 L1755.54,225.80 L1758.42,225.80 L1761.30,225.80 L1764.18,225.80 L1767.06,225.80 L1769.93,225.80 L1772.81,225.80 L1775.69,225.80 L1778.57,225.80 L1781.45,225.80 L1784.33,225.79 L1787.21,225.79 L1790.09,225.79 L1792.97,225.79 L1795.85,225.79 L1798.73,225.79 L1801.61,225.79 L1804.49,225.79 L1807.37,225.79 L1810.25,225.79 L1813.12,225.79 L1816.00,225.79 L1818.88,225.79 L1821.76,225.79 L1824.64,225.79 L1827.52,225.79 L1830.40,225.79 L1833.28,225.79 L1836.16,225.79 L1839.04,225.79 L1841.92,225.79 L1844.80,225.79 L1847.68,225.79 L1850.56,225.79 L1853.44,225.79 L1856.31,225.79 L1859.19,225.79 L1862.07,225.79 L1864.95,225.79 L1867.83,225.78 L1870.71,225.78 L1873.59,225.78 L1876.47,225.78 L1879.35,225.78 L1882.23,225.78 L1885.11,225.78 L1887.99,225.78 L1890.87,225.78 L1893.75,225.78 L1896.63,225.78 L1899.50,225.78 L1902.38,225.78 L1905.26,225.78 L1908.14,225.78 L1911.02,225.78 L1913.90,225.78" fill="none" stroke="#2887D3" stroke-width="3.7" stroke-linejoin="round"/>
<circle cx="1080.6" cy="350.6" r="4.05" fill="#F43337" fill-opacity="0.24" stroke="#F43337" stroke-opacity="0.25" stroke-width="1.2"/>
<circle cx="1080.6" cy="351.5" r="4.05" fill="#F43337" fill-opacity="0.24" stroke="#F43337" stroke-opacity="0.25" stroke-width="1.2"/>
<circle cx="1080.6" cy="352.5" r="4.05" fill="#F43337" fill-opacity="0.24" stroke="#F43337" stroke-opacity="0.25" stroke-width="1.2"/>
<circle cx="1080.6" cy="354.0" r="4.05" fill="#F43337" fill-opacity="0.24" stroke="#F43337" stroke-opacity="0.25" stroke-width="1.2"/>
<circle cx="1080.6" cy="355.5" r="4.05" fill="#F43337" fill-opacity="0.24" stroke="#F43337" stroke-opacity="0.25" stroke-width="1.2"/>
<circle cx="1080.6" cy="357.0" r="4.05" fill="#F43337" fill-opacity="0.24" stroke="#F43337" stroke-opacity="0.25" stroke-width="1.2"/>
<circle cx="1080.6" cy="359.0" r="4.05" fill="#F43337" fill-opacity="0.24" stroke="#F43337" stroke-opacity="0.25" stroke-width="1.2"/>
<circle cx="1080.6" cy="361.0" r="4.05" fill="#F43337" fill-opacity="0.24" stroke="#F43337" stroke-opacity="0.25" stroke-width="1.2"/>
<circle cx="1080.6" cy="363.0" r="4.05" fill="#F43337" fill-opacity="0.24" stroke="#F43337" stroke-opacity="0.25" stroke-width="1.2"/>
<circle cx="1080.6" cy="366.0" r="4.05" fill="#F43337" fill-opacity="0.24" stroke="#F43337" stroke-opacity="0.25" stroke-width="1.2"/>
<circle cx="1080.6" cy="369.0" r="4.05" fill="#F43337" fill-opacity="0.24" stroke="#F43337" stroke-opacity="0.25" stroke-width="1.2"/>
<circle cx="1080.6" cy="373.0" r="4.05" fill="#F43337" fill-opacity="0.24" stroke="#F43337" stroke-opacity="0.25" stroke-width="1.2"/>
<circle cx="1080.6" cy="377.0" r="4.05" fill="#F43337" fill-opacity="0.24" stroke="#F43337" stroke-opacity="0.25" stroke-width="1.2"/>
<circle cx="1080.6" cy="381.0" r="4.05" fill="#F43337" fill-opacity="0.24" stroke="#F43337" stroke-opacity="0.25" stroke-width="1.2"/>
<circle cx="1118.4" cy="267.8" r="4.05" fill="#F43337" fill-opacity="0.24" stroke="#F43337" stroke-opacity="0.25" stroke-width="1.2"/>
<circle cx="1118.4" cy="270.4" r="4.05" fill="#F43337" fill-opacity="0.24" stroke="#F43337" stroke-opacity="0.25" stroke-width="1.2"/>
<circle cx="1118.4" cy="280.6" r="4.05" fill="#F43337" fill-opacity="0.24" stroke="#F43337" stroke-opacity="0.25" stroke-width="1.2"/>
<circle cx="1118.4" cy="282.3" r="4.05" fill="#F43337" fill-opacity="0.24" stroke="#F43337" stroke-opacity="0.25" stroke-width="1.2"/>
<circle cx="1118.4" cy="290.7" r="4.05" fill="#F43337" fill-opacity="0.24" stroke="#F43337" stroke-opacity="0.25" stroke-width="1.2"/>
<circle cx="1118.4" cy="294.1" r="4.05" fill="#F43337" fill-opacity="0.24" stroke="#F43337" stroke-opacity="0.25" stroke-width="1.2"/>
<circle cx="1118.4" cy="296.7" r="4.05" fill="#F43337" fill-opacity="0.24" stroke="#F43337" stroke-opacity="0.25" stroke-width="1.2"/>
<circle cx="1118.4" cy="306.9" r="4.05" fill="#F43337" fill-opacity="0.24" stroke="#F43337" stroke-opacity="0.25" stroke-width="1.2"/>
<circle cx="1118.4" cy="330.6" r="4.05" fill="#F43337" fill-opacity="0.24" stroke="#F43337" stroke-opacity="0.25" stroke-width="1.2"/>
<circle cx="1141.4" cy="268.5" r="4.05" fill="#F43337" fill-opacity="0.24" stroke="#F43337" stroke-opacity="0.25" stroke-width="1.2"/>
<circle cx="1141.4" cy="271.0" r="4.05" fill="#F43337" fill-opacity="0.24" stroke="#F43337" stroke-opacity="0.25" stroke-width="1.2"/>
<circle cx="1141.4" cy="280.6" r="4.05" fill="#F43337" fill-opacity="0.24" stroke="#F43337" stroke-opacity="0.25" stroke-width="1.2"/>
<circle cx="1141.4" cy="283.1" r="4.05" fill="#F43337" fill-opacity="0.24" stroke="#F43337" stroke-opacity="0.25" stroke-width="1.2"/>
<circle cx="1141.4" cy="285.7" r="4.05" fill="#F43337" fill-opacity="0.24" stroke="#F43337" stroke-opacity="0.25" stroke-width="1.2"/>
<circle cx="1172.6" cy="210.3" r="4.05" fill="#F43337" fill-opacity="0.24" stroke="#F43337" stroke-opacity="0.25" stroke-width="1.2"/>
<circle cx="1172.6" cy="219.6" r="4.05" fill="#F43337" fill-opacity="0.24" stroke="#F43337" stroke-opacity="0.25" stroke-width="1.2"/>
<circle cx="1172.6" cy="224.7" r="4.05" fill="#F43337" fill-opacity="0.24" stroke="#F43337" stroke-opacity="0.25" stroke-width="1.2"/>
<circle cx="1172.6" cy="227.2" r="4.05" fill="#F43337" fill-opacity="0.24" stroke="#F43337" stroke-opacity="0.25" stroke-width="1.2"/>
<circle cx="1172.6" cy="230.6" r="4.05" fill="#F43337" fill-opacity="0.24" stroke="#F43337" stroke-opacity="0.25" stroke-width="1.2"/>
<circle cx="1172.6" cy="233.2" r="4.05" fill="#F43337" fill-opacity="0.24" stroke="#F43337" stroke-opacity="0.25" stroke-width="1.2"/>
<circle cx="1172.6" cy="238.3" r="4.05" fill="#F43337" fill-opacity="0.24" stroke="#F43337" stroke-opacity="0.25" stroke-width="1.2"/>
<circle cx="1172.6" cy="241.7" r="4.05" fill="#F43337" fill-opacity="0.24" stroke="#F43337" stroke-opacity="0.25" stroke-width="1.2"/>
<circle cx="1172.6" cy="245.1" r="4.05" fill="#F43337" fill-opacity="0.24" stroke="#F43337" stroke-opacity="0.25" stroke-width="1.2"/>
<circle cx="1203.1" cy="212.8" r="4.05" fill="#F43337" fill-opacity="0.24" stroke="#F43337" stroke-opacity="0.25" stroke-width="1.2"/>
<circle cx="1203.1" cy="221.3" r="4.05" fill="#F43337" fill-opacity="0.24" stroke="#F43337" stroke-opacity="0.25" stroke-width="1.2"/>
<circle cx="1203.1" cy="225.5" r="4.05" fill="#F43337" fill-opacity="0.24" stroke="#F43337" stroke-opacity="0.25" stroke-width="1.2"/>
<circle cx="1203.1" cy="229.8" r="4.05" fill="#F43337" fill-opacity="0.24" stroke="#F43337" stroke-opacity="0.25" stroke-width="1.2"/>
<circle cx="1203.1" cy="232.8" r="4.05" fill="#F43337" fill-opacity="0.24" stroke="#F43337" stroke-opacity="0.25" stroke-width="1.2"/>
<circle cx="1210.5" cy="210.3" r="4.05" fill="#F43337" fill-opacity="0.24" stroke="#F43337" stroke-opacity="0.25" stroke-width="1.2"/>
<circle cx="1210.5" cy="215.4" r="4.05" fill="#F43337" fill-opacity="0.24" stroke="#F43337" stroke-opacity="0.25" stroke-width="1.2"/>
<circle cx="1210.5" cy="219.6" r="4.05" fill="#F43337" fill-opacity="0.24" stroke="#F43337" stroke-opacity="0.25" stroke-width="1.2"/>
<circle cx="1210.5" cy="224.7" r="4.05" fill="#F43337" fill-opacity="0.24" stroke="#F43337" stroke-opacity="0.25" stroke-width="1.2"/>
<circle cx="1210.5" cy="229.0" r="4.05" fill="#F43337" fill-opacity="0.24" stroke="#F43337" stroke-opacity="0.25" stroke-width="1.2"/>
<circle cx="1210.5" cy="233.2" r="4.05" fill="#F43337" fill-opacity="0.24" stroke="#F43337" stroke-opacity="0.25" stroke-width="1.2"/>
<circle cx="1233.4" cy="186.5" r="4.05" fill="#F43337" fill-opacity="0.24" stroke="#F43337" stroke-opacity="0.25" stroke-width="1.2"/>
<circle cx="1233.4" cy="193.3" r="4.05" fill="#F43337" fill-opacity="0.24" stroke="#F43337" stroke-opacity="0.25" stroke-width="1.2"/>
<circle cx="1233.4" cy="213.7" r="4.05" fill="#F43337" fill-opacity="0.24" stroke="#F43337" stroke-opacity="0.25" stroke-width="1.2"/>
<circle cx="1233.4" cy="226.4" r="4.05" fill="#F43337" fill-opacity="0.24" stroke="#F43337" stroke-opacity="0.25" stroke-width="1.2"/>
<circle cx="1233.4" cy="231.2" r="4.05" fill="#F43337" fill-opacity="0.24" stroke="#F43337" stroke-opacity="0.25" stroke-width="1.2"/>
<circle cx="1264.6" cy="177.4" r="4.05" fill="#F43337" fill-opacity="0.24" stroke="#F43337" stroke-opacity="0.25" stroke-width="1.2"/>
<circle cx="1264.6" cy="197.7" r="4.05" fill="#F43337" fill-opacity="0.24" stroke="#F43337" stroke-opacity="0.25" stroke-width="1.2"/>
<circle cx="1264.6" cy="201.1" r="4.05" fill="#F43337" fill-opacity="0.24" stroke="#F43337" stroke-opacity="0.25" stroke-width="1.2"/>
<circle cx="1264.6" cy="204.5" r="4.05" fill="#F43337" fill-opacity="0.24" stroke="#F43337" stroke-opacity="0.25" stroke-width="1.2"/>
<circle cx="1264.6" cy="207.9" r="4.05" fill="#F43337" fill-opacity="0.24" stroke="#F43337" stroke-opacity="0.25" stroke-width="1.2"/>
<circle cx="1264.6" cy="211.5" r="4.05" fill="#F43337" fill-opacity="0.24" stroke="#F43337" stroke-opacity="0.25" stroke-width="1.2"/>
<circle cx="1264.6" cy="221.7" r="4.05" fill="#F43337" fill-opacity="0.24" stroke="#F43337" stroke-opacity="0.25" stroke-width="1.2"/>
<circle cx="1264.6" cy="226.8" r="4.05" fill="#F43337" fill-opacity="0.24" stroke="#F43337" stroke-opacity="0.25" stroke-width="1.2"/>
<circle cx="1294.7" cy="174.0" r="4.05" fill="#F43337" fill-opacity="0.24" stroke="#F43337" stroke-opacity="0.25" stroke-width="1.2"/>
<circle cx="1294.7" cy="180.7" r="4.05" fill="#F43337" fill-opacity="0.24" stroke="#F43337" stroke-opacity="0.25" stroke-width="1.2"/>
<circle cx="1294.7" cy="185.8" r="4.05" fill="#F43337" fill-opacity="0.24" stroke="#F43337" stroke-opacity="0.25" stroke-width="1.2"/>
<circle cx="1294.7" cy="207.9" r="4.05" fill="#F43337" fill-opacity="0.24" stroke="#F43337" stroke-opacity="0.25" stroke-width="1.2"/>
<circle cx="1294.7" cy="212.0" r="4.05" fill="#F43337" fill-opacity="0.24" stroke="#F43337" stroke-opacity="0.25" stroke-width="1.2"/>
<circle cx="1302.3" cy="171.4" r="4.05" fill="#F43337" fill-opacity="0.24" stroke="#F43337" stroke-opacity="0.25" stroke-width="1.2"/>
<circle cx="1302.3" cy="179.0" r="4.05" fill="#F43337" fill-opacity="0.24" stroke="#F43337" stroke-opacity="0.25" stroke-width="1.2"/>
<circle cx="1302.3" cy="182.4" r="4.05" fill="#F43337" fill-opacity="0.24" stroke="#F43337" stroke-opacity="0.25" stroke-width="1.2"/>
<circle cx="1302.3" cy="185.8" r="4.05" fill="#F43337" fill-opacity="0.24" stroke="#F43337" stroke-opacity="0.25" stroke-width="1.2"/>
<circle cx="1302.3" cy="194.3" r="4.05" fill="#F43337" fill-opacity="0.24" stroke="#F43337" stroke-opacity="0.25" stroke-width="1.2"/>
<circle cx="1302.3" cy="205.4" r="4.05" fill="#F43337" fill-opacity="0.24" stroke="#F43337" stroke-opacity="0.25" stroke-width="1.2"/>
<circle cx="1302.3" cy="211.5" r="4.05" fill="#F43337" fill-opacity="0.24" stroke="#F43337" stroke-opacity="0.25" stroke-width="1.2"/>
<circle cx="1302.3" cy="218.3" r="4.05" fill="#F43337" fill-opacity="0.24" stroke="#F43337" stroke-opacity="0.25" stroke-width="1.2"/>
<circle cx="1325.4" cy="158.4" r="4.05" fill="#F43337" fill-opacity="0.24" stroke="#F43337" stroke-opacity="0.25" stroke-width="1.2"/>
<circle cx="1325.4" cy="188.3" r="4.05" fill="#F43337" fill-opacity="0.24" stroke="#F43337" stroke-opacity="0.25" stroke-width="1.2"/>
<circle cx="1325.4" cy="193.4" r="4.05" fill="#F43337" fill-opacity="0.24" stroke="#F43337" stroke-opacity="0.25" stroke-width="1.2"/>
<circle cx="1325.4" cy="219.9" r="4.05" fill="#F43337" fill-opacity="0.24" stroke="#F43337" stroke-opacity="0.25" stroke-width="1.2"/>
<circle cx="1356.5" cy="168.9" r="4.05" fill="#F43337" fill-opacity="0.24" stroke="#F43337" stroke-opacity="0.25" stroke-width="1.2"/>
<circle cx="1356.5" cy="177.5" r="4.05" fill="#F43337" fill-opacity="0.24" stroke="#F43337" stroke-opacity="0.25" stroke-width="1.2"/>
<circle cx="1448.7" cy="144.3" r="4.05" fill="#F43337" fill-opacity="0.24" stroke="#F43337" stroke-opacity="0.25" stroke-width="1.2"/>
<circle cx="1080.6" cy="351.0" r="4.05" fill="#F43337" fill-opacity="0.24" stroke="#F43337" stroke-opacity="0.25" stroke-width="1.2"/>
<circle cx="1080.6" cy="353.0" r="4.05" fill="#F43337" fill-opacity="0.24" stroke="#F43337" stroke-opacity="0.25" stroke-width="1.2"/>
<circle cx="1080.6" cy="355.0" r="4.05" fill="#F43337" fill-opacity="0.24" stroke="#F43337" stroke-opacity="0.25" stroke-width="1.2"/>
<circle cx="1080.6" cy="357.0" r="4.05" fill="#F43337" fill-opacity="0.24" stroke="#F43337" stroke-opacity="0.25" stroke-width="1.2"/>
<circle cx="1080.6" cy="359.0" r="4.05" fill="#F43337" fill-opacity="0.24" stroke="#F43337" stroke-opacity="0.25" stroke-width="1.2"/>
<circle cx="1080.6" cy="361.0" r="4.05" fill="#F43337" fill-opacity="0.24" stroke="#F43337" stroke-opacity="0.25" stroke-width="1.2"/>
<circle cx="1080.6" cy="363.0" r="4.05" fill="#F43337" fill-opacity="0.24" stroke="#F43337" stroke-opacity="0.25" stroke-width="1.2"/>
<circle cx="1080.6" cy="365.0" r="4.05" fill="#F43337" fill-opacity="0.24" stroke="#F43337" stroke-opacity="0.25" stroke-width="1.2"/>
<circle cx="1080.6" cy="367.0" r="4.05" fill="#F43337" fill-opacity="0.24" stroke="#F43337" stroke-opacity="0.25" stroke-width="1.2"/>
<circle cx="1080.6" cy="369.0" r="4.05" fill="#F43337" fill-opacity="0.24" stroke="#F43337" stroke-opacity="0.25" stroke-width="1.2"/>
<circle cx="1172.6" cy="225.5" r="4.05" fill="#F43337" fill-opacity="0.24" stroke="#F43337" stroke-opacity="0.25" stroke-width="1.2"/>
<circle cx="1172.6" cy="229.0" r="4.05" fill="#F43337" fill-opacity="0.24" stroke="#F43337" stroke-opacity="0.25" stroke-width="1.2"/>
<circle cx="1172.6" cy="232.0" r="4.05" fill="#F43337" fill-opacity="0.24" stroke="#F43337" stroke-opacity="0.25" stroke-width="1.2"/>
<path d="M1052.98,431.51 L1055.86,423.07 L1058.74,414.90 L1061.62,407.01 L1064.50,399.39 L1067.38,392.02 L1070.25,384.90 L1073.13,378.01 L1076.01,371.36 L1078.89,364.93 L1081.77,358.72 L1084.65,352.71 L1087.53,346.91 L1090.41,341.29 L1093.29,335.87 L1096.17,330.63 L1099.05,325.57 L1101.93,320.67 L1104.81,315.94 L1107.69,311.37 L1110.57,306.95 L1113.45,302.67 L1116.32,298.55 L1119.20,294.56 L1122.08,290.70 L1124.96,286.97 L1127.84,283.37 L1130.72,279.89 L1133.60,276.52 L1136.48,273.27 L1139.36,270.13 L1142.24,267.09 L1145.12,264.15 L1148.00,261.32 L1150.88,258.57 L1153.76,255.92 L1156.64,253.36 L1159.51,250.88 L1162.39,248.49 L1165.27,246.18 L1168.15,243.94 L1171.03,241.78 L1173.91,239.69 L1176.79,237.68 L1179.67,235.72 L1182.55,233.84 L1185.43,232.02 L1188.31,230.26 L1191.19,228.55 L1194.07,226.91 L1196.95,225.32 L1199.83,223.78 L1202.70,222.30 L1205.58,220.86 L1208.46,219.48 L1211.34,218.13 L1214.22,216.84 L1217.10,215.59 L1219.98,214.38 L1222.86,213.21 L1225.74,212.07 L1228.62,210.98 L1231.50,209.93 L1234.38,208.91 L1237.26,207.92 L1240.14,206.96 L1243.02,206.04 L1245.89,205.15 L1248.77,204.29 L1251.65,203.46 L1254.53,202.66 L1257.41,201.88 L1260.29,201.13 L1263.17,200.40 L1266.05,199.70 L1268.93,199.02 L1271.81,198.37 L1274.69,197.73 L1277.57,197.12 L1280.45,196.53 L1283.33,195.96 L1286.21,195.40 L1289.08,194.87 L1291.96,194.35 L1294.84,193.85 L1297.72,193.37 L1300.60,192.91 L1303.48,192.46 L1306.36,192.02 L1309.24,191.60 L1312.12,191.19 L1315.00,190.80 L1317.88,190.42 L1320.76,190.05 L1323.64,189.70 L1326.52,189.35 L1329.40,189.02 L1332.27,188.70 L1335.15,188.39 L1338.03,188.09 L1340.91,187.80 L1343.79,187.52 L1346.67,187.25 L1349.55,186.99 L1352.43,186.74 L1355.31,186.50 L1358.19,186.26 L1361.07,186.03 L1363.95,185.81 L1366.83,185.60 L1369.71,185.39 L1372.59,185.20 L1375.46,185.00 L1378.34,184.82 L1381.22,184.64 L1384.10,184.46 L1386.98,184.30 L1389.86,184.13 L1392.74,183.98 L1395.62,183.83 L1398.50,183.68 L1401.38,183.54 L1404.26,183.40 L1407.14,183.27 L1410.02,183.14 L1412.90,183.02 L1415.78,182.90 L1418.66,182.78 L1421.53,182.67 L1424.41,182.57 L1427.29,182.46 L1430.17,182.36 L1433.05,182.26 L1435.93,182.17 L1438.81,182.08 L1441.69,181.99 L1444.57,181.91 L1447.45,181.82 L1450.33,181.75 L1453.21,181.67 L1456.09,181.59 L1458.97,181.52 L1461.85,181.45 L1464.72,181.39 L1467.60,181.32 L1470.48,181.26 L1473.36,181.20 L1476.24,181.14 L1479.12,181.09 L1482.00,181.03 L1484.88,180.98 L1487.76,180.93 L1490.64,180.88 L1493.52,180.83 L1496.40,180.78 L1499.28,180.74 L1502.16,180.70 L1505.04,180.66 L1507.91,180.62 L1510.79,180.58 L1513.67,180.54 L1516.55,180.50 L1519.43,180.47 L1522.31,180.43 L1525.19,180.40 L1528.07,180.37 L1530.95,180.34 L1533.83,180.31 L1536.71,180.28 L1539.59,180.25 L1542.47,180.23 L1545.35,180.20 L1548.23,180.18 L1551.10,180.15 L1553.98,180.13 L1556.86,180.11 L1559.74,180.09 L1562.62,180.06 L1565.50,180.04 L1568.38,180.03 L1571.26,180.01 L1574.14,179.99 L1577.02,179.97 L1579.90,179.95 L1582.78,179.94 L1585.66,179.92 L1588.54,179.91 L1591.42,179.89 L1594.29,179.88 L1597.17,179.86 L1600.05,179.85 L1602.93,179.84 L1605.81,179.82 L1608.69,179.81 L1611.57,179.80 L1614.45,179.79 L1617.33,179.78 L1620.21,179.77 L1623.09,179.76 L1625.97,179.75 L1628.85,179.74 L1631.73,179.73 L1634.61,179.72 L1637.48,179.71 L1640.36,179.70 L1643.24,179.69 L1646.12,179.69 L1649.00,179.68 L1651.88,179.67 L1654.76,179.66 L1657.64,179.66 L1660.52,179.65 L1663.40,179.64 L1666.28,179.64 L1669.16,179.63 L1672.04,179.63 L1674.92,179.62 L1677.80,179.61 L1680.68,179.61 L1683.55,179.60 L1686.43,179.60 L1689.31,179.60 L1692.19,179.59 L1695.07,179.59 L1697.95,179.58 L1700.83,179.58 L1703.71,179.57 L1706.59,179.57 L1709.47,179.57 L1712.35,179.56 L1715.23,179.56 L1718.11,179.56 L1720.99,179.55 L1723.87,179.55 L1726.74,179.55 L1729.62,179.54 L1732.50,179.54 L1735.38,179.54 L1738.26,179.54 L1741.14,179.53 L1744.02,179.53 L1746.90,179.53 L1749.78,179.53 L1752.66,179.52 L1755.54,179.52 L1758.42,179.52 L1761.30,179.52 L1764.18,179.52 L1767.06,179.51 L1769.93,179.51 L1772.81,179.51 L1775.69,179.51 L1778.57,179.51 L1781.45,179.51 L1784.33,179.50 L1787.21,179.50 L1790.09,179.50 L1792.97,179.50 L1795.85,179.50 L1798.73,179.50 L1801.61,179.50 L1804.49,179.49 L1807.37,179.49 L1810.25,179.49 L1813.12,179.49 L1816.00,179.49 L1818.88,179.49 L1821.76,179.49 L1824.64,179.49 L1827.52,179.49 L1830.40,179.49 L1833.28,179.48 L1836.16,179.48 L1839.04,179.48 L1841.92,179.48 L1844.80,179.48 L1847.68,179.48 L1850.56,179.48 L1853.44,179.48 L1856.31,179.48 L1859.19,179.48 L1862.07,179.48 L1864.95,179.48 L1867.83,179.48 L1870.71,179.48 L1873.59,179.48 L1876.47,179.47 L1879.35,179.47 L1882.23,179.47 L1885.11,179.47 L1887.99,179.47 L1890.87,179.47 L1893.75,179.47 L1896.63,179.47 L1899.50,179.47 L1902.38,179.47 L1905.26,179.47 L1908.14,179.47 L1911.02,179.47 L1913.90,179.47" fill="none" stroke="#F43337" stroke-width="3.7" stroke-linejoin="round"/>
</g>
<path d="M1042.50,50.30 L1042.50,531.65" stroke="#1a1a1a" stroke-width="1.9"/>
<path d="M1041.55,530.70 L1943.32,530.70" stroke="#1a1a1a" stroke-width="1.9"/>
<path d="M1038.20,530.70 L1042.50,530.70" stroke="#333" stroke-width="1.5"/>
<text x="1034.30" y="537.50" font-size="19.5" fill="#444444" stroke="#444444" stroke-width="0.2" text-anchor="end">0</text>
<path d="M1038.20,470.70 L1042.50,470.70" stroke="#333" stroke-width="1.5"/>
<text x="1034.30" y="477.50" font-size="19.5" fill="#444444" stroke="#444444" stroke-width="0.2" text-anchor="end">5</text>
<path d="M1038.20,410.70 L1042.50,410.70" stroke="#333" stroke-width="1.5"/>
<text x="1034.30" y="417.50" font-size="19.5" fill="#444444" stroke="#444444" stroke-width="0.2" text-anchor="end">10</text>
<path d="M1038.20,350.70 L1042.50,350.70" stroke="#333" stroke-width="1.5"/>
<text x="1034.30" y="357.50" font-size="19.5" fill="#444444" stroke="#444444" stroke-width="0.2" text-anchor="end">15</text>
<path d="M1038.20,290.70 L1042.50,290.70" stroke="#333" stroke-width="1.5"/>
<text x="1034.30" y="297.50" font-size="19.5" fill="#444444" stroke="#444444" stroke-width="0.2" text-anchor="end">20</text>
<path d="M1038.20,230.70 L1042.50,230.70" stroke="#333" stroke-width="1.5"/>
<text x="1034.30" y="237.50" font-size="19.5" fill="#444444" stroke="#444444" stroke-width="0.2" text-anchor="end">25</text>
<path d="M1038.20,170.70 L1042.50,170.70" stroke="#333" stroke-width="1.5"/>
<text x="1034.30" y="177.50" font-size="19.5" fill="#444444" stroke="#444444" stroke-width="0.2" text-anchor="end">30</text>
<path d="M1038.20,110.70 L1042.50,110.70" stroke="#333" stroke-width="1.5"/>
<text x="1034.30" y="117.50" font-size="19.5" fill="#444444" stroke="#444444" stroke-width="0.2" text-anchor="end">35</text>
<path d="M1038.20,50.70 L1042.50,50.70" stroke="#333" stroke-width="1.5"/>
<text x="1034.30" y="57.50" font-size="19.5" fill="#444444" stroke="#444444" stroke-width="0.2" text-anchor="end">40</text>
<path d="M1042.50,530.70 L1042.50,535.00" stroke="#333" stroke-width="1.5"/>
<text x="1042.50" y="553.00" font-size="19.5" fill="#444444" stroke="#444444" stroke-width="0.2" text-anchor="middle">0</text>
<path d="M1134.42,530.70 L1134.42,535.00" stroke="#333" stroke-width="1.5"/>
<text x="1134.42" y="553.00" font-size="19.5" fill="#444444" stroke="#444444" stroke-width="0.2" text-anchor="middle">1</text>
<path d="M1226.34,530.70 L1226.34,535.00" stroke="#333" stroke-width="1.5"/>
<text x="1226.34" y="553.00" font-size="19.5" fill="#444444" stroke="#444444" stroke-width="0.2" text-anchor="middle">2</text>
<path d="M1318.26,530.70 L1318.26,535.00" stroke="#333" stroke-width="1.5"/>
<text x="1318.26" y="553.00" font-size="19.5" fill="#444444" stroke="#444444" stroke-width="0.2" text-anchor="middle">3</text>
<path d="M1410.18,530.70 L1410.18,535.00" stroke="#333" stroke-width="1.5"/>
<text x="1410.18" y="553.00" font-size="19.5" fill="#444444" stroke="#444444" stroke-width="0.2" text-anchor="middle">4</text>
<path d="M1502.10,530.70 L1502.10,535.00" stroke="#333" stroke-width="1.5"/>
<text x="1502.10" y="553.00" font-size="19.5" fill="#444444" stroke="#444444" stroke-width="0.2" text-anchor="middle">5</text>
<path d="M1594.02,530.70 L1594.02,535.00" stroke="#333" stroke-width="1.5"/>
<text x="1594.02" y="553.00" font-size="19.5" fill="#444444" stroke="#444444" stroke-width="0.2" text-anchor="middle">6</text>
<path d="M1685.94,530.70 L1685.94,535.00" stroke="#333" stroke-width="1.5"/>
<text x="1685.94" y="553.00" font-size="19.5" fill="#444444" stroke="#444444" stroke-width="0.2" text-anchor="middle">7</text>
<path d="M1777.86,530.70 L1777.86,535.00" stroke="#333" stroke-width="1.5"/>
<text x="1777.86" y="553.00" font-size="19.5" fill="#444444" stroke="#444444" stroke-width="0.2" text-anchor="middle">8</text>
<path d="M1869.78,530.70 L1869.78,535.00" stroke="#333" stroke-width="1.5"/>
<text x="1869.78" y="553.00" font-size="19.5" fill="#444444" stroke="#444444" stroke-width="0.2" text-anchor="middle">9</text>
<text x="1493.41" y="579.0" font-size="25.6" fill="#000" stroke="#000" stroke-width="0.35" text-anchor="middle">Age (years)</text>
<circle cx="1097.4" cy="74.2" r="4.3" fill="#F43337" fill-opacity="0.3" stroke="#F43337" stroke-opacity="0.3" stroke-width="1"/>
<path d="M1086.4,74.2 L1108.5,74.2" stroke="#F43337" stroke-width="3.6"/>
<text x="1123.2" y="80.8" font-size="20.2" fill="#000" stroke="#000" stroke-width="0.35">Males 1985-1986</text>
<circle cx="1097.4" cy="101.6" r="4.3" fill="#2887D3" fill-opacity="0.3" stroke="#2887D3" stroke-opacity="0.3" stroke-width="1"/>
<path d="M1086.4,101.6 L1108.5,101.6" stroke="#2887D3" stroke-width="3.6"/>
<text x="1123.2" y="108.2" font-size="20.2" fill="#000" stroke="#000" stroke-width="0.35">Males 2020-2021</text>
<text transform="translate(30.0,290.6) rotate(-90)" x="0" y="0" font-size="25.6" fill="#000" stroke="#000" stroke-width="0.35" text-anchor="middle">Total Length (cm)</text>
<text x="6.3" y="23.9" font-size="29.5" font-weight="bold" fill="#000">A</text>
<text x="974.2" y="23.9" font-size="29.5" font-weight="bold" fill="#000">B</text>
</svg></body></html>
